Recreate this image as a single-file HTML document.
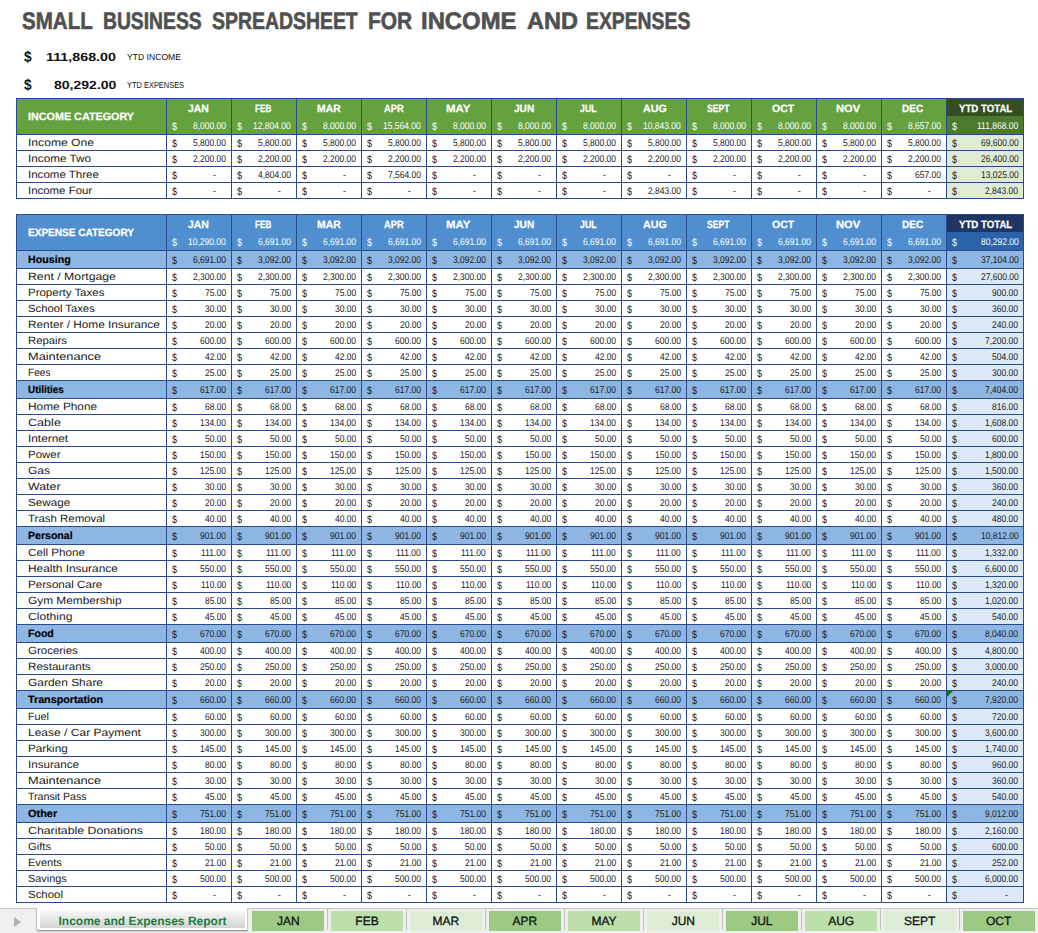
<!DOCTYPE html>
<html><head><meta charset="utf-8"><title>Small Business Spreadsheet</title><style>
*{margin:0;padding:0}
html,body{width:1038px;height:933px;overflow:hidden;background:#fff;position:relative;font-family:"Liberation Sans", sans-serif;text-rendering:geometricPrecision}
div{position:absolute}
span{position:absolute;white-space:pre;transform-origin:0 0}
</style></head><body>
<div style="left:16px;top:98px;width:1008px;height:36px;background:#64a13f;"></div><div style="left:946px;top:98px;width:77px;height:18px;background:#334e21;"></div><div style="left:946px;top:116px;width:77px;height:18px;background:#4b7a2f;"></div><div style="left:946px;top:134px;width:77px;height:16px;background:#dfecd5;"></div><div style="left:946px;top:150px;width:77px;height:16px;background:#dfecd5;"></div><div style="left:946px;top:166px;width:77px;height:16px;background:#dfecd5;"></div><div style="left:946px;top:182px;width:77px;height:16px;background:#dfecd5;"></div><div style="left:16px;top:98px;width:1008px;height:1px;background:#2b4a8c;"></div><div style="left:16px;top:134px;width:1008px;height:1px;background:#2b4a8c;"></div><div style="left:16px;top:150px;width:1008px;height:1px;background:#2b4a8c;"></div><div style="left:16px;top:166px;width:1008px;height:1px;background:#2b4a8c;"></div><div style="left:16px;top:182px;width:1008px;height:1px;background:#2b4a8c;"></div><div style="left:16px;top:198px;width:1008px;height:1px;background:#2b4a8c;"></div><div style="left:16px;top:98px;width:1px;height:101px;background:#2b4a8c;"></div><div style="left:166px;top:98px;width:1px;height:101px;background:#2b4a8c;"></div><div style="left:231px;top:98px;width:1px;height:101px;background:#2b4a8c;"></div><div style="left:296px;top:98px;width:1px;height:101px;background:#2b4a8c;"></div><div style="left:361px;top:98px;width:1px;height:101px;background:#2b4a8c;"></div><div style="left:426px;top:98px;width:1px;height:101px;background:#2b4a8c;"></div><div style="left:491px;top:98px;width:1px;height:101px;background:#2b4a8c;"></div><div style="left:556px;top:98px;width:1px;height:101px;background:#2b4a8c;"></div><div style="left:621px;top:98px;width:1px;height:101px;background:#2b4a8c;"></div><div style="left:686px;top:98px;width:1px;height:101px;background:#2b4a8c;"></div><div style="left:751px;top:98px;width:1px;height:101px;background:#2b4a8c;"></div><div style="left:816px;top:98px;width:1px;height:101px;background:#2b4a8c;"></div><div style="left:881px;top:98px;width:1px;height:101px;background:#2b4a8c;"></div><div style="left:946px;top:98px;width:1px;height:101px;background:#2b4a8c;"></div><div style="left:1023px;top:98px;width:1px;height:101px;background:#2b4a8c;"></div><div style="left:16px;top:214px;width:1008px;height:36px;background:#4f8fcf;"></div><div style="left:946px;top:214px;width:77px;height:18px;background:#1f3563;"></div><div style="left:946px;top:232px;width:77px;height:18px;background:#2a63a8;"></div><div style="left:16px;top:250px;width:1008px;height:18px;background:#8db6e3;"></div><div style="left:946px;top:268px;width:77px;height:16px;background:#dce9f6;"></div><div style="left:946px;top:284px;width:77px;height:16px;background:#dce9f6;"></div><div style="left:946px;top:300px;width:77px;height:16px;background:#dce9f6;"></div><div style="left:946px;top:316px;width:77px;height:16px;background:#dce9f6;"></div><div style="left:946px;top:332px;width:77px;height:16px;background:#dce9f6;"></div><div style="left:946px;top:348px;width:77px;height:16px;background:#dce9f6;"></div><div style="left:946px;top:364px;width:77px;height:16px;background:#dce9f6;"></div><div style="left:16px;top:380px;width:1008px;height:18px;background:#8db6e3;"></div><div style="left:946px;top:398px;width:77px;height:16px;background:#dce9f6;"></div><div style="left:946px;top:414px;width:77px;height:16px;background:#dce9f6;"></div><div style="left:946px;top:430px;width:77px;height:16px;background:#dce9f6;"></div><div style="left:946px;top:446px;width:77px;height:16px;background:#dce9f6;"></div><div style="left:946px;top:462px;width:77px;height:16px;background:#dce9f6;"></div><div style="left:946px;top:478px;width:77px;height:16px;background:#dce9f6;"></div><div style="left:946px;top:494px;width:77px;height:16px;background:#dce9f6;"></div><div style="left:946px;top:510px;width:77px;height:16px;background:#dce9f6;"></div><div style="left:16px;top:526px;width:1008px;height:18px;background:#8db6e3;"></div><div style="left:946px;top:544px;width:77px;height:16px;background:#dce9f6;"></div><div style="left:946px;top:560px;width:77px;height:16px;background:#dce9f6;"></div><div style="left:946px;top:576px;width:77px;height:16px;background:#dce9f6;"></div><div style="left:946px;top:592px;width:77px;height:16px;background:#dce9f6;"></div><div style="left:946px;top:608px;width:77px;height:16px;background:#dce9f6;"></div><div style="left:16px;top:624px;width:1008px;height:18px;background:#8db6e3;"></div><div style="left:946px;top:642px;width:77px;height:16px;background:#dce9f6;"></div><div style="left:946px;top:658px;width:77px;height:16px;background:#dce9f6;"></div><div style="left:946px;top:674px;width:77px;height:16px;background:#dce9f6;"></div><div style="left:16px;top:690px;width:1008px;height:18px;background:#8db6e3;"></div><div style="left:946px;top:708px;width:77px;height:16px;background:#dce9f6;"></div><div style="left:946px;top:724px;width:77px;height:16px;background:#dce9f6;"></div><div style="left:946px;top:740px;width:77px;height:16px;background:#dce9f6;"></div><div style="left:946px;top:756px;width:77px;height:16px;background:#dce9f6;"></div><div style="left:946px;top:772px;width:77px;height:16px;background:#dce9f6;"></div><div style="left:946px;top:788px;width:77px;height:16px;background:#dce9f6;"></div><div style="left:16px;top:804px;width:1008px;height:18px;background:#8db6e3;"></div><div style="left:946px;top:822px;width:77px;height:16px;background:#dce9f6;"></div><div style="left:946px;top:838px;width:77px;height:16px;background:#dce9f6;"></div><div style="left:946px;top:854px;width:77px;height:16px;background:#dce9f6;"></div><div style="left:946px;top:870px;width:77px;height:16px;background:#dce9f6;"></div><div style="left:946px;top:886px;width:77px;height:16px;background:#dce9f6;"></div><div style="left:16px;top:214px;width:1008px;height:1px;background:#2b4a8c;"></div><div style="left:16px;top:250px;width:1008px;height:1px;background:#2b4a8c;"></div><div style="left:16px;top:268px;width:1008px;height:1px;background:#2b4a8c;"></div><div style="left:16px;top:284px;width:1008px;height:1px;background:#2b4a8c;"></div><div style="left:16px;top:300px;width:1008px;height:1px;background:#2b4a8c;"></div><div style="left:16px;top:316px;width:1008px;height:1px;background:#2b4a8c;"></div><div style="left:16px;top:332px;width:1008px;height:1px;background:#2b4a8c;"></div><div style="left:16px;top:348px;width:1008px;height:1px;background:#2b4a8c;"></div><div style="left:16px;top:364px;width:1008px;height:1px;background:#2b4a8c;"></div><div style="left:16px;top:380px;width:1008px;height:1px;background:#2b4a8c;"></div><div style="left:16px;top:398px;width:1008px;height:1px;background:#2b4a8c;"></div><div style="left:16px;top:414px;width:1008px;height:1px;background:#2b4a8c;"></div><div style="left:16px;top:430px;width:1008px;height:1px;background:#2b4a8c;"></div><div style="left:16px;top:446px;width:1008px;height:1px;background:#2b4a8c;"></div><div style="left:16px;top:462px;width:1008px;height:1px;background:#2b4a8c;"></div><div style="left:16px;top:478px;width:1008px;height:1px;background:#2b4a8c;"></div><div style="left:16px;top:494px;width:1008px;height:1px;background:#2b4a8c;"></div><div style="left:16px;top:510px;width:1008px;height:1px;background:#2b4a8c;"></div><div style="left:16px;top:526px;width:1008px;height:1px;background:#2b4a8c;"></div><div style="left:16px;top:544px;width:1008px;height:1px;background:#2b4a8c;"></div><div style="left:16px;top:560px;width:1008px;height:1px;background:#2b4a8c;"></div><div style="left:16px;top:576px;width:1008px;height:1px;background:#2b4a8c;"></div><div style="left:16px;top:592px;width:1008px;height:1px;background:#2b4a8c;"></div><div style="left:16px;top:608px;width:1008px;height:1px;background:#2b4a8c;"></div><div style="left:16px;top:624px;width:1008px;height:1px;background:#2b4a8c;"></div><div style="left:16px;top:642px;width:1008px;height:1px;background:#2b4a8c;"></div><div style="left:16px;top:658px;width:1008px;height:1px;background:#2b4a8c;"></div><div style="left:16px;top:674px;width:1008px;height:1px;background:#2b4a8c;"></div><div style="left:16px;top:690px;width:1008px;height:1px;background:#2b4a8c;"></div><div style="left:16px;top:708px;width:1008px;height:1px;background:#2b4a8c;"></div><div style="left:16px;top:724px;width:1008px;height:1px;background:#2b4a8c;"></div><div style="left:16px;top:740px;width:1008px;height:1px;background:#2b4a8c;"></div><div style="left:16px;top:756px;width:1008px;height:1px;background:#2b4a8c;"></div><div style="left:16px;top:772px;width:1008px;height:1px;background:#2b4a8c;"></div><div style="left:16px;top:788px;width:1008px;height:1px;background:#2b4a8c;"></div><div style="left:16px;top:804px;width:1008px;height:1px;background:#2b4a8c;"></div><div style="left:16px;top:822px;width:1008px;height:1px;background:#2b4a8c;"></div><div style="left:16px;top:838px;width:1008px;height:1px;background:#2b4a8c;"></div><div style="left:16px;top:854px;width:1008px;height:1px;background:#2b4a8c;"></div><div style="left:16px;top:870px;width:1008px;height:1px;background:#2b4a8c;"></div><div style="left:16px;top:886px;width:1008px;height:1px;background:#2b4a8c;"></div><div style="left:16px;top:902px;width:1008px;height:1px;background:#2b4a8c;"></div><div style="left:16px;top:214px;width:1px;height:689px;background:#2b4a8c;"></div><div style="left:166px;top:214px;width:1px;height:689px;background:#2b4a8c;"></div><div style="left:231px;top:214px;width:1px;height:689px;background:#2b4a8c;"></div><div style="left:296px;top:214px;width:1px;height:689px;background:#2b4a8c;"></div><div style="left:361px;top:214px;width:1px;height:689px;background:#2b4a8c;"></div><div style="left:426px;top:214px;width:1px;height:689px;background:#2b4a8c;"></div><div style="left:491px;top:214px;width:1px;height:689px;background:#2b4a8c;"></div><div style="left:556px;top:214px;width:1px;height:689px;background:#2b4a8c;"></div><div style="left:621px;top:214px;width:1px;height:689px;background:#2b4a8c;"></div><div style="left:686px;top:214px;width:1px;height:689px;background:#2b4a8c;"></div><div style="left:751px;top:214px;width:1px;height:689px;background:#2b4a8c;"></div><div style="left:816px;top:214px;width:1px;height:689px;background:#2b4a8c;"></div><div style="left:881px;top:214px;width:1px;height:689px;background:#2b4a8c;"></div><div style="left:946px;top:214px;width:1px;height:689px;background:#2b4a8c;"></div><div style="left:1023px;top:214px;width:1px;height:689px;background:#2b4a8c;"></div><div style="left:947px;top:691px;width:0;height:0;border-top:6px solid #007c00;border-right:6px solid transparent;background:none"></div>
<div style="left:0;top:908px;width:1038px;height:25px;background:#efefef;border-top:1px solid #c6c6c6;box-sizing:border-box"></div><div style="left:14px;top:917px;width:0;height:0;border-left:7px solid #b0b0b0;border-top:5px solid transparent;border-bottom:5px solid transparent;background:none"></div><div style="left:36px;top:908px;width:212px;height:23px;background:#ffffff;border-left:1px solid #bdbdbd;border-bottom:1px solid #9c9c9c;border-right:1px solid #c8c8c8;border-bottom-left-radius:3px;box-sizing:border-box;box-shadow:0 1px 1px rgba(0,0,0,0.15)"></div><div style="left:40px;top:911px;width:205px;height:17px;background:linear-gradient(#f6f6f6,#d4d4d4)"></div><div style="left:252px;top:911px;width:72px;height:20px;background:#9dca83"></div><div style="left:327px;top:909px;width:1px;height:21px;background:#c3c3c3"></div><div style="left:331px;top:911px;width:72px;height:20px;background:#bddfab"></div><div style="left:406px;top:909px;width:1px;height:21px;background:#c3c3c3"></div><div style="left:410px;top:911px;width:72px;height:20px;background:#ddedd5"></div><div style="left:485px;top:909px;width:1px;height:21px;background:#c3c3c3"></div><div style="left:489px;top:911px;width:72px;height:20px;background:#9dca83"></div><div style="left:564px;top:909px;width:1px;height:21px;background:#c3c3c3"></div><div style="left:568px;top:911px;width:72px;height:20px;background:#bddfab"></div><div style="left:643px;top:909px;width:1px;height:21px;background:#c3c3c3"></div><div style="left:647px;top:911px;width:72px;height:20px;background:#ddedd5"></div><div style="left:722px;top:909px;width:1px;height:21px;background:#c3c3c3"></div><div style="left:726px;top:911px;width:72px;height:20px;background:#9dca83"></div><div style="left:801px;top:909px;width:1px;height:21px;background:#c3c3c3"></div><div style="left:805px;top:911px;width:72px;height:20px;background:#bddfab"></div><div style="left:880px;top:909px;width:1px;height:21px;background:#c3c3c3"></div><div style="left:884px;top:911px;width:72px;height:20px;background:#ddedd5"></div><div style="left:959px;top:909px;width:1px;height:21px;background:#c3c3c3"></div><div style="left:963px;top:911px;width:72px;height:20px;background:#9dca83"></div><div style="left:1038px;top:909px;width:1px;height:21px;background:#c3c3c3"></div>
<span style="left:21.70px;top:7.18px;font-size:24px;line-height:30.0px;font-weight:bold;color:#505050;transform:scaleX(0.8562);-webkit-text-stroke:0.6px #505050;">SMALL</span><span style="left:102.50px;top:7.18px;font-size:24px;line-height:30.0px;font-weight:bold;color:#505050;transform:scaleX(0.8037);-webkit-text-stroke:0.6px #505050;">BUSINESS</span><span style="left:212.20px;top:7.18px;font-size:24px;line-height:30.0px;font-weight:bold;color:#505050;transform:scaleX(0.8094);-webkit-text-stroke:0.6px #505050;">SPREADSHEET</span><span style="left:367.63px;top:7.18px;font-size:24px;line-height:30.0px;font-weight:bold;color:#505050;transform:scaleX(0.8737);-webkit-text-stroke:0.6px #505050;">FOR</span><span style="left:421.41px;top:7.18px;font-size:24px;line-height:30.0px;font-weight:bold;color:#505050;transform:scaleX(0.9938);-webkit-text-stroke:0.6px #505050;">INCOME</span><span style="left:527.00px;top:7.18px;font-size:24px;line-height:30.0px;font-weight:bold;color:#505050;transform:scaleX(0.9775);-webkit-text-stroke:0.6px #505050;">AND</span><span style="left:586.19px;top:7.18px;font-size:24px;line-height:30.0px;font-weight:bold;color:#505050;transform:scaleX(0.8062);-webkit-text-stroke:0.6px #505050;">EXPENSES</span><span style="left:24.10px;top:47.74px;font-size:15.5px;line-height:19.38px;font-weight:bold;color:#111;transform:scaleX(0.8778);">$</span><span style="left:45.90px;top:50.34px;font-size:11.8px;line-height:14.75px;font-weight:bold;color:#111;transform:scaleX(1.2118);">111,868.00</span><span style="left:127.40px;top:51.55px;font-size:8.8px;line-height:11.0px;color:#111;transform:scaleX(0.9773);">YTD INCOME</span><span style="left:24.10px;top:75.54px;font-size:15.5px;line-height:19.38px;font-weight:bold;color:#111;transform:scaleX(0.8778);">$</span><span style="left:53.50px;top:77.74px;font-size:11.8px;line-height:14.75px;font-weight:bold;color:#111;transform:scaleX(1.1886);">80,292.00</span><span style="left:127.40px;top:79.95px;font-size:8.8px;line-height:11.0px;color:#111;transform:scaleX(0.8462);">YTD EXPENSES</span><span style="left:28.30px;top:110.8px;font-size:10.5px;line-height:13.12px;font-weight:bold;color:#ffffff;transform:scaleX(1.0267);-webkit-text-stroke:0.25px #fff;">INCOME CATEGORY</span><span style="left:188.20px;top:103.0px;font-size:10.5px;line-height:13.12px;font-weight:bold;color:#ffffff;transform:scaleX(0.9940);-webkit-text-stroke:0.25px #fff;">JAN</span><span style="left:255.40px;top:103.0px;font-size:10.5px;line-height:13.12px;font-weight:bold;color:#ffffff;transform:scaleX(0.7751);-webkit-text-stroke:0.25px #fff;">FEB</span><span style="left:317.00px;top:103.0px;font-size:10.5px;line-height:13.12px;font-weight:bold;color:#ffffff;transform:scaleX(0.9906);-webkit-text-stroke:0.25px #fff;">MAR</span><span style="left:384.30px;top:103.0px;font-size:10.5px;line-height:13.12px;font-weight:bold;color:#ffffff;transform:scaleX(0.8855);-webkit-text-stroke:0.25px #fff;">APR</span><span style="left:446.40px;top:103.0px;font-size:10.5px;line-height:13.12px;font-weight:bold;color:#ffffff;transform:scaleX(1.0865);-webkit-text-stroke:0.25px #fff;">MAY</span><span style="left:514.10px;top:103.0px;font-size:10.5px;line-height:13.12px;font-weight:bold;color:#ffffff;transform:scaleX(0.9597);-webkit-text-stroke:0.25px #fff;">JUN</span><span style="left:579.90px;top:103.0px;font-size:10.5px;line-height:13.12px;font-weight:bold;color:#ffffff;transform:scaleX(0.8373);-webkit-text-stroke:0.25px #fff;">JUL</span><span style="left:642.50px;top:103.0px;font-size:10.5px;line-height:13.12px;font-weight:bold;color:#ffffff;transform:scaleX(1.0144);-webkit-text-stroke:0.25px #fff;">AUG</span><span style="left:706.80px;top:103.0px;font-size:10.5px;line-height:13.12px;font-weight:bold;color:#ffffff;transform:scaleX(0.8176);-webkit-text-stroke:0.25px #fff;">SEPT</span><span style="left:772.10px;top:103.0px;font-size:10.5px;line-height:13.12px;font-weight:bold;color:#ffffff;transform:scaleX(1.0022);-webkit-text-stroke:0.25px #fff;">OCT</span><span style="left:836.30px;top:103.0px;font-size:10.5px;line-height:13.12px;font-weight:bold;color:#ffffff;transform:scaleX(1.0593);-webkit-text-stroke:0.25px #fff;">NOV</span><span style="left:902.40px;top:103.0px;font-size:10.5px;line-height:13.12px;font-weight:bold;color:#ffffff;transform:scaleX(0.9608);-webkit-text-stroke:0.25px #fff;">DEC</span><span style="left:958.60px;top:103.0px;font-size:10.5px;line-height:13.12px;font-weight:bold;color:#ffffff;transform:scaleX(0.9193);-webkit-text-stroke:0.25px #fff;">YTD TOTAL</span><span style="left:172.20px;top:121.31px;font-size:10.8px;line-height:13.5px;color:#ffffff;transform:scaleX(0.8333);">$</span><span style="left:193.10px;top:121.08px;font-size:9.8px;line-height:12.25px;color:#ffffff;transform:scaleX(0.8659);">8,000.00</span><span style="left:237.20px;top:121.31px;font-size:10.8px;line-height:13.5px;color:#ffffff;transform:scaleX(0.8333);">$</span><span style="left:253.38px;top:121.08px;font-size:9.8px;line-height:12.25px;color:#ffffff;transform:scaleX(0.8659);">12,804.00</span><span style="left:302.20px;top:121.31px;font-size:10.8px;line-height:13.5px;color:#ffffff;transform:scaleX(0.8333);">$</span><span style="left:323.10px;top:121.08px;font-size:9.8px;line-height:12.25px;color:#ffffff;transform:scaleX(0.8659);">8,000.00</span><span style="left:367.20px;top:121.31px;font-size:10.8px;line-height:13.5px;color:#ffffff;transform:scaleX(0.8333);">$</span><span style="left:383.38px;top:121.08px;font-size:9.8px;line-height:12.25px;color:#ffffff;transform:scaleX(0.8659);">15,564.00</span><span style="left:432.20px;top:121.31px;font-size:10.8px;line-height:13.5px;color:#ffffff;transform:scaleX(0.8333);">$</span><span style="left:453.10px;top:121.08px;font-size:9.8px;line-height:12.25px;color:#ffffff;transform:scaleX(0.8659);">8,000.00</span><span style="left:497.20px;top:121.31px;font-size:10.8px;line-height:13.5px;color:#ffffff;transform:scaleX(0.8333);">$</span><span style="left:518.10px;top:121.08px;font-size:9.8px;line-height:12.25px;color:#ffffff;transform:scaleX(0.8659);">8,000.00</span><span style="left:562.20px;top:121.31px;font-size:10.8px;line-height:13.5px;color:#ffffff;transform:scaleX(0.8333);">$</span><span style="left:583.10px;top:121.08px;font-size:9.8px;line-height:12.25px;color:#ffffff;transform:scaleX(0.8659);">8,000.00</span><span style="left:627.20px;top:121.31px;font-size:10.8px;line-height:13.5px;color:#ffffff;transform:scaleX(0.8333);">$</span><span style="left:643.38px;top:121.08px;font-size:9.8px;line-height:12.25px;color:#ffffff;transform:scaleX(0.8659);">10,843.00</span><span style="left:692.20px;top:121.31px;font-size:10.8px;line-height:13.5px;color:#ffffff;transform:scaleX(0.8333);">$</span><span style="left:713.10px;top:121.08px;font-size:9.8px;line-height:12.25px;color:#ffffff;transform:scaleX(0.8659);">8,000.00</span><span style="left:757.20px;top:121.31px;font-size:10.8px;line-height:13.5px;color:#ffffff;transform:scaleX(0.8333);">$</span><span style="left:778.10px;top:121.08px;font-size:9.8px;line-height:12.25px;color:#ffffff;transform:scaleX(0.8659);">8,000.00</span><span style="left:822.20px;top:121.31px;font-size:10.8px;line-height:13.5px;color:#ffffff;transform:scaleX(0.8333);">$</span><span style="left:843.10px;top:121.08px;font-size:9.8px;line-height:12.25px;color:#ffffff;transform:scaleX(0.8659);">8,000.00</span><span style="left:887.20px;top:121.31px;font-size:10.8px;line-height:13.5px;color:#ffffff;transform:scaleX(0.8333);">$</span><span style="left:908.10px;top:121.08px;font-size:9.8px;line-height:12.25px;color:#ffffff;transform:scaleX(0.8659);">8,657.00</span><span style="left:952.20px;top:121.31px;font-size:10.8px;line-height:13.5px;color:#ffffff;transform:scaleX(0.8333);">$</span><span style="left:977.22px;top:121.08px;font-size:9.8px;line-height:12.25px;color:#ffffff;transform:scaleX(0.8659);">111,868.00</span><span style="left:28.40px;top:136.6px;font-size:10.5px;line-height:13.12px;color:#1a1a1a;transform:scaleX(1.1542);">Income One</span><span style="left:172.20px;top:138.11px;font-size:10.8px;line-height:13.5px;color:#1a1a1a;transform:scaleX(0.8333);">$</span><span style="left:193.10px;top:138.48px;font-size:9.8px;line-height:12.25px;color:#1a1a1a;transform:scaleX(0.8659);">5,800.00</span><span style="left:237.20px;top:138.11px;font-size:10.8px;line-height:13.5px;color:#1a1a1a;transform:scaleX(0.8333);">$</span><span style="left:258.10px;top:138.48px;font-size:9.8px;line-height:12.25px;color:#1a1a1a;transform:scaleX(0.8659);">5,800.00</span><span style="left:302.20px;top:138.11px;font-size:10.8px;line-height:13.5px;color:#1a1a1a;transform:scaleX(0.8333);">$</span><span style="left:323.10px;top:138.48px;font-size:9.8px;line-height:12.25px;color:#1a1a1a;transform:scaleX(0.8659);">5,800.00</span><span style="left:367.20px;top:138.11px;font-size:10.8px;line-height:13.5px;color:#1a1a1a;transform:scaleX(0.8333);">$</span><span style="left:388.10px;top:138.48px;font-size:9.8px;line-height:12.25px;color:#1a1a1a;transform:scaleX(0.8659);">5,800.00</span><span style="left:432.20px;top:138.11px;font-size:10.8px;line-height:13.5px;color:#1a1a1a;transform:scaleX(0.8333);">$</span><span style="left:453.10px;top:138.48px;font-size:9.8px;line-height:12.25px;color:#1a1a1a;transform:scaleX(0.8659);">5,800.00</span><span style="left:497.20px;top:138.11px;font-size:10.8px;line-height:13.5px;color:#1a1a1a;transform:scaleX(0.8333);">$</span><span style="left:518.10px;top:138.48px;font-size:9.8px;line-height:12.25px;color:#1a1a1a;transform:scaleX(0.8659);">5,800.00</span><span style="left:562.20px;top:138.11px;font-size:10.8px;line-height:13.5px;color:#1a1a1a;transform:scaleX(0.8333);">$</span><span style="left:583.10px;top:138.48px;font-size:9.8px;line-height:12.25px;color:#1a1a1a;transform:scaleX(0.8659);">5,800.00</span><span style="left:627.20px;top:138.11px;font-size:10.8px;line-height:13.5px;color:#1a1a1a;transform:scaleX(0.8333);">$</span><span style="left:648.10px;top:138.48px;font-size:9.8px;line-height:12.25px;color:#1a1a1a;transform:scaleX(0.8659);">5,800.00</span><span style="left:692.20px;top:138.11px;font-size:10.8px;line-height:13.5px;color:#1a1a1a;transform:scaleX(0.8333);">$</span><span style="left:713.10px;top:138.48px;font-size:9.8px;line-height:12.25px;color:#1a1a1a;transform:scaleX(0.8659);">5,800.00</span><span style="left:757.20px;top:138.11px;font-size:10.8px;line-height:13.5px;color:#1a1a1a;transform:scaleX(0.8333);">$</span><span style="left:778.10px;top:138.48px;font-size:9.8px;line-height:12.25px;color:#1a1a1a;transform:scaleX(0.8659);">5,800.00</span><span style="left:822.20px;top:138.11px;font-size:10.8px;line-height:13.5px;color:#1a1a1a;transform:scaleX(0.8333);">$</span><span style="left:843.10px;top:138.48px;font-size:9.8px;line-height:12.25px;color:#1a1a1a;transform:scaleX(0.8659);">5,800.00</span><span style="left:887.20px;top:138.11px;font-size:10.8px;line-height:13.5px;color:#1a1a1a;transform:scaleX(0.8333);">$</span><span style="left:908.10px;top:138.48px;font-size:9.8px;line-height:12.25px;color:#1a1a1a;transform:scaleX(0.8659);">5,800.00</span><span style="left:952.20px;top:138.11px;font-size:10.8px;line-height:13.5px;color:#1a1a1a;transform:scaleX(0.8333);">$</span><span style="left:980.68px;top:138.48px;font-size:9.8px;line-height:12.25px;color:#1a1a1a;transform:scaleX(0.8659);">69,600.00</span><span style="left:28.40px;top:152.6px;font-size:10.5px;line-height:13.12px;color:#1a1a1a;transform:scaleX(1.1168);">Income Two</span><span style="left:172.20px;top:154.11px;font-size:10.8px;line-height:13.5px;color:#1a1a1a;transform:scaleX(0.8333);">$</span><span style="left:193.10px;top:154.48px;font-size:9.8px;line-height:12.25px;color:#1a1a1a;transform:scaleX(0.8659);">2,200.00</span><span style="left:237.20px;top:154.11px;font-size:10.8px;line-height:13.5px;color:#1a1a1a;transform:scaleX(0.8333);">$</span><span style="left:258.10px;top:154.48px;font-size:9.8px;line-height:12.25px;color:#1a1a1a;transform:scaleX(0.8659);">2,200.00</span><span style="left:302.20px;top:154.11px;font-size:10.8px;line-height:13.5px;color:#1a1a1a;transform:scaleX(0.8333);">$</span><span style="left:323.10px;top:154.48px;font-size:9.8px;line-height:12.25px;color:#1a1a1a;transform:scaleX(0.8659);">2,200.00</span><span style="left:367.20px;top:154.11px;font-size:10.8px;line-height:13.5px;color:#1a1a1a;transform:scaleX(0.8333);">$</span><span style="left:388.10px;top:154.48px;font-size:9.8px;line-height:12.25px;color:#1a1a1a;transform:scaleX(0.8659);">2,200.00</span><span style="left:432.20px;top:154.11px;font-size:10.8px;line-height:13.5px;color:#1a1a1a;transform:scaleX(0.8333);">$</span><span style="left:453.10px;top:154.48px;font-size:9.8px;line-height:12.25px;color:#1a1a1a;transform:scaleX(0.8659);">2,200.00</span><span style="left:497.20px;top:154.11px;font-size:10.8px;line-height:13.5px;color:#1a1a1a;transform:scaleX(0.8333);">$</span><span style="left:518.10px;top:154.48px;font-size:9.8px;line-height:12.25px;color:#1a1a1a;transform:scaleX(0.8659);">2,200.00</span><span style="left:562.20px;top:154.11px;font-size:10.8px;line-height:13.5px;color:#1a1a1a;transform:scaleX(0.8333);">$</span><span style="left:583.10px;top:154.48px;font-size:9.8px;line-height:12.25px;color:#1a1a1a;transform:scaleX(0.8659);">2,200.00</span><span style="left:627.20px;top:154.11px;font-size:10.8px;line-height:13.5px;color:#1a1a1a;transform:scaleX(0.8333);">$</span><span style="left:648.10px;top:154.48px;font-size:9.8px;line-height:12.25px;color:#1a1a1a;transform:scaleX(0.8659);">2,200.00</span><span style="left:692.20px;top:154.11px;font-size:10.8px;line-height:13.5px;color:#1a1a1a;transform:scaleX(0.8333);">$</span><span style="left:713.10px;top:154.48px;font-size:9.8px;line-height:12.25px;color:#1a1a1a;transform:scaleX(0.8659);">2,200.00</span><span style="left:757.20px;top:154.11px;font-size:10.8px;line-height:13.5px;color:#1a1a1a;transform:scaleX(0.8333);">$</span><span style="left:778.10px;top:154.48px;font-size:9.8px;line-height:12.25px;color:#1a1a1a;transform:scaleX(0.8659);">2,200.00</span><span style="left:822.20px;top:154.11px;font-size:10.8px;line-height:13.5px;color:#1a1a1a;transform:scaleX(0.8333);">$</span><span style="left:843.10px;top:154.48px;font-size:9.8px;line-height:12.25px;color:#1a1a1a;transform:scaleX(0.8659);">2,200.00</span><span style="left:887.20px;top:154.11px;font-size:10.8px;line-height:13.5px;color:#1a1a1a;transform:scaleX(0.8333);">$</span><span style="left:908.10px;top:154.48px;font-size:9.8px;line-height:12.25px;color:#1a1a1a;transform:scaleX(0.8659);">2,200.00</span><span style="left:952.20px;top:154.11px;font-size:10.8px;line-height:13.5px;color:#1a1a1a;transform:scaleX(0.8333);">$</span><span style="left:980.68px;top:154.48px;font-size:9.8px;line-height:12.25px;color:#1a1a1a;transform:scaleX(0.8659);">26,400.00</span><span style="left:28.40px;top:168.6px;font-size:10.5px;line-height:13.12px;color:#1a1a1a;transform:scaleX(1.0979);">Income Three</span><span style="left:172.20px;top:170.11px;font-size:10.8px;line-height:13.5px;color:#1a1a1a;transform:scaleX(0.8333);">$</span><span style="left:213.00px;top:170.48px;font-size:9.8px;line-height:12.25px;color:#1a1a1a;transform:scaleX(0.8659);">-</span><span style="left:237.20px;top:170.11px;font-size:10.8px;line-height:13.5px;color:#1a1a1a;transform:scaleX(0.8333);">$</span><span style="left:258.10px;top:170.48px;font-size:9.8px;line-height:12.25px;color:#1a1a1a;transform:scaleX(0.8659);">4,804.00</span><span style="left:302.20px;top:170.11px;font-size:10.8px;line-height:13.5px;color:#1a1a1a;transform:scaleX(0.8333);">$</span><span style="left:343.00px;top:170.48px;font-size:9.8px;line-height:12.25px;color:#1a1a1a;transform:scaleX(0.8659);">-</span><span style="left:367.20px;top:170.11px;font-size:10.8px;line-height:13.5px;color:#1a1a1a;transform:scaleX(0.8333);">$</span><span style="left:388.10px;top:170.48px;font-size:9.8px;line-height:12.25px;color:#1a1a1a;transform:scaleX(0.8659);">7,564.00</span><span style="left:432.20px;top:170.11px;font-size:10.8px;line-height:13.5px;color:#1a1a1a;transform:scaleX(0.8333);">$</span><span style="left:473.00px;top:170.48px;font-size:9.8px;line-height:12.25px;color:#1a1a1a;transform:scaleX(0.8659);">-</span><span style="left:497.20px;top:170.11px;font-size:10.8px;line-height:13.5px;color:#1a1a1a;transform:scaleX(0.8333);">$</span><span style="left:538.00px;top:170.48px;font-size:9.8px;line-height:12.25px;color:#1a1a1a;transform:scaleX(0.8659);">-</span><span style="left:562.20px;top:170.11px;font-size:10.8px;line-height:13.5px;color:#1a1a1a;transform:scaleX(0.8333);">$</span><span style="left:603.00px;top:170.48px;font-size:9.8px;line-height:12.25px;color:#1a1a1a;transform:scaleX(0.8659);">-</span><span style="left:627.20px;top:170.11px;font-size:10.8px;line-height:13.5px;color:#1a1a1a;transform:scaleX(0.8333);">$</span><span style="left:668.00px;top:170.48px;font-size:9.8px;line-height:12.25px;color:#1a1a1a;transform:scaleX(0.8659);">-</span><span style="left:692.20px;top:170.11px;font-size:10.8px;line-height:13.5px;color:#1a1a1a;transform:scaleX(0.8333);">$</span><span style="left:733.00px;top:170.48px;font-size:9.8px;line-height:12.25px;color:#1a1a1a;transform:scaleX(0.8659);">-</span><span style="left:757.20px;top:170.11px;font-size:10.8px;line-height:13.5px;color:#1a1a1a;transform:scaleX(0.8333);">$</span><span style="left:798.00px;top:170.48px;font-size:9.8px;line-height:12.25px;color:#1a1a1a;transform:scaleX(0.8659);">-</span><span style="left:822.20px;top:170.11px;font-size:10.8px;line-height:13.5px;color:#1a1a1a;transform:scaleX(0.8333);">$</span><span style="left:863.00px;top:170.48px;font-size:9.8px;line-height:12.25px;color:#1a1a1a;transform:scaleX(0.8659);">-</span><span style="left:887.20px;top:170.11px;font-size:10.8px;line-height:13.5px;color:#1a1a1a;transform:scaleX(0.8333);">$</span><span style="left:915.18px;top:170.48px;font-size:9.8px;line-height:12.25px;color:#1a1a1a;transform:scaleX(0.8659);">657.00</span><span style="left:952.20px;top:170.11px;font-size:10.8px;line-height:13.5px;color:#1a1a1a;transform:scaleX(0.8333);">$</span><span style="left:980.68px;top:170.48px;font-size:9.8px;line-height:12.25px;color:#1a1a1a;transform:scaleX(0.8659);">13,025.00</span><span style="left:28.40px;top:184.6px;font-size:10.5px;line-height:13.12px;color:#1a1a1a;transform:scaleX(1.0884);">Income Four</span><span style="left:172.20px;top:186.11px;font-size:10.8px;line-height:13.5px;color:#1a1a1a;transform:scaleX(0.8333);">$</span><span style="left:213.00px;top:186.48px;font-size:9.8px;line-height:12.25px;color:#1a1a1a;transform:scaleX(0.8659);">-</span><span style="left:237.20px;top:186.11px;font-size:10.8px;line-height:13.5px;color:#1a1a1a;transform:scaleX(0.8333);">$</span><span style="left:278.00px;top:186.48px;font-size:9.8px;line-height:12.25px;color:#1a1a1a;transform:scaleX(0.8659);">-</span><span style="left:302.20px;top:186.11px;font-size:10.8px;line-height:13.5px;color:#1a1a1a;transform:scaleX(0.8333);">$</span><span style="left:343.00px;top:186.48px;font-size:9.8px;line-height:12.25px;color:#1a1a1a;transform:scaleX(0.8659);">-</span><span style="left:367.20px;top:186.11px;font-size:10.8px;line-height:13.5px;color:#1a1a1a;transform:scaleX(0.8333);">$</span><span style="left:408.00px;top:186.48px;font-size:9.8px;line-height:12.25px;color:#1a1a1a;transform:scaleX(0.8659);">-</span><span style="left:432.20px;top:186.11px;font-size:10.8px;line-height:13.5px;color:#1a1a1a;transform:scaleX(0.8333);">$</span><span style="left:473.00px;top:186.48px;font-size:9.8px;line-height:12.25px;color:#1a1a1a;transform:scaleX(0.8659);">-</span><span style="left:497.20px;top:186.11px;font-size:10.8px;line-height:13.5px;color:#1a1a1a;transform:scaleX(0.8333);">$</span><span style="left:538.00px;top:186.48px;font-size:9.8px;line-height:12.25px;color:#1a1a1a;transform:scaleX(0.8659);">-</span><span style="left:562.20px;top:186.11px;font-size:10.8px;line-height:13.5px;color:#1a1a1a;transform:scaleX(0.8333);">$</span><span style="left:603.00px;top:186.48px;font-size:9.8px;line-height:12.25px;color:#1a1a1a;transform:scaleX(0.8659);">-</span><span style="left:627.20px;top:186.11px;font-size:10.8px;line-height:13.5px;color:#1a1a1a;transform:scaleX(0.8333);">$</span><span style="left:648.10px;top:186.48px;font-size:9.8px;line-height:12.25px;color:#1a1a1a;transform:scaleX(0.8659);">2,843.00</span><span style="left:692.20px;top:186.11px;font-size:10.8px;line-height:13.5px;color:#1a1a1a;transform:scaleX(0.8333);">$</span><span style="left:733.00px;top:186.48px;font-size:9.8px;line-height:12.25px;color:#1a1a1a;transform:scaleX(0.8659);">-</span><span style="left:757.20px;top:186.11px;font-size:10.8px;line-height:13.5px;color:#1a1a1a;transform:scaleX(0.8333);">$</span><span style="left:798.00px;top:186.48px;font-size:9.8px;line-height:12.25px;color:#1a1a1a;transform:scaleX(0.8659);">-</span><span style="left:822.20px;top:186.11px;font-size:10.8px;line-height:13.5px;color:#1a1a1a;transform:scaleX(0.8333);">$</span><span style="left:863.00px;top:186.48px;font-size:9.8px;line-height:12.25px;color:#1a1a1a;transform:scaleX(0.8659);">-</span><span style="left:887.20px;top:186.11px;font-size:10.8px;line-height:13.5px;color:#1a1a1a;transform:scaleX(0.8333);">$</span><span style="left:928.00px;top:186.48px;font-size:9.8px;line-height:12.25px;color:#1a1a1a;transform:scaleX(0.8659);">-</span><span style="left:952.20px;top:186.11px;font-size:10.8px;line-height:13.5px;color:#1a1a1a;transform:scaleX(0.8333);">$</span><span style="left:985.40px;top:186.48px;font-size:9.8px;line-height:12.25px;color:#1a1a1a;transform:scaleX(0.8659);">2,843.00</span><span style="left:28.30px;top:226.8px;font-size:10.5px;line-height:13.12px;font-weight:bold;color:#ffffff;transform:scaleX(0.9562);-webkit-text-stroke:0.25px #fff;">EXPENSE CATEGORY</span><span style="left:188.20px;top:219.0px;font-size:10.5px;line-height:13.12px;font-weight:bold;color:#ffffff;transform:scaleX(0.9940);-webkit-text-stroke:0.25px #fff;">JAN</span><span style="left:255.40px;top:219.0px;font-size:10.5px;line-height:13.12px;font-weight:bold;color:#ffffff;transform:scaleX(0.7751);-webkit-text-stroke:0.25px #fff;">FEB</span><span style="left:317.00px;top:219.0px;font-size:10.5px;line-height:13.12px;font-weight:bold;color:#ffffff;transform:scaleX(0.9906);-webkit-text-stroke:0.25px #fff;">MAR</span><span style="left:384.30px;top:219.0px;font-size:10.5px;line-height:13.12px;font-weight:bold;color:#ffffff;transform:scaleX(0.8855);-webkit-text-stroke:0.25px #fff;">APR</span><span style="left:446.40px;top:219.0px;font-size:10.5px;line-height:13.12px;font-weight:bold;color:#ffffff;transform:scaleX(1.0865);-webkit-text-stroke:0.25px #fff;">MAY</span><span style="left:514.10px;top:219.0px;font-size:10.5px;line-height:13.12px;font-weight:bold;color:#ffffff;transform:scaleX(0.9597);-webkit-text-stroke:0.25px #fff;">JUN</span><span style="left:579.90px;top:219.0px;font-size:10.5px;line-height:13.12px;font-weight:bold;color:#ffffff;transform:scaleX(0.8373);-webkit-text-stroke:0.25px #fff;">JUL</span><span style="left:642.50px;top:219.0px;font-size:10.5px;line-height:13.12px;font-weight:bold;color:#ffffff;transform:scaleX(1.0144);-webkit-text-stroke:0.25px #fff;">AUG</span><span style="left:706.80px;top:219.0px;font-size:10.5px;line-height:13.12px;font-weight:bold;color:#ffffff;transform:scaleX(0.8176);-webkit-text-stroke:0.25px #fff;">SEPT</span><span style="left:772.10px;top:219.0px;font-size:10.5px;line-height:13.12px;font-weight:bold;color:#ffffff;transform:scaleX(1.0022);-webkit-text-stroke:0.25px #fff;">OCT</span><span style="left:836.30px;top:219.0px;font-size:10.5px;line-height:13.12px;font-weight:bold;color:#ffffff;transform:scaleX(1.0593);-webkit-text-stroke:0.25px #fff;">NOV</span><span style="left:902.40px;top:219.0px;font-size:10.5px;line-height:13.12px;font-weight:bold;color:#ffffff;transform:scaleX(0.9608);-webkit-text-stroke:0.25px #fff;">DEC</span><span style="left:958.60px;top:219.0px;font-size:10.5px;line-height:13.12px;font-weight:bold;color:#ffffff;transform:scaleX(0.9193);-webkit-text-stroke:0.25px #fff;">YTD TOTAL</span><span style="left:172.20px;top:237.31px;font-size:10.8px;line-height:13.5px;color:#ffffff;transform:scaleX(0.8333);">$</span><span style="left:188.38px;top:237.08px;font-size:9.8px;line-height:12.25px;color:#ffffff;transform:scaleX(0.8659);">10,290.00</span><span style="left:237.20px;top:237.31px;font-size:10.8px;line-height:13.5px;color:#ffffff;transform:scaleX(0.8333);">$</span><span style="left:258.10px;top:237.08px;font-size:9.8px;line-height:12.25px;color:#ffffff;transform:scaleX(0.8659);">6,691.00</span><span style="left:302.20px;top:237.31px;font-size:10.8px;line-height:13.5px;color:#ffffff;transform:scaleX(0.8333);">$</span><span style="left:323.10px;top:237.08px;font-size:9.8px;line-height:12.25px;color:#ffffff;transform:scaleX(0.8659);">6,691.00</span><span style="left:367.20px;top:237.31px;font-size:10.8px;line-height:13.5px;color:#ffffff;transform:scaleX(0.8333);">$</span><span style="left:388.10px;top:237.08px;font-size:9.8px;line-height:12.25px;color:#ffffff;transform:scaleX(0.8659);">6,691.00</span><span style="left:432.20px;top:237.31px;font-size:10.8px;line-height:13.5px;color:#ffffff;transform:scaleX(0.8333);">$</span><span style="left:453.10px;top:237.08px;font-size:9.8px;line-height:12.25px;color:#ffffff;transform:scaleX(0.8659);">6,691.00</span><span style="left:497.20px;top:237.31px;font-size:10.8px;line-height:13.5px;color:#ffffff;transform:scaleX(0.8333);">$</span><span style="left:518.10px;top:237.08px;font-size:9.8px;line-height:12.25px;color:#ffffff;transform:scaleX(0.8659);">6,691.00</span><span style="left:562.20px;top:237.31px;font-size:10.8px;line-height:13.5px;color:#ffffff;transform:scaleX(0.8333);">$</span><span style="left:583.10px;top:237.08px;font-size:9.8px;line-height:12.25px;color:#ffffff;transform:scaleX(0.8659);">6,691.00</span><span style="left:627.20px;top:237.31px;font-size:10.8px;line-height:13.5px;color:#ffffff;transform:scaleX(0.8333);">$</span><span style="left:648.10px;top:237.08px;font-size:9.8px;line-height:12.25px;color:#ffffff;transform:scaleX(0.8659);">6,691.00</span><span style="left:692.20px;top:237.31px;font-size:10.8px;line-height:13.5px;color:#ffffff;transform:scaleX(0.8333);">$</span><span style="left:713.10px;top:237.08px;font-size:9.8px;line-height:12.25px;color:#ffffff;transform:scaleX(0.8659);">6,691.00</span><span style="left:757.20px;top:237.31px;font-size:10.8px;line-height:13.5px;color:#ffffff;transform:scaleX(0.8333);">$</span><span style="left:778.10px;top:237.08px;font-size:9.8px;line-height:12.25px;color:#ffffff;transform:scaleX(0.8659);">6,691.00</span><span style="left:822.20px;top:237.31px;font-size:10.8px;line-height:13.5px;color:#ffffff;transform:scaleX(0.8333);">$</span><span style="left:843.10px;top:237.08px;font-size:9.8px;line-height:12.25px;color:#ffffff;transform:scaleX(0.8659);">6,691.00</span><span style="left:887.20px;top:237.31px;font-size:10.8px;line-height:13.5px;color:#ffffff;transform:scaleX(0.8333);">$</span><span style="left:908.10px;top:237.08px;font-size:9.8px;line-height:12.25px;color:#ffffff;transform:scaleX(0.8659);">6,691.00</span><span style="left:952.20px;top:237.31px;font-size:10.8px;line-height:13.5px;color:#ffffff;transform:scaleX(0.8333);">$</span><span style="left:980.68px;top:237.08px;font-size:9.8px;line-height:12.25px;color:#ffffff;transform:scaleX(0.8659);">80,292.00</span><span style="left:28.40px;top:253.6px;font-size:10.5px;line-height:13.12px;font-weight:bold;color:#000;transform:scaleX(1.0173);-webkit-text-stroke:0.2px #000;">Housing</span><span style="left:172.20px;top:255.11px;font-size:10.8px;line-height:13.5px;color:#1a1a1a;transform:scaleX(0.8333);">$</span><span style="left:193.10px;top:255.48px;font-size:9.8px;line-height:12.25px;color:#1a1a1a;transform:scaleX(0.8659);">6,691.00</span><span style="left:237.20px;top:255.11px;font-size:10.8px;line-height:13.5px;color:#1a1a1a;transform:scaleX(0.8333);">$</span><span style="left:258.10px;top:255.48px;font-size:9.8px;line-height:12.25px;color:#1a1a1a;transform:scaleX(0.8659);">3,092.00</span><span style="left:302.20px;top:255.11px;font-size:10.8px;line-height:13.5px;color:#1a1a1a;transform:scaleX(0.8333);">$</span><span style="left:323.10px;top:255.48px;font-size:9.8px;line-height:12.25px;color:#1a1a1a;transform:scaleX(0.8659);">3,092.00</span><span style="left:367.20px;top:255.11px;font-size:10.8px;line-height:13.5px;color:#1a1a1a;transform:scaleX(0.8333);">$</span><span style="left:388.10px;top:255.48px;font-size:9.8px;line-height:12.25px;color:#1a1a1a;transform:scaleX(0.8659);">3,092.00</span><span style="left:432.20px;top:255.11px;font-size:10.8px;line-height:13.5px;color:#1a1a1a;transform:scaleX(0.8333);">$</span><span style="left:453.10px;top:255.48px;font-size:9.8px;line-height:12.25px;color:#1a1a1a;transform:scaleX(0.8659);">3,092.00</span><span style="left:497.20px;top:255.11px;font-size:10.8px;line-height:13.5px;color:#1a1a1a;transform:scaleX(0.8333);">$</span><span style="left:518.10px;top:255.48px;font-size:9.8px;line-height:12.25px;color:#1a1a1a;transform:scaleX(0.8659);">3,092.00</span><span style="left:562.20px;top:255.11px;font-size:10.8px;line-height:13.5px;color:#1a1a1a;transform:scaleX(0.8333);">$</span><span style="left:583.10px;top:255.48px;font-size:9.8px;line-height:12.25px;color:#1a1a1a;transform:scaleX(0.8659);">3,092.00</span><span style="left:627.20px;top:255.11px;font-size:10.8px;line-height:13.5px;color:#1a1a1a;transform:scaleX(0.8333);">$</span><span style="left:648.10px;top:255.48px;font-size:9.8px;line-height:12.25px;color:#1a1a1a;transform:scaleX(0.8659);">3,092.00</span><span style="left:692.20px;top:255.11px;font-size:10.8px;line-height:13.5px;color:#1a1a1a;transform:scaleX(0.8333);">$</span><span style="left:713.10px;top:255.48px;font-size:9.8px;line-height:12.25px;color:#1a1a1a;transform:scaleX(0.8659);">3,092.00</span><span style="left:757.20px;top:255.11px;font-size:10.8px;line-height:13.5px;color:#1a1a1a;transform:scaleX(0.8333);">$</span><span style="left:778.10px;top:255.48px;font-size:9.8px;line-height:12.25px;color:#1a1a1a;transform:scaleX(0.8659);">3,092.00</span><span style="left:822.20px;top:255.11px;font-size:10.8px;line-height:13.5px;color:#1a1a1a;transform:scaleX(0.8333);">$</span><span style="left:843.10px;top:255.48px;font-size:9.8px;line-height:12.25px;color:#1a1a1a;transform:scaleX(0.8659);">3,092.00</span><span style="left:887.20px;top:255.11px;font-size:10.8px;line-height:13.5px;color:#1a1a1a;transform:scaleX(0.8333);">$</span><span style="left:908.10px;top:255.48px;font-size:9.8px;line-height:12.25px;color:#1a1a1a;transform:scaleX(0.8659);">3,092.00</span><span style="left:952.20px;top:255.11px;font-size:10.8px;line-height:13.5px;color:#1a1a1a;transform:scaleX(0.8333);">$</span><span style="left:980.68px;top:255.48px;font-size:9.8px;line-height:12.25px;color:#1a1a1a;transform:scaleX(0.8659);">37,104.00</span><span style="left:28.40px;top:270.6px;font-size:10.5px;line-height:13.12px;color:#1a1a1a;transform:scaleX(1.1677);">Rent / Mortgage</span><span style="left:172.20px;top:272.11px;font-size:10.8px;line-height:13.5px;color:#1a1a1a;transform:scaleX(0.8333);">$</span><span style="left:193.10px;top:272.48px;font-size:9.8px;line-height:12.25px;color:#1a1a1a;transform:scaleX(0.8659);">2,300.00</span><span style="left:237.20px;top:272.11px;font-size:10.8px;line-height:13.5px;color:#1a1a1a;transform:scaleX(0.8333);">$</span><span style="left:258.10px;top:272.48px;font-size:9.8px;line-height:12.25px;color:#1a1a1a;transform:scaleX(0.8659);">2,300.00</span><span style="left:302.20px;top:272.11px;font-size:10.8px;line-height:13.5px;color:#1a1a1a;transform:scaleX(0.8333);">$</span><span style="left:323.10px;top:272.48px;font-size:9.8px;line-height:12.25px;color:#1a1a1a;transform:scaleX(0.8659);">2,300.00</span><span style="left:367.20px;top:272.11px;font-size:10.8px;line-height:13.5px;color:#1a1a1a;transform:scaleX(0.8333);">$</span><span style="left:388.10px;top:272.48px;font-size:9.8px;line-height:12.25px;color:#1a1a1a;transform:scaleX(0.8659);">2,300.00</span><span style="left:432.20px;top:272.11px;font-size:10.8px;line-height:13.5px;color:#1a1a1a;transform:scaleX(0.8333);">$</span><span style="left:453.10px;top:272.48px;font-size:9.8px;line-height:12.25px;color:#1a1a1a;transform:scaleX(0.8659);">2,300.00</span><span style="left:497.20px;top:272.11px;font-size:10.8px;line-height:13.5px;color:#1a1a1a;transform:scaleX(0.8333);">$</span><span style="left:518.10px;top:272.48px;font-size:9.8px;line-height:12.25px;color:#1a1a1a;transform:scaleX(0.8659);">2,300.00</span><span style="left:562.20px;top:272.11px;font-size:10.8px;line-height:13.5px;color:#1a1a1a;transform:scaleX(0.8333);">$</span><span style="left:583.10px;top:272.48px;font-size:9.8px;line-height:12.25px;color:#1a1a1a;transform:scaleX(0.8659);">2,300.00</span><span style="left:627.20px;top:272.11px;font-size:10.8px;line-height:13.5px;color:#1a1a1a;transform:scaleX(0.8333);">$</span><span style="left:648.10px;top:272.48px;font-size:9.8px;line-height:12.25px;color:#1a1a1a;transform:scaleX(0.8659);">2,300.00</span><span style="left:692.20px;top:272.11px;font-size:10.8px;line-height:13.5px;color:#1a1a1a;transform:scaleX(0.8333);">$</span><span style="left:713.10px;top:272.48px;font-size:9.8px;line-height:12.25px;color:#1a1a1a;transform:scaleX(0.8659);">2,300.00</span><span style="left:757.20px;top:272.11px;font-size:10.8px;line-height:13.5px;color:#1a1a1a;transform:scaleX(0.8333);">$</span><span style="left:778.10px;top:272.48px;font-size:9.8px;line-height:12.25px;color:#1a1a1a;transform:scaleX(0.8659);">2,300.00</span><span style="left:822.20px;top:272.11px;font-size:10.8px;line-height:13.5px;color:#1a1a1a;transform:scaleX(0.8333);">$</span><span style="left:843.10px;top:272.48px;font-size:9.8px;line-height:12.25px;color:#1a1a1a;transform:scaleX(0.8659);">2,300.00</span><span style="left:887.20px;top:272.11px;font-size:10.8px;line-height:13.5px;color:#1a1a1a;transform:scaleX(0.8333);">$</span><span style="left:908.10px;top:272.48px;font-size:9.8px;line-height:12.25px;color:#1a1a1a;transform:scaleX(0.8659);">2,300.00</span><span style="left:952.20px;top:272.11px;font-size:10.8px;line-height:13.5px;color:#1a1a1a;transform:scaleX(0.8333);">$</span><span style="left:980.68px;top:272.48px;font-size:9.8px;line-height:12.25px;color:#1a1a1a;transform:scaleX(0.8659);">27,600.00</span><span style="left:28.40px;top:286.6px;font-size:10.5px;line-height:13.12px;color:#1a1a1a;transform:scaleX(1.0935);">Property Taxes</span><span style="left:172.20px;top:288.11px;font-size:10.8px;line-height:13.5px;color:#1a1a1a;transform:scaleX(0.8333);">$</span><span style="left:204.89px;top:288.48px;font-size:9.8px;line-height:12.25px;color:#1a1a1a;transform:scaleX(0.8659);">75.00</span><span style="left:237.20px;top:288.11px;font-size:10.8px;line-height:13.5px;color:#1a1a1a;transform:scaleX(0.8333);">$</span><span style="left:269.89px;top:288.48px;font-size:9.8px;line-height:12.25px;color:#1a1a1a;transform:scaleX(0.8659);">75.00</span><span style="left:302.20px;top:288.11px;font-size:10.8px;line-height:13.5px;color:#1a1a1a;transform:scaleX(0.8333);">$</span><span style="left:334.89px;top:288.48px;font-size:9.8px;line-height:12.25px;color:#1a1a1a;transform:scaleX(0.8659);">75.00</span><span style="left:367.20px;top:288.11px;font-size:10.8px;line-height:13.5px;color:#1a1a1a;transform:scaleX(0.8333);">$</span><span style="left:399.89px;top:288.48px;font-size:9.8px;line-height:12.25px;color:#1a1a1a;transform:scaleX(0.8659);">75.00</span><span style="left:432.20px;top:288.11px;font-size:10.8px;line-height:13.5px;color:#1a1a1a;transform:scaleX(0.8333);">$</span><span style="left:464.89px;top:288.48px;font-size:9.8px;line-height:12.25px;color:#1a1a1a;transform:scaleX(0.8659);">75.00</span><span style="left:497.20px;top:288.11px;font-size:10.8px;line-height:13.5px;color:#1a1a1a;transform:scaleX(0.8333);">$</span><span style="left:529.89px;top:288.48px;font-size:9.8px;line-height:12.25px;color:#1a1a1a;transform:scaleX(0.8659);">75.00</span><span style="left:562.20px;top:288.11px;font-size:10.8px;line-height:13.5px;color:#1a1a1a;transform:scaleX(0.8333);">$</span><span style="left:594.89px;top:288.48px;font-size:9.8px;line-height:12.25px;color:#1a1a1a;transform:scaleX(0.8659);">75.00</span><span style="left:627.20px;top:288.11px;font-size:10.8px;line-height:13.5px;color:#1a1a1a;transform:scaleX(0.8333);">$</span><span style="left:659.89px;top:288.48px;font-size:9.8px;line-height:12.25px;color:#1a1a1a;transform:scaleX(0.8659);">75.00</span><span style="left:692.20px;top:288.11px;font-size:10.8px;line-height:13.5px;color:#1a1a1a;transform:scaleX(0.8333);">$</span><span style="left:724.89px;top:288.48px;font-size:9.8px;line-height:12.25px;color:#1a1a1a;transform:scaleX(0.8659);">75.00</span><span style="left:757.20px;top:288.11px;font-size:10.8px;line-height:13.5px;color:#1a1a1a;transform:scaleX(0.8333);">$</span><span style="left:789.89px;top:288.48px;font-size:9.8px;line-height:12.25px;color:#1a1a1a;transform:scaleX(0.8659);">75.00</span><span style="left:822.20px;top:288.11px;font-size:10.8px;line-height:13.5px;color:#1a1a1a;transform:scaleX(0.8333);">$</span><span style="left:854.89px;top:288.48px;font-size:9.8px;line-height:12.25px;color:#1a1a1a;transform:scaleX(0.8659);">75.00</span><span style="left:887.20px;top:288.11px;font-size:10.8px;line-height:13.5px;color:#1a1a1a;transform:scaleX(0.8333);">$</span><span style="left:919.89px;top:288.48px;font-size:9.8px;line-height:12.25px;color:#1a1a1a;transform:scaleX(0.8659);">75.00</span><span style="left:952.20px;top:288.11px;font-size:10.8px;line-height:13.5px;color:#1a1a1a;transform:scaleX(0.8333);">$</span><span style="left:992.48px;top:288.48px;font-size:9.8px;line-height:12.25px;color:#1a1a1a;transform:scaleX(0.8659);">900.00</span><span style="left:28.40px;top:302.6px;font-size:10.5px;line-height:13.12px;color:#1a1a1a;transform:scaleX(1.0723);">School Taxes</span><span style="left:172.20px;top:304.11px;font-size:10.8px;line-height:13.5px;color:#1a1a1a;transform:scaleX(0.8333);">$</span><span style="left:204.89px;top:304.48px;font-size:9.8px;line-height:12.25px;color:#1a1a1a;transform:scaleX(0.8659);">30.00</span><span style="left:237.20px;top:304.11px;font-size:10.8px;line-height:13.5px;color:#1a1a1a;transform:scaleX(0.8333);">$</span><span style="left:269.89px;top:304.48px;font-size:9.8px;line-height:12.25px;color:#1a1a1a;transform:scaleX(0.8659);">30.00</span><span style="left:302.20px;top:304.11px;font-size:10.8px;line-height:13.5px;color:#1a1a1a;transform:scaleX(0.8333);">$</span><span style="left:334.89px;top:304.48px;font-size:9.8px;line-height:12.25px;color:#1a1a1a;transform:scaleX(0.8659);">30.00</span><span style="left:367.20px;top:304.11px;font-size:10.8px;line-height:13.5px;color:#1a1a1a;transform:scaleX(0.8333);">$</span><span style="left:399.89px;top:304.48px;font-size:9.8px;line-height:12.25px;color:#1a1a1a;transform:scaleX(0.8659);">30.00</span><span style="left:432.20px;top:304.11px;font-size:10.8px;line-height:13.5px;color:#1a1a1a;transform:scaleX(0.8333);">$</span><span style="left:464.89px;top:304.48px;font-size:9.8px;line-height:12.25px;color:#1a1a1a;transform:scaleX(0.8659);">30.00</span><span style="left:497.20px;top:304.11px;font-size:10.8px;line-height:13.5px;color:#1a1a1a;transform:scaleX(0.8333);">$</span><span style="left:529.89px;top:304.48px;font-size:9.8px;line-height:12.25px;color:#1a1a1a;transform:scaleX(0.8659);">30.00</span><span style="left:562.20px;top:304.11px;font-size:10.8px;line-height:13.5px;color:#1a1a1a;transform:scaleX(0.8333);">$</span><span style="left:594.89px;top:304.48px;font-size:9.8px;line-height:12.25px;color:#1a1a1a;transform:scaleX(0.8659);">30.00</span><span style="left:627.20px;top:304.11px;font-size:10.8px;line-height:13.5px;color:#1a1a1a;transform:scaleX(0.8333);">$</span><span style="left:659.89px;top:304.48px;font-size:9.8px;line-height:12.25px;color:#1a1a1a;transform:scaleX(0.8659);">30.00</span><span style="left:692.20px;top:304.11px;font-size:10.8px;line-height:13.5px;color:#1a1a1a;transform:scaleX(0.8333);">$</span><span style="left:724.89px;top:304.48px;font-size:9.8px;line-height:12.25px;color:#1a1a1a;transform:scaleX(0.8659);">30.00</span><span style="left:757.20px;top:304.11px;font-size:10.8px;line-height:13.5px;color:#1a1a1a;transform:scaleX(0.8333);">$</span><span style="left:789.89px;top:304.48px;font-size:9.8px;line-height:12.25px;color:#1a1a1a;transform:scaleX(0.8659);">30.00</span><span style="left:822.20px;top:304.11px;font-size:10.8px;line-height:13.5px;color:#1a1a1a;transform:scaleX(0.8333);">$</span><span style="left:854.89px;top:304.48px;font-size:9.8px;line-height:12.25px;color:#1a1a1a;transform:scaleX(0.8659);">30.00</span><span style="left:887.20px;top:304.11px;font-size:10.8px;line-height:13.5px;color:#1a1a1a;transform:scaleX(0.8333);">$</span><span style="left:919.89px;top:304.48px;font-size:9.8px;line-height:12.25px;color:#1a1a1a;transform:scaleX(0.8659);">30.00</span><span style="left:952.20px;top:304.11px;font-size:10.8px;line-height:13.5px;color:#1a1a1a;transform:scaleX(0.8333);">$</span><span style="left:992.48px;top:304.48px;font-size:9.8px;line-height:12.25px;color:#1a1a1a;transform:scaleX(0.8659);">360.00</span><span style="left:28.40px;top:318.6px;font-size:10.5px;line-height:13.12px;color:#1a1a1a;transform:scaleX(1.1237);">Renter / Home Insurance</span><span style="left:172.20px;top:320.11px;font-size:10.8px;line-height:13.5px;color:#1a1a1a;transform:scaleX(0.8333);">$</span><span style="left:204.89px;top:320.48px;font-size:9.8px;line-height:12.25px;color:#1a1a1a;transform:scaleX(0.8659);">20.00</span><span style="left:237.20px;top:320.11px;font-size:10.8px;line-height:13.5px;color:#1a1a1a;transform:scaleX(0.8333);">$</span><span style="left:269.89px;top:320.48px;font-size:9.8px;line-height:12.25px;color:#1a1a1a;transform:scaleX(0.8659);">20.00</span><span style="left:302.20px;top:320.11px;font-size:10.8px;line-height:13.5px;color:#1a1a1a;transform:scaleX(0.8333);">$</span><span style="left:334.89px;top:320.48px;font-size:9.8px;line-height:12.25px;color:#1a1a1a;transform:scaleX(0.8659);">20.00</span><span style="left:367.20px;top:320.11px;font-size:10.8px;line-height:13.5px;color:#1a1a1a;transform:scaleX(0.8333);">$</span><span style="left:399.89px;top:320.48px;font-size:9.8px;line-height:12.25px;color:#1a1a1a;transform:scaleX(0.8659);">20.00</span><span style="left:432.20px;top:320.11px;font-size:10.8px;line-height:13.5px;color:#1a1a1a;transform:scaleX(0.8333);">$</span><span style="left:464.89px;top:320.48px;font-size:9.8px;line-height:12.25px;color:#1a1a1a;transform:scaleX(0.8659);">20.00</span><span style="left:497.20px;top:320.11px;font-size:10.8px;line-height:13.5px;color:#1a1a1a;transform:scaleX(0.8333);">$</span><span style="left:529.89px;top:320.48px;font-size:9.8px;line-height:12.25px;color:#1a1a1a;transform:scaleX(0.8659);">20.00</span><span style="left:562.20px;top:320.11px;font-size:10.8px;line-height:13.5px;color:#1a1a1a;transform:scaleX(0.8333);">$</span><span style="left:594.89px;top:320.48px;font-size:9.8px;line-height:12.25px;color:#1a1a1a;transform:scaleX(0.8659);">20.00</span><span style="left:627.20px;top:320.11px;font-size:10.8px;line-height:13.5px;color:#1a1a1a;transform:scaleX(0.8333);">$</span><span style="left:659.89px;top:320.48px;font-size:9.8px;line-height:12.25px;color:#1a1a1a;transform:scaleX(0.8659);">20.00</span><span style="left:692.20px;top:320.11px;font-size:10.8px;line-height:13.5px;color:#1a1a1a;transform:scaleX(0.8333);">$</span><span style="left:724.89px;top:320.48px;font-size:9.8px;line-height:12.25px;color:#1a1a1a;transform:scaleX(0.8659);">20.00</span><span style="left:757.20px;top:320.11px;font-size:10.8px;line-height:13.5px;color:#1a1a1a;transform:scaleX(0.8333);">$</span><span style="left:789.89px;top:320.48px;font-size:9.8px;line-height:12.25px;color:#1a1a1a;transform:scaleX(0.8659);">20.00</span><span style="left:822.20px;top:320.11px;font-size:10.8px;line-height:13.5px;color:#1a1a1a;transform:scaleX(0.8333);">$</span><span style="left:854.89px;top:320.48px;font-size:9.8px;line-height:12.25px;color:#1a1a1a;transform:scaleX(0.8659);">20.00</span><span style="left:887.20px;top:320.11px;font-size:10.8px;line-height:13.5px;color:#1a1a1a;transform:scaleX(0.8333);">$</span><span style="left:919.89px;top:320.48px;font-size:9.8px;line-height:12.25px;color:#1a1a1a;transform:scaleX(0.8659);">20.00</span><span style="left:952.20px;top:320.11px;font-size:10.8px;line-height:13.5px;color:#1a1a1a;transform:scaleX(0.8333);">$</span><span style="left:992.48px;top:320.48px;font-size:9.8px;line-height:12.25px;color:#1a1a1a;transform:scaleX(0.8659);">240.00</span><span style="left:28.40px;top:334.6px;font-size:10.5px;line-height:13.12px;color:#1a1a1a;transform:scaleX(1.0771);">Repairs</span><span style="left:172.20px;top:336.11px;font-size:10.8px;line-height:13.5px;color:#1a1a1a;transform:scaleX(0.8333);">$</span><span style="left:200.18px;top:336.48px;font-size:9.8px;line-height:12.25px;color:#1a1a1a;transform:scaleX(0.8659);">600.00</span><span style="left:237.20px;top:336.11px;font-size:10.8px;line-height:13.5px;color:#1a1a1a;transform:scaleX(0.8333);">$</span><span style="left:265.18px;top:336.48px;font-size:9.8px;line-height:12.25px;color:#1a1a1a;transform:scaleX(0.8659);">600.00</span><span style="left:302.20px;top:336.11px;font-size:10.8px;line-height:13.5px;color:#1a1a1a;transform:scaleX(0.8333);">$</span><span style="left:330.18px;top:336.48px;font-size:9.8px;line-height:12.25px;color:#1a1a1a;transform:scaleX(0.8659);">600.00</span><span style="left:367.20px;top:336.11px;font-size:10.8px;line-height:13.5px;color:#1a1a1a;transform:scaleX(0.8333);">$</span><span style="left:395.18px;top:336.48px;font-size:9.8px;line-height:12.25px;color:#1a1a1a;transform:scaleX(0.8659);">600.00</span><span style="left:432.20px;top:336.11px;font-size:10.8px;line-height:13.5px;color:#1a1a1a;transform:scaleX(0.8333);">$</span><span style="left:460.18px;top:336.48px;font-size:9.8px;line-height:12.25px;color:#1a1a1a;transform:scaleX(0.8659);">600.00</span><span style="left:497.20px;top:336.11px;font-size:10.8px;line-height:13.5px;color:#1a1a1a;transform:scaleX(0.8333);">$</span><span style="left:525.18px;top:336.48px;font-size:9.8px;line-height:12.25px;color:#1a1a1a;transform:scaleX(0.8659);">600.00</span><span style="left:562.20px;top:336.11px;font-size:10.8px;line-height:13.5px;color:#1a1a1a;transform:scaleX(0.8333);">$</span><span style="left:590.18px;top:336.48px;font-size:9.8px;line-height:12.25px;color:#1a1a1a;transform:scaleX(0.8659);">600.00</span><span style="left:627.20px;top:336.11px;font-size:10.8px;line-height:13.5px;color:#1a1a1a;transform:scaleX(0.8333);">$</span><span style="left:655.18px;top:336.48px;font-size:9.8px;line-height:12.25px;color:#1a1a1a;transform:scaleX(0.8659);">600.00</span><span style="left:692.20px;top:336.11px;font-size:10.8px;line-height:13.5px;color:#1a1a1a;transform:scaleX(0.8333);">$</span><span style="left:720.18px;top:336.48px;font-size:9.8px;line-height:12.25px;color:#1a1a1a;transform:scaleX(0.8659);">600.00</span><span style="left:757.20px;top:336.11px;font-size:10.8px;line-height:13.5px;color:#1a1a1a;transform:scaleX(0.8333);">$</span><span style="left:785.18px;top:336.48px;font-size:9.8px;line-height:12.25px;color:#1a1a1a;transform:scaleX(0.8659);">600.00</span><span style="left:822.20px;top:336.11px;font-size:10.8px;line-height:13.5px;color:#1a1a1a;transform:scaleX(0.8333);">$</span><span style="left:850.18px;top:336.48px;font-size:9.8px;line-height:12.25px;color:#1a1a1a;transform:scaleX(0.8659);">600.00</span><span style="left:887.20px;top:336.11px;font-size:10.8px;line-height:13.5px;color:#1a1a1a;transform:scaleX(0.8333);">$</span><span style="left:915.18px;top:336.48px;font-size:9.8px;line-height:12.25px;color:#1a1a1a;transform:scaleX(0.8659);">600.00</span><span style="left:952.20px;top:336.11px;font-size:10.8px;line-height:13.5px;color:#1a1a1a;transform:scaleX(0.8333);">$</span><span style="left:985.40px;top:336.48px;font-size:9.8px;line-height:12.25px;color:#1a1a1a;transform:scaleX(0.8659);">7,200.00</span><span style="left:28.40px;top:350.6px;font-size:10.5px;line-height:13.12px;color:#1a1a1a;transform:scaleX(1.2159);">Maintenance</span><span style="left:172.20px;top:352.11px;font-size:10.8px;line-height:13.5px;color:#1a1a1a;transform:scaleX(0.8333);">$</span><span style="left:204.89px;top:352.48px;font-size:9.8px;line-height:12.25px;color:#1a1a1a;transform:scaleX(0.8659);">42.00</span><span style="left:237.20px;top:352.11px;font-size:10.8px;line-height:13.5px;color:#1a1a1a;transform:scaleX(0.8333);">$</span><span style="left:269.89px;top:352.48px;font-size:9.8px;line-height:12.25px;color:#1a1a1a;transform:scaleX(0.8659);">42.00</span><span style="left:302.20px;top:352.11px;font-size:10.8px;line-height:13.5px;color:#1a1a1a;transform:scaleX(0.8333);">$</span><span style="left:334.89px;top:352.48px;font-size:9.8px;line-height:12.25px;color:#1a1a1a;transform:scaleX(0.8659);">42.00</span><span style="left:367.20px;top:352.11px;font-size:10.8px;line-height:13.5px;color:#1a1a1a;transform:scaleX(0.8333);">$</span><span style="left:399.89px;top:352.48px;font-size:9.8px;line-height:12.25px;color:#1a1a1a;transform:scaleX(0.8659);">42.00</span><span style="left:432.20px;top:352.11px;font-size:10.8px;line-height:13.5px;color:#1a1a1a;transform:scaleX(0.8333);">$</span><span style="left:464.89px;top:352.48px;font-size:9.8px;line-height:12.25px;color:#1a1a1a;transform:scaleX(0.8659);">42.00</span><span style="left:497.20px;top:352.11px;font-size:10.8px;line-height:13.5px;color:#1a1a1a;transform:scaleX(0.8333);">$</span><span style="left:529.89px;top:352.48px;font-size:9.8px;line-height:12.25px;color:#1a1a1a;transform:scaleX(0.8659);">42.00</span><span style="left:562.20px;top:352.11px;font-size:10.8px;line-height:13.5px;color:#1a1a1a;transform:scaleX(0.8333);">$</span><span style="left:594.89px;top:352.48px;font-size:9.8px;line-height:12.25px;color:#1a1a1a;transform:scaleX(0.8659);">42.00</span><span style="left:627.20px;top:352.11px;font-size:10.8px;line-height:13.5px;color:#1a1a1a;transform:scaleX(0.8333);">$</span><span style="left:659.89px;top:352.48px;font-size:9.8px;line-height:12.25px;color:#1a1a1a;transform:scaleX(0.8659);">42.00</span><span style="left:692.20px;top:352.11px;font-size:10.8px;line-height:13.5px;color:#1a1a1a;transform:scaleX(0.8333);">$</span><span style="left:724.89px;top:352.48px;font-size:9.8px;line-height:12.25px;color:#1a1a1a;transform:scaleX(0.8659);">42.00</span><span style="left:757.20px;top:352.11px;font-size:10.8px;line-height:13.5px;color:#1a1a1a;transform:scaleX(0.8333);">$</span><span style="left:789.89px;top:352.48px;font-size:9.8px;line-height:12.25px;color:#1a1a1a;transform:scaleX(0.8659);">42.00</span><span style="left:822.20px;top:352.11px;font-size:10.8px;line-height:13.5px;color:#1a1a1a;transform:scaleX(0.8333);">$</span><span style="left:854.89px;top:352.48px;font-size:9.8px;line-height:12.25px;color:#1a1a1a;transform:scaleX(0.8659);">42.00</span><span style="left:887.20px;top:352.11px;font-size:10.8px;line-height:13.5px;color:#1a1a1a;transform:scaleX(0.8333);">$</span><span style="left:919.89px;top:352.48px;font-size:9.8px;line-height:12.25px;color:#1a1a1a;transform:scaleX(0.8659);">42.00</span><span style="left:952.20px;top:352.11px;font-size:10.8px;line-height:13.5px;color:#1a1a1a;transform:scaleX(0.8333);">$</span><span style="left:992.48px;top:352.48px;font-size:9.8px;line-height:12.25px;color:#1a1a1a;transform:scaleX(0.8659);">504.00</span><span style="left:28.40px;top:366.6px;font-size:10.5px;line-height:13.12px;color:#1a1a1a;transform:scaleX(0.9613);">Fees</span><span style="left:172.20px;top:368.11px;font-size:10.8px;line-height:13.5px;color:#1a1a1a;transform:scaleX(0.8333);">$</span><span style="left:204.89px;top:368.48px;font-size:9.8px;line-height:12.25px;color:#1a1a1a;transform:scaleX(0.8659);">25.00</span><span style="left:237.20px;top:368.11px;font-size:10.8px;line-height:13.5px;color:#1a1a1a;transform:scaleX(0.8333);">$</span><span style="left:269.89px;top:368.48px;font-size:9.8px;line-height:12.25px;color:#1a1a1a;transform:scaleX(0.8659);">25.00</span><span style="left:302.20px;top:368.11px;font-size:10.8px;line-height:13.5px;color:#1a1a1a;transform:scaleX(0.8333);">$</span><span style="left:334.89px;top:368.48px;font-size:9.8px;line-height:12.25px;color:#1a1a1a;transform:scaleX(0.8659);">25.00</span><span style="left:367.20px;top:368.11px;font-size:10.8px;line-height:13.5px;color:#1a1a1a;transform:scaleX(0.8333);">$</span><span style="left:399.89px;top:368.48px;font-size:9.8px;line-height:12.25px;color:#1a1a1a;transform:scaleX(0.8659);">25.00</span><span style="left:432.20px;top:368.11px;font-size:10.8px;line-height:13.5px;color:#1a1a1a;transform:scaleX(0.8333);">$</span><span style="left:464.89px;top:368.48px;font-size:9.8px;line-height:12.25px;color:#1a1a1a;transform:scaleX(0.8659);">25.00</span><span style="left:497.20px;top:368.11px;font-size:10.8px;line-height:13.5px;color:#1a1a1a;transform:scaleX(0.8333);">$</span><span style="left:529.89px;top:368.48px;font-size:9.8px;line-height:12.25px;color:#1a1a1a;transform:scaleX(0.8659);">25.00</span><span style="left:562.20px;top:368.11px;font-size:10.8px;line-height:13.5px;color:#1a1a1a;transform:scaleX(0.8333);">$</span><span style="left:594.89px;top:368.48px;font-size:9.8px;line-height:12.25px;color:#1a1a1a;transform:scaleX(0.8659);">25.00</span><span style="left:627.20px;top:368.11px;font-size:10.8px;line-height:13.5px;color:#1a1a1a;transform:scaleX(0.8333);">$</span><span style="left:659.89px;top:368.48px;font-size:9.8px;line-height:12.25px;color:#1a1a1a;transform:scaleX(0.8659);">25.00</span><span style="left:692.20px;top:368.11px;font-size:10.8px;line-height:13.5px;color:#1a1a1a;transform:scaleX(0.8333);">$</span><span style="left:724.89px;top:368.48px;font-size:9.8px;line-height:12.25px;color:#1a1a1a;transform:scaleX(0.8659);">25.00</span><span style="left:757.20px;top:368.11px;font-size:10.8px;line-height:13.5px;color:#1a1a1a;transform:scaleX(0.8333);">$</span><span style="left:789.89px;top:368.48px;font-size:9.8px;line-height:12.25px;color:#1a1a1a;transform:scaleX(0.8659);">25.00</span><span style="left:822.20px;top:368.11px;font-size:10.8px;line-height:13.5px;color:#1a1a1a;transform:scaleX(0.8333);">$</span><span style="left:854.89px;top:368.48px;font-size:9.8px;line-height:12.25px;color:#1a1a1a;transform:scaleX(0.8659);">25.00</span><span style="left:887.20px;top:368.11px;font-size:10.8px;line-height:13.5px;color:#1a1a1a;transform:scaleX(0.8333);">$</span><span style="left:919.89px;top:368.48px;font-size:9.8px;line-height:12.25px;color:#1a1a1a;transform:scaleX(0.8659);">25.00</span><span style="left:952.20px;top:368.11px;font-size:10.8px;line-height:13.5px;color:#1a1a1a;transform:scaleX(0.8333);">$</span><span style="left:992.48px;top:368.48px;font-size:9.8px;line-height:12.25px;color:#1a1a1a;transform:scaleX(0.8659);">300.00</span><span style="left:28.40px;top:383.6px;font-size:10.5px;line-height:13.12px;font-weight:bold;color:#000;transform:scaleX(0.9400);-webkit-text-stroke:0.2px #000;">Utilities</span><span style="left:172.20px;top:385.11px;font-size:10.8px;line-height:13.5px;color:#1a1a1a;transform:scaleX(0.8333);">$</span><span style="left:200.18px;top:385.48px;font-size:9.8px;line-height:12.25px;color:#1a1a1a;transform:scaleX(0.8659);">617.00</span><span style="left:237.20px;top:385.11px;font-size:10.8px;line-height:13.5px;color:#1a1a1a;transform:scaleX(0.8333);">$</span><span style="left:265.18px;top:385.48px;font-size:9.8px;line-height:12.25px;color:#1a1a1a;transform:scaleX(0.8659);">617.00</span><span style="left:302.20px;top:385.11px;font-size:10.8px;line-height:13.5px;color:#1a1a1a;transform:scaleX(0.8333);">$</span><span style="left:330.18px;top:385.48px;font-size:9.8px;line-height:12.25px;color:#1a1a1a;transform:scaleX(0.8659);">617.00</span><span style="left:367.20px;top:385.11px;font-size:10.8px;line-height:13.5px;color:#1a1a1a;transform:scaleX(0.8333);">$</span><span style="left:395.18px;top:385.48px;font-size:9.8px;line-height:12.25px;color:#1a1a1a;transform:scaleX(0.8659);">617.00</span><span style="left:432.20px;top:385.11px;font-size:10.8px;line-height:13.5px;color:#1a1a1a;transform:scaleX(0.8333);">$</span><span style="left:460.18px;top:385.48px;font-size:9.8px;line-height:12.25px;color:#1a1a1a;transform:scaleX(0.8659);">617.00</span><span style="left:497.20px;top:385.11px;font-size:10.8px;line-height:13.5px;color:#1a1a1a;transform:scaleX(0.8333);">$</span><span style="left:525.18px;top:385.48px;font-size:9.8px;line-height:12.25px;color:#1a1a1a;transform:scaleX(0.8659);">617.00</span><span style="left:562.20px;top:385.11px;font-size:10.8px;line-height:13.5px;color:#1a1a1a;transform:scaleX(0.8333);">$</span><span style="left:590.18px;top:385.48px;font-size:9.8px;line-height:12.25px;color:#1a1a1a;transform:scaleX(0.8659);">617.00</span><span style="left:627.20px;top:385.11px;font-size:10.8px;line-height:13.5px;color:#1a1a1a;transform:scaleX(0.8333);">$</span><span style="left:655.18px;top:385.48px;font-size:9.8px;line-height:12.25px;color:#1a1a1a;transform:scaleX(0.8659);">617.00</span><span style="left:692.20px;top:385.11px;font-size:10.8px;line-height:13.5px;color:#1a1a1a;transform:scaleX(0.8333);">$</span><span style="left:720.18px;top:385.48px;font-size:9.8px;line-height:12.25px;color:#1a1a1a;transform:scaleX(0.8659);">617.00</span><span style="left:757.20px;top:385.11px;font-size:10.8px;line-height:13.5px;color:#1a1a1a;transform:scaleX(0.8333);">$</span><span style="left:785.18px;top:385.48px;font-size:9.8px;line-height:12.25px;color:#1a1a1a;transform:scaleX(0.8659);">617.00</span><span style="left:822.20px;top:385.11px;font-size:10.8px;line-height:13.5px;color:#1a1a1a;transform:scaleX(0.8333);">$</span><span style="left:850.18px;top:385.48px;font-size:9.8px;line-height:12.25px;color:#1a1a1a;transform:scaleX(0.8659);">617.00</span><span style="left:887.20px;top:385.11px;font-size:10.8px;line-height:13.5px;color:#1a1a1a;transform:scaleX(0.8333);">$</span><span style="left:915.18px;top:385.48px;font-size:9.8px;line-height:12.25px;color:#1a1a1a;transform:scaleX(0.8659);">617.00</span><span style="left:952.20px;top:385.11px;font-size:10.8px;line-height:13.5px;color:#1a1a1a;transform:scaleX(0.8333);">$</span><span style="left:985.40px;top:385.48px;font-size:9.8px;line-height:12.25px;color:#1a1a1a;transform:scaleX(0.8659);">7,404.00</span><span style="left:28.40px;top:400.6px;font-size:10.5px;line-height:13.12px;color:#1a1a1a;transform:scaleX(1.1278);">Home Phone</span><span style="left:172.20px;top:402.11px;font-size:10.8px;line-height:13.5px;color:#1a1a1a;transform:scaleX(0.8333);">$</span><span style="left:204.89px;top:402.48px;font-size:9.8px;line-height:12.25px;color:#1a1a1a;transform:scaleX(0.8659);">68.00</span><span style="left:237.20px;top:402.11px;font-size:10.8px;line-height:13.5px;color:#1a1a1a;transform:scaleX(0.8333);">$</span><span style="left:269.89px;top:402.48px;font-size:9.8px;line-height:12.25px;color:#1a1a1a;transform:scaleX(0.8659);">68.00</span><span style="left:302.20px;top:402.11px;font-size:10.8px;line-height:13.5px;color:#1a1a1a;transform:scaleX(0.8333);">$</span><span style="left:334.89px;top:402.48px;font-size:9.8px;line-height:12.25px;color:#1a1a1a;transform:scaleX(0.8659);">68.00</span><span style="left:367.20px;top:402.11px;font-size:10.8px;line-height:13.5px;color:#1a1a1a;transform:scaleX(0.8333);">$</span><span style="left:399.89px;top:402.48px;font-size:9.8px;line-height:12.25px;color:#1a1a1a;transform:scaleX(0.8659);">68.00</span><span style="left:432.20px;top:402.11px;font-size:10.8px;line-height:13.5px;color:#1a1a1a;transform:scaleX(0.8333);">$</span><span style="left:464.89px;top:402.48px;font-size:9.8px;line-height:12.25px;color:#1a1a1a;transform:scaleX(0.8659);">68.00</span><span style="left:497.20px;top:402.11px;font-size:10.8px;line-height:13.5px;color:#1a1a1a;transform:scaleX(0.8333);">$</span><span style="left:529.89px;top:402.48px;font-size:9.8px;line-height:12.25px;color:#1a1a1a;transform:scaleX(0.8659);">68.00</span><span style="left:562.20px;top:402.11px;font-size:10.8px;line-height:13.5px;color:#1a1a1a;transform:scaleX(0.8333);">$</span><span style="left:594.89px;top:402.48px;font-size:9.8px;line-height:12.25px;color:#1a1a1a;transform:scaleX(0.8659);">68.00</span><span style="left:627.20px;top:402.11px;font-size:10.8px;line-height:13.5px;color:#1a1a1a;transform:scaleX(0.8333);">$</span><span style="left:659.89px;top:402.48px;font-size:9.8px;line-height:12.25px;color:#1a1a1a;transform:scaleX(0.8659);">68.00</span><span style="left:692.20px;top:402.11px;font-size:10.8px;line-height:13.5px;color:#1a1a1a;transform:scaleX(0.8333);">$</span><span style="left:724.89px;top:402.48px;font-size:9.8px;line-height:12.25px;color:#1a1a1a;transform:scaleX(0.8659);">68.00</span><span style="left:757.20px;top:402.11px;font-size:10.8px;line-height:13.5px;color:#1a1a1a;transform:scaleX(0.8333);">$</span><span style="left:789.89px;top:402.48px;font-size:9.8px;line-height:12.25px;color:#1a1a1a;transform:scaleX(0.8659);">68.00</span><span style="left:822.20px;top:402.11px;font-size:10.8px;line-height:13.5px;color:#1a1a1a;transform:scaleX(0.8333);">$</span><span style="left:854.89px;top:402.48px;font-size:9.8px;line-height:12.25px;color:#1a1a1a;transform:scaleX(0.8659);">68.00</span><span style="left:887.20px;top:402.11px;font-size:10.8px;line-height:13.5px;color:#1a1a1a;transform:scaleX(0.8333);">$</span><span style="left:919.89px;top:402.48px;font-size:9.8px;line-height:12.25px;color:#1a1a1a;transform:scaleX(0.8659);">68.00</span><span style="left:952.20px;top:402.11px;font-size:10.8px;line-height:13.5px;color:#1a1a1a;transform:scaleX(0.8333);">$</span><span style="left:992.48px;top:402.48px;font-size:9.8px;line-height:12.25px;color:#1a1a1a;transform:scaleX(0.8659);">816.00</span><span style="left:28.40px;top:416.6px;font-size:10.5px;line-height:13.12px;color:#1a1a1a;transform:scaleX(1.1995);">Cable</span><span style="left:172.20px;top:418.11px;font-size:10.8px;line-height:13.5px;color:#1a1a1a;transform:scaleX(0.8333);">$</span><span style="left:200.18px;top:418.48px;font-size:9.8px;line-height:12.25px;color:#1a1a1a;transform:scaleX(0.8659);">134.00</span><span style="left:237.20px;top:418.11px;font-size:10.8px;line-height:13.5px;color:#1a1a1a;transform:scaleX(0.8333);">$</span><span style="left:265.18px;top:418.48px;font-size:9.8px;line-height:12.25px;color:#1a1a1a;transform:scaleX(0.8659);">134.00</span><span style="left:302.20px;top:418.11px;font-size:10.8px;line-height:13.5px;color:#1a1a1a;transform:scaleX(0.8333);">$</span><span style="left:330.18px;top:418.48px;font-size:9.8px;line-height:12.25px;color:#1a1a1a;transform:scaleX(0.8659);">134.00</span><span style="left:367.20px;top:418.11px;font-size:10.8px;line-height:13.5px;color:#1a1a1a;transform:scaleX(0.8333);">$</span><span style="left:395.18px;top:418.48px;font-size:9.8px;line-height:12.25px;color:#1a1a1a;transform:scaleX(0.8659);">134.00</span><span style="left:432.20px;top:418.11px;font-size:10.8px;line-height:13.5px;color:#1a1a1a;transform:scaleX(0.8333);">$</span><span style="left:460.18px;top:418.48px;font-size:9.8px;line-height:12.25px;color:#1a1a1a;transform:scaleX(0.8659);">134.00</span><span style="left:497.20px;top:418.11px;font-size:10.8px;line-height:13.5px;color:#1a1a1a;transform:scaleX(0.8333);">$</span><span style="left:525.18px;top:418.48px;font-size:9.8px;line-height:12.25px;color:#1a1a1a;transform:scaleX(0.8659);">134.00</span><span style="left:562.20px;top:418.11px;font-size:10.8px;line-height:13.5px;color:#1a1a1a;transform:scaleX(0.8333);">$</span><span style="left:590.18px;top:418.48px;font-size:9.8px;line-height:12.25px;color:#1a1a1a;transform:scaleX(0.8659);">134.00</span><span style="left:627.20px;top:418.11px;font-size:10.8px;line-height:13.5px;color:#1a1a1a;transform:scaleX(0.8333);">$</span><span style="left:655.18px;top:418.48px;font-size:9.8px;line-height:12.25px;color:#1a1a1a;transform:scaleX(0.8659);">134.00</span><span style="left:692.20px;top:418.11px;font-size:10.8px;line-height:13.5px;color:#1a1a1a;transform:scaleX(0.8333);">$</span><span style="left:720.18px;top:418.48px;font-size:9.8px;line-height:12.25px;color:#1a1a1a;transform:scaleX(0.8659);">134.00</span><span style="left:757.20px;top:418.11px;font-size:10.8px;line-height:13.5px;color:#1a1a1a;transform:scaleX(0.8333);">$</span><span style="left:785.18px;top:418.48px;font-size:9.8px;line-height:12.25px;color:#1a1a1a;transform:scaleX(0.8659);">134.00</span><span style="left:822.20px;top:418.11px;font-size:10.8px;line-height:13.5px;color:#1a1a1a;transform:scaleX(0.8333);">$</span><span style="left:850.18px;top:418.48px;font-size:9.8px;line-height:12.25px;color:#1a1a1a;transform:scaleX(0.8659);">134.00</span><span style="left:887.20px;top:418.11px;font-size:10.8px;line-height:13.5px;color:#1a1a1a;transform:scaleX(0.8333);">$</span><span style="left:915.18px;top:418.48px;font-size:9.8px;line-height:12.25px;color:#1a1a1a;transform:scaleX(0.8659);">134.00</span><span style="left:952.20px;top:418.11px;font-size:10.8px;line-height:13.5px;color:#1a1a1a;transform:scaleX(0.8333);">$</span><span style="left:985.40px;top:418.48px;font-size:9.8px;line-height:12.25px;color:#1a1a1a;transform:scaleX(0.8659);">1,608.00</span><span style="left:28.40px;top:432.6px;font-size:10.5px;line-height:13.12px;color:#1a1a1a;transform:scaleX(1.1264);">Internet</span><span style="left:172.20px;top:434.11px;font-size:10.8px;line-height:13.5px;color:#1a1a1a;transform:scaleX(0.8333);">$</span><span style="left:204.89px;top:434.48px;font-size:9.8px;line-height:12.25px;color:#1a1a1a;transform:scaleX(0.8659);">50.00</span><span style="left:237.20px;top:434.11px;font-size:10.8px;line-height:13.5px;color:#1a1a1a;transform:scaleX(0.8333);">$</span><span style="left:269.89px;top:434.48px;font-size:9.8px;line-height:12.25px;color:#1a1a1a;transform:scaleX(0.8659);">50.00</span><span style="left:302.20px;top:434.11px;font-size:10.8px;line-height:13.5px;color:#1a1a1a;transform:scaleX(0.8333);">$</span><span style="left:334.89px;top:434.48px;font-size:9.8px;line-height:12.25px;color:#1a1a1a;transform:scaleX(0.8659);">50.00</span><span style="left:367.20px;top:434.11px;font-size:10.8px;line-height:13.5px;color:#1a1a1a;transform:scaleX(0.8333);">$</span><span style="left:399.89px;top:434.48px;font-size:9.8px;line-height:12.25px;color:#1a1a1a;transform:scaleX(0.8659);">50.00</span><span style="left:432.20px;top:434.11px;font-size:10.8px;line-height:13.5px;color:#1a1a1a;transform:scaleX(0.8333);">$</span><span style="left:464.89px;top:434.48px;font-size:9.8px;line-height:12.25px;color:#1a1a1a;transform:scaleX(0.8659);">50.00</span><span style="left:497.20px;top:434.11px;font-size:10.8px;line-height:13.5px;color:#1a1a1a;transform:scaleX(0.8333);">$</span><span style="left:529.89px;top:434.48px;font-size:9.8px;line-height:12.25px;color:#1a1a1a;transform:scaleX(0.8659);">50.00</span><span style="left:562.20px;top:434.11px;font-size:10.8px;line-height:13.5px;color:#1a1a1a;transform:scaleX(0.8333);">$</span><span style="left:594.89px;top:434.48px;font-size:9.8px;line-height:12.25px;color:#1a1a1a;transform:scaleX(0.8659);">50.00</span><span style="left:627.20px;top:434.11px;font-size:10.8px;line-height:13.5px;color:#1a1a1a;transform:scaleX(0.8333);">$</span><span style="left:659.89px;top:434.48px;font-size:9.8px;line-height:12.25px;color:#1a1a1a;transform:scaleX(0.8659);">50.00</span><span style="left:692.20px;top:434.11px;font-size:10.8px;line-height:13.5px;color:#1a1a1a;transform:scaleX(0.8333);">$</span><span style="left:724.89px;top:434.48px;font-size:9.8px;line-height:12.25px;color:#1a1a1a;transform:scaleX(0.8659);">50.00</span><span style="left:757.20px;top:434.11px;font-size:10.8px;line-height:13.5px;color:#1a1a1a;transform:scaleX(0.8333);">$</span><span style="left:789.89px;top:434.48px;font-size:9.8px;line-height:12.25px;color:#1a1a1a;transform:scaleX(0.8659);">50.00</span><span style="left:822.20px;top:434.11px;font-size:10.8px;line-height:13.5px;color:#1a1a1a;transform:scaleX(0.8333);">$</span><span style="left:854.89px;top:434.48px;font-size:9.8px;line-height:12.25px;color:#1a1a1a;transform:scaleX(0.8659);">50.00</span><span style="left:887.20px;top:434.11px;font-size:10.8px;line-height:13.5px;color:#1a1a1a;transform:scaleX(0.8333);">$</span><span style="left:919.89px;top:434.48px;font-size:9.8px;line-height:12.25px;color:#1a1a1a;transform:scaleX(0.8659);">50.00</span><span style="left:952.20px;top:434.11px;font-size:10.8px;line-height:13.5px;color:#1a1a1a;transform:scaleX(0.8333);">$</span><span style="left:992.48px;top:434.48px;font-size:9.8px;line-height:12.25px;color:#1a1a1a;transform:scaleX(0.8659);">600.00</span><span style="left:28.40px;top:448.6px;font-size:10.5px;line-height:13.12px;color:#1a1a1a;transform:scaleX(1.0937);">Power</span><span style="left:172.20px;top:450.11px;font-size:10.8px;line-height:13.5px;color:#1a1a1a;transform:scaleX(0.8333);">$</span><span style="left:200.18px;top:450.48px;font-size:9.8px;line-height:12.25px;color:#1a1a1a;transform:scaleX(0.8659);">150.00</span><span style="left:237.20px;top:450.11px;font-size:10.8px;line-height:13.5px;color:#1a1a1a;transform:scaleX(0.8333);">$</span><span style="left:265.18px;top:450.48px;font-size:9.8px;line-height:12.25px;color:#1a1a1a;transform:scaleX(0.8659);">150.00</span><span style="left:302.20px;top:450.11px;font-size:10.8px;line-height:13.5px;color:#1a1a1a;transform:scaleX(0.8333);">$</span><span style="left:330.18px;top:450.48px;font-size:9.8px;line-height:12.25px;color:#1a1a1a;transform:scaleX(0.8659);">150.00</span><span style="left:367.20px;top:450.11px;font-size:10.8px;line-height:13.5px;color:#1a1a1a;transform:scaleX(0.8333);">$</span><span style="left:395.18px;top:450.48px;font-size:9.8px;line-height:12.25px;color:#1a1a1a;transform:scaleX(0.8659);">150.00</span><span style="left:432.20px;top:450.11px;font-size:10.8px;line-height:13.5px;color:#1a1a1a;transform:scaleX(0.8333);">$</span><span style="left:460.18px;top:450.48px;font-size:9.8px;line-height:12.25px;color:#1a1a1a;transform:scaleX(0.8659);">150.00</span><span style="left:497.20px;top:450.11px;font-size:10.8px;line-height:13.5px;color:#1a1a1a;transform:scaleX(0.8333);">$</span><span style="left:525.18px;top:450.48px;font-size:9.8px;line-height:12.25px;color:#1a1a1a;transform:scaleX(0.8659);">150.00</span><span style="left:562.20px;top:450.11px;font-size:10.8px;line-height:13.5px;color:#1a1a1a;transform:scaleX(0.8333);">$</span><span style="left:590.18px;top:450.48px;font-size:9.8px;line-height:12.25px;color:#1a1a1a;transform:scaleX(0.8659);">150.00</span><span style="left:627.20px;top:450.11px;font-size:10.8px;line-height:13.5px;color:#1a1a1a;transform:scaleX(0.8333);">$</span><span style="left:655.18px;top:450.48px;font-size:9.8px;line-height:12.25px;color:#1a1a1a;transform:scaleX(0.8659);">150.00</span><span style="left:692.20px;top:450.11px;font-size:10.8px;line-height:13.5px;color:#1a1a1a;transform:scaleX(0.8333);">$</span><span style="left:720.18px;top:450.48px;font-size:9.8px;line-height:12.25px;color:#1a1a1a;transform:scaleX(0.8659);">150.00</span><span style="left:757.20px;top:450.11px;font-size:10.8px;line-height:13.5px;color:#1a1a1a;transform:scaleX(0.8333);">$</span><span style="left:785.18px;top:450.48px;font-size:9.8px;line-height:12.25px;color:#1a1a1a;transform:scaleX(0.8659);">150.00</span><span style="left:822.20px;top:450.11px;font-size:10.8px;line-height:13.5px;color:#1a1a1a;transform:scaleX(0.8333);">$</span><span style="left:850.18px;top:450.48px;font-size:9.8px;line-height:12.25px;color:#1a1a1a;transform:scaleX(0.8659);">150.00</span><span style="left:887.20px;top:450.11px;font-size:10.8px;line-height:13.5px;color:#1a1a1a;transform:scaleX(0.8333);">$</span><span style="left:915.18px;top:450.48px;font-size:9.8px;line-height:12.25px;color:#1a1a1a;transform:scaleX(0.8659);">150.00</span><span style="left:952.20px;top:450.11px;font-size:10.8px;line-height:13.5px;color:#1a1a1a;transform:scaleX(0.8333);">$</span><span style="left:985.40px;top:450.48px;font-size:9.8px;line-height:12.25px;color:#1a1a1a;transform:scaleX(0.8659);">1,800.00</span><span style="left:28.40px;top:464.6px;font-size:10.5px;line-height:13.12px;color:#1a1a1a;transform:scaleX(1.1417);">Gas</span><span style="left:172.20px;top:466.11px;font-size:10.8px;line-height:13.5px;color:#1a1a1a;transform:scaleX(0.8333);">$</span><span style="left:200.18px;top:466.48px;font-size:9.8px;line-height:12.25px;color:#1a1a1a;transform:scaleX(0.8659);">125.00</span><span style="left:237.20px;top:466.11px;font-size:10.8px;line-height:13.5px;color:#1a1a1a;transform:scaleX(0.8333);">$</span><span style="left:265.18px;top:466.48px;font-size:9.8px;line-height:12.25px;color:#1a1a1a;transform:scaleX(0.8659);">125.00</span><span style="left:302.20px;top:466.11px;font-size:10.8px;line-height:13.5px;color:#1a1a1a;transform:scaleX(0.8333);">$</span><span style="left:330.18px;top:466.48px;font-size:9.8px;line-height:12.25px;color:#1a1a1a;transform:scaleX(0.8659);">125.00</span><span style="left:367.20px;top:466.11px;font-size:10.8px;line-height:13.5px;color:#1a1a1a;transform:scaleX(0.8333);">$</span><span style="left:395.18px;top:466.48px;font-size:9.8px;line-height:12.25px;color:#1a1a1a;transform:scaleX(0.8659);">125.00</span><span style="left:432.20px;top:466.11px;font-size:10.8px;line-height:13.5px;color:#1a1a1a;transform:scaleX(0.8333);">$</span><span style="left:460.18px;top:466.48px;font-size:9.8px;line-height:12.25px;color:#1a1a1a;transform:scaleX(0.8659);">125.00</span><span style="left:497.20px;top:466.11px;font-size:10.8px;line-height:13.5px;color:#1a1a1a;transform:scaleX(0.8333);">$</span><span style="left:525.18px;top:466.48px;font-size:9.8px;line-height:12.25px;color:#1a1a1a;transform:scaleX(0.8659);">125.00</span><span style="left:562.20px;top:466.11px;font-size:10.8px;line-height:13.5px;color:#1a1a1a;transform:scaleX(0.8333);">$</span><span style="left:590.18px;top:466.48px;font-size:9.8px;line-height:12.25px;color:#1a1a1a;transform:scaleX(0.8659);">125.00</span><span style="left:627.20px;top:466.11px;font-size:10.8px;line-height:13.5px;color:#1a1a1a;transform:scaleX(0.8333);">$</span><span style="left:655.18px;top:466.48px;font-size:9.8px;line-height:12.25px;color:#1a1a1a;transform:scaleX(0.8659);">125.00</span><span style="left:692.20px;top:466.11px;font-size:10.8px;line-height:13.5px;color:#1a1a1a;transform:scaleX(0.8333);">$</span><span style="left:720.18px;top:466.48px;font-size:9.8px;line-height:12.25px;color:#1a1a1a;transform:scaleX(0.8659);">125.00</span><span style="left:757.20px;top:466.11px;font-size:10.8px;line-height:13.5px;color:#1a1a1a;transform:scaleX(0.8333);">$</span><span style="left:785.18px;top:466.48px;font-size:9.8px;line-height:12.25px;color:#1a1a1a;transform:scaleX(0.8659);">125.00</span><span style="left:822.20px;top:466.11px;font-size:10.8px;line-height:13.5px;color:#1a1a1a;transform:scaleX(0.8333);">$</span><span style="left:850.18px;top:466.48px;font-size:9.8px;line-height:12.25px;color:#1a1a1a;transform:scaleX(0.8659);">125.00</span><span style="left:887.20px;top:466.11px;font-size:10.8px;line-height:13.5px;color:#1a1a1a;transform:scaleX(0.8333);">$</span><span style="left:915.18px;top:466.48px;font-size:9.8px;line-height:12.25px;color:#1a1a1a;transform:scaleX(0.8659);">125.00</span><span style="left:952.20px;top:466.11px;font-size:10.8px;line-height:13.5px;color:#1a1a1a;transform:scaleX(0.8333);">$</span><span style="left:985.40px;top:466.48px;font-size:9.8px;line-height:12.25px;color:#1a1a1a;transform:scaleX(0.8659);">1,500.00</span><span style="left:28.40px;top:480.6px;font-size:10.5px;line-height:13.12px;color:#1a1a1a;transform:scaleX(1.1772);">Water</span><span style="left:172.20px;top:482.11px;font-size:10.8px;line-height:13.5px;color:#1a1a1a;transform:scaleX(0.8333);">$</span><span style="left:204.89px;top:482.48px;font-size:9.8px;line-height:12.25px;color:#1a1a1a;transform:scaleX(0.8659);">30.00</span><span style="left:237.20px;top:482.11px;font-size:10.8px;line-height:13.5px;color:#1a1a1a;transform:scaleX(0.8333);">$</span><span style="left:269.89px;top:482.48px;font-size:9.8px;line-height:12.25px;color:#1a1a1a;transform:scaleX(0.8659);">30.00</span><span style="left:302.20px;top:482.11px;font-size:10.8px;line-height:13.5px;color:#1a1a1a;transform:scaleX(0.8333);">$</span><span style="left:334.89px;top:482.48px;font-size:9.8px;line-height:12.25px;color:#1a1a1a;transform:scaleX(0.8659);">30.00</span><span style="left:367.20px;top:482.11px;font-size:10.8px;line-height:13.5px;color:#1a1a1a;transform:scaleX(0.8333);">$</span><span style="left:399.89px;top:482.48px;font-size:9.8px;line-height:12.25px;color:#1a1a1a;transform:scaleX(0.8659);">30.00</span><span style="left:432.20px;top:482.11px;font-size:10.8px;line-height:13.5px;color:#1a1a1a;transform:scaleX(0.8333);">$</span><span style="left:464.89px;top:482.48px;font-size:9.8px;line-height:12.25px;color:#1a1a1a;transform:scaleX(0.8659);">30.00</span><span style="left:497.20px;top:482.11px;font-size:10.8px;line-height:13.5px;color:#1a1a1a;transform:scaleX(0.8333);">$</span><span style="left:529.89px;top:482.48px;font-size:9.8px;line-height:12.25px;color:#1a1a1a;transform:scaleX(0.8659);">30.00</span><span style="left:562.20px;top:482.11px;font-size:10.8px;line-height:13.5px;color:#1a1a1a;transform:scaleX(0.8333);">$</span><span style="left:594.89px;top:482.48px;font-size:9.8px;line-height:12.25px;color:#1a1a1a;transform:scaleX(0.8659);">30.00</span><span style="left:627.20px;top:482.11px;font-size:10.8px;line-height:13.5px;color:#1a1a1a;transform:scaleX(0.8333);">$</span><span style="left:659.89px;top:482.48px;font-size:9.8px;line-height:12.25px;color:#1a1a1a;transform:scaleX(0.8659);">30.00</span><span style="left:692.20px;top:482.11px;font-size:10.8px;line-height:13.5px;color:#1a1a1a;transform:scaleX(0.8333);">$</span><span style="left:724.89px;top:482.48px;font-size:9.8px;line-height:12.25px;color:#1a1a1a;transform:scaleX(0.8659);">30.00</span><span style="left:757.20px;top:482.11px;font-size:10.8px;line-height:13.5px;color:#1a1a1a;transform:scaleX(0.8333);">$</span><span style="left:789.89px;top:482.48px;font-size:9.8px;line-height:12.25px;color:#1a1a1a;transform:scaleX(0.8659);">30.00</span><span style="left:822.20px;top:482.11px;font-size:10.8px;line-height:13.5px;color:#1a1a1a;transform:scaleX(0.8333);">$</span><span style="left:854.89px;top:482.48px;font-size:9.8px;line-height:12.25px;color:#1a1a1a;transform:scaleX(0.8659);">30.00</span><span style="left:887.20px;top:482.11px;font-size:10.8px;line-height:13.5px;color:#1a1a1a;transform:scaleX(0.8333);">$</span><span style="left:919.89px;top:482.48px;font-size:9.8px;line-height:12.25px;color:#1a1a1a;transform:scaleX(0.8659);">30.00</span><span style="left:952.20px;top:482.11px;font-size:10.8px;line-height:13.5px;color:#1a1a1a;transform:scaleX(0.8333);">$</span><span style="left:992.48px;top:482.48px;font-size:9.8px;line-height:12.25px;color:#1a1a1a;transform:scaleX(0.8659);">360.00</span><span style="left:28.40px;top:496.6px;font-size:10.5px;line-height:13.12px;color:#1a1a1a;transform:scaleX(1.1101);">Sewage</span><span style="left:172.20px;top:498.11px;font-size:10.8px;line-height:13.5px;color:#1a1a1a;transform:scaleX(0.8333);">$</span><span style="left:204.89px;top:498.48px;font-size:9.8px;line-height:12.25px;color:#1a1a1a;transform:scaleX(0.8659);">20.00</span><span style="left:237.20px;top:498.11px;font-size:10.8px;line-height:13.5px;color:#1a1a1a;transform:scaleX(0.8333);">$</span><span style="left:269.89px;top:498.48px;font-size:9.8px;line-height:12.25px;color:#1a1a1a;transform:scaleX(0.8659);">20.00</span><span style="left:302.20px;top:498.11px;font-size:10.8px;line-height:13.5px;color:#1a1a1a;transform:scaleX(0.8333);">$</span><span style="left:334.89px;top:498.48px;font-size:9.8px;line-height:12.25px;color:#1a1a1a;transform:scaleX(0.8659);">20.00</span><span style="left:367.20px;top:498.11px;font-size:10.8px;line-height:13.5px;color:#1a1a1a;transform:scaleX(0.8333);">$</span><span style="left:399.89px;top:498.48px;font-size:9.8px;line-height:12.25px;color:#1a1a1a;transform:scaleX(0.8659);">20.00</span><span style="left:432.20px;top:498.11px;font-size:10.8px;line-height:13.5px;color:#1a1a1a;transform:scaleX(0.8333);">$</span><span style="left:464.89px;top:498.48px;font-size:9.8px;line-height:12.25px;color:#1a1a1a;transform:scaleX(0.8659);">20.00</span><span style="left:497.20px;top:498.11px;font-size:10.8px;line-height:13.5px;color:#1a1a1a;transform:scaleX(0.8333);">$</span><span style="left:529.89px;top:498.48px;font-size:9.8px;line-height:12.25px;color:#1a1a1a;transform:scaleX(0.8659);">20.00</span><span style="left:562.20px;top:498.11px;font-size:10.8px;line-height:13.5px;color:#1a1a1a;transform:scaleX(0.8333);">$</span><span style="left:594.89px;top:498.48px;font-size:9.8px;line-height:12.25px;color:#1a1a1a;transform:scaleX(0.8659);">20.00</span><span style="left:627.20px;top:498.11px;font-size:10.8px;line-height:13.5px;color:#1a1a1a;transform:scaleX(0.8333);">$</span><span style="left:659.89px;top:498.48px;font-size:9.8px;line-height:12.25px;color:#1a1a1a;transform:scaleX(0.8659);">20.00</span><span style="left:692.20px;top:498.11px;font-size:10.8px;line-height:13.5px;color:#1a1a1a;transform:scaleX(0.8333);">$</span><span style="left:724.89px;top:498.48px;font-size:9.8px;line-height:12.25px;color:#1a1a1a;transform:scaleX(0.8659);">20.00</span><span style="left:757.20px;top:498.11px;font-size:10.8px;line-height:13.5px;color:#1a1a1a;transform:scaleX(0.8333);">$</span><span style="left:789.89px;top:498.48px;font-size:9.8px;line-height:12.25px;color:#1a1a1a;transform:scaleX(0.8659);">20.00</span><span style="left:822.20px;top:498.11px;font-size:10.8px;line-height:13.5px;color:#1a1a1a;transform:scaleX(0.8333);">$</span><span style="left:854.89px;top:498.48px;font-size:9.8px;line-height:12.25px;color:#1a1a1a;transform:scaleX(0.8659);">20.00</span><span style="left:887.20px;top:498.11px;font-size:10.8px;line-height:13.5px;color:#1a1a1a;transform:scaleX(0.8333);">$</span><span style="left:919.89px;top:498.48px;font-size:9.8px;line-height:12.25px;color:#1a1a1a;transform:scaleX(0.8659);">20.00</span><span style="left:952.20px;top:498.11px;font-size:10.8px;line-height:13.5px;color:#1a1a1a;transform:scaleX(0.8333);">$</span><span style="left:992.48px;top:498.48px;font-size:9.8px;line-height:12.25px;color:#1a1a1a;transform:scaleX(0.8659);">240.00</span><span style="left:28.40px;top:512.6px;font-size:10.5px;line-height:13.12px;color:#1a1a1a;transform:scaleX(1.0899);">Trash Removal</span><span style="left:172.20px;top:514.11px;font-size:10.8px;line-height:13.5px;color:#1a1a1a;transform:scaleX(0.8333);">$</span><span style="left:204.89px;top:514.48px;font-size:9.8px;line-height:12.25px;color:#1a1a1a;transform:scaleX(0.8659);">40.00</span><span style="left:237.20px;top:514.11px;font-size:10.8px;line-height:13.5px;color:#1a1a1a;transform:scaleX(0.8333);">$</span><span style="left:269.89px;top:514.48px;font-size:9.8px;line-height:12.25px;color:#1a1a1a;transform:scaleX(0.8659);">40.00</span><span style="left:302.20px;top:514.11px;font-size:10.8px;line-height:13.5px;color:#1a1a1a;transform:scaleX(0.8333);">$</span><span style="left:334.89px;top:514.48px;font-size:9.8px;line-height:12.25px;color:#1a1a1a;transform:scaleX(0.8659);">40.00</span><span style="left:367.20px;top:514.11px;font-size:10.8px;line-height:13.5px;color:#1a1a1a;transform:scaleX(0.8333);">$</span><span style="left:399.89px;top:514.48px;font-size:9.8px;line-height:12.25px;color:#1a1a1a;transform:scaleX(0.8659);">40.00</span><span style="left:432.20px;top:514.11px;font-size:10.8px;line-height:13.5px;color:#1a1a1a;transform:scaleX(0.8333);">$</span><span style="left:464.89px;top:514.48px;font-size:9.8px;line-height:12.25px;color:#1a1a1a;transform:scaleX(0.8659);">40.00</span><span style="left:497.20px;top:514.11px;font-size:10.8px;line-height:13.5px;color:#1a1a1a;transform:scaleX(0.8333);">$</span><span style="left:529.89px;top:514.48px;font-size:9.8px;line-height:12.25px;color:#1a1a1a;transform:scaleX(0.8659);">40.00</span><span style="left:562.20px;top:514.11px;font-size:10.8px;line-height:13.5px;color:#1a1a1a;transform:scaleX(0.8333);">$</span><span style="left:594.89px;top:514.48px;font-size:9.8px;line-height:12.25px;color:#1a1a1a;transform:scaleX(0.8659);">40.00</span><span style="left:627.20px;top:514.11px;font-size:10.8px;line-height:13.5px;color:#1a1a1a;transform:scaleX(0.8333);">$</span><span style="left:659.89px;top:514.48px;font-size:9.8px;line-height:12.25px;color:#1a1a1a;transform:scaleX(0.8659);">40.00</span><span style="left:692.20px;top:514.11px;font-size:10.8px;line-height:13.5px;color:#1a1a1a;transform:scaleX(0.8333);">$</span><span style="left:724.89px;top:514.48px;font-size:9.8px;line-height:12.25px;color:#1a1a1a;transform:scaleX(0.8659);">40.00</span><span style="left:757.20px;top:514.11px;font-size:10.8px;line-height:13.5px;color:#1a1a1a;transform:scaleX(0.8333);">$</span><span style="left:789.89px;top:514.48px;font-size:9.8px;line-height:12.25px;color:#1a1a1a;transform:scaleX(0.8659);">40.00</span><span style="left:822.20px;top:514.11px;font-size:10.8px;line-height:13.5px;color:#1a1a1a;transform:scaleX(0.8333);">$</span><span style="left:854.89px;top:514.48px;font-size:9.8px;line-height:12.25px;color:#1a1a1a;transform:scaleX(0.8659);">40.00</span><span style="left:887.20px;top:514.11px;font-size:10.8px;line-height:13.5px;color:#1a1a1a;transform:scaleX(0.8333);">$</span><span style="left:919.89px;top:514.48px;font-size:9.8px;line-height:12.25px;color:#1a1a1a;transform:scaleX(0.8659);">40.00</span><span style="left:952.20px;top:514.11px;font-size:10.8px;line-height:13.5px;color:#1a1a1a;transform:scaleX(0.8333);">$</span><span style="left:992.48px;top:514.48px;font-size:9.8px;line-height:12.25px;color:#1a1a1a;transform:scaleX(0.8659);">480.00</span><span style="left:28.40px;top:529.6px;font-size:10.5px;line-height:13.12px;font-weight:bold;color:#000;transform:scaleX(1.0059);-webkit-text-stroke:0.2px #000;">Personal</span><span style="left:172.20px;top:531.11px;font-size:10.8px;line-height:13.5px;color:#1a1a1a;transform:scaleX(0.8333);">$</span><span style="left:200.18px;top:531.48px;font-size:9.8px;line-height:12.25px;color:#1a1a1a;transform:scaleX(0.8659);">901.00</span><span style="left:237.20px;top:531.11px;font-size:10.8px;line-height:13.5px;color:#1a1a1a;transform:scaleX(0.8333);">$</span><span style="left:265.18px;top:531.48px;font-size:9.8px;line-height:12.25px;color:#1a1a1a;transform:scaleX(0.8659);">901.00</span><span style="left:302.20px;top:531.11px;font-size:10.8px;line-height:13.5px;color:#1a1a1a;transform:scaleX(0.8333);">$</span><span style="left:330.18px;top:531.48px;font-size:9.8px;line-height:12.25px;color:#1a1a1a;transform:scaleX(0.8659);">901.00</span><span style="left:367.20px;top:531.11px;font-size:10.8px;line-height:13.5px;color:#1a1a1a;transform:scaleX(0.8333);">$</span><span style="left:395.18px;top:531.48px;font-size:9.8px;line-height:12.25px;color:#1a1a1a;transform:scaleX(0.8659);">901.00</span><span style="left:432.20px;top:531.11px;font-size:10.8px;line-height:13.5px;color:#1a1a1a;transform:scaleX(0.8333);">$</span><span style="left:460.18px;top:531.48px;font-size:9.8px;line-height:12.25px;color:#1a1a1a;transform:scaleX(0.8659);">901.00</span><span style="left:497.20px;top:531.11px;font-size:10.8px;line-height:13.5px;color:#1a1a1a;transform:scaleX(0.8333);">$</span><span style="left:525.18px;top:531.48px;font-size:9.8px;line-height:12.25px;color:#1a1a1a;transform:scaleX(0.8659);">901.00</span><span style="left:562.20px;top:531.11px;font-size:10.8px;line-height:13.5px;color:#1a1a1a;transform:scaleX(0.8333);">$</span><span style="left:590.18px;top:531.48px;font-size:9.8px;line-height:12.25px;color:#1a1a1a;transform:scaleX(0.8659);">901.00</span><span style="left:627.20px;top:531.11px;font-size:10.8px;line-height:13.5px;color:#1a1a1a;transform:scaleX(0.8333);">$</span><span style="left:655.18px;top:531.48px;font-size:9.8px;line-height:12.25px;color:#1a1a1a;transform:scaleX(0.8659);">901.00</span><span style="left:692.20px;top:531.11px;font-size:10.8px;line-height:13.5px;color:#1a1a1a;transform:scaleX(0.8333);">$</span><span style="left:720.18px;top:531.48px;font-size:9.8px;line-height:12.25px;color:#1a1a1a;transform:scaleX(0.8659);">901.00</span><span style="left:757.20px;top:531.11px;font-size:10.8px;line-height:13.5px;color:#1a1a1a;transform:scaleX(0.8333);">$</span><span style="left:785.18px;top:531.48px;font-size:9.8px;line-height:12.25px;color:#1a1a1a;transform:scaleX(0.8659);">901.00</span><span style="left:822.20px;top:531.11px;font-size:10.8px;line-height:13.5px;color:#1a1a1a;transform:scaleX(0.8333);">$</span><span style="left:850.18px;top:531.48px;font-size:9.8px;line-height:12.25px;color:#1a1a1a;transform:scaleX(0.8659);">901.00</span><span style="left:887.20px;top:531.11px;font-size:10.8px;line-height:13.5px;color:#1a1a1a;transform:scaleX(0.8333);">$</span><span style="left:915.18px;top:531.48px;font-size:9.8px;line-height:12.25px;color:#1a1a1a;transform:scaleX(0.8659);">901.00</span><span style="left:952.20px;top:531.11px;font-size:10.8px;line-height:13.5px;color:#1a1a1a;transform:scaleX(0.8333);">$</span><span style="left:980.68px;top:531.48px;font-size:9.8px;line-height:12.25px;color:#1a1a1a;transform:scaleX(0.8659);">10,812.00</span><span style="left:28.40px;top:546.6px;font-size:10.5px;line-height:13.12px;color:#1a1a1a;transform:scaleX(1.1101);">Cell Phone</span><span style="left:172.20px;top:548.11px;font-size:10.8px;line-height:13.5px;color:#1a1a1a;transform:scaleX(0.8333);">$</span><span style="left:201.43px;top:548.48px;font-size:9.8px;line-height:12.25px;color:#1a1a1a;transform:scaleX(0.8659);">111.00</span><span style="left:237.20px;top:548.11px;font-size:10.8px;line-height:13.5px;color:#1a1a1a;transform:scaleX(0.8333);">$</span><span style="left:266.43px;top:548.48px;font-size:9.8px;line-height:12.25px;color:#1a1a1a;transform:scaleX(0.8659);">111.00</span><span style="left:302.20px;top:548.11px;font-size:10.8px;line-height:13.5px;color:#1a1a1a;transform:scaleX(0.8333);">$</span><span style="left:331.43px;top:548.48px;font-size:9.8px;line-height:12.25px;color:#1a1a1a;transform:scaleX(0.8659);">111.00</span><span style="left:367.20px;top:548.11px;font-size:10.8px;line-height:13.5px;color:#1a1a1a;transform:scaleX(0.8333);">$</span><span style="left:396.43px;top:548.48px;font-size:9.8px;line-height:12.25px;color:#1a1a1a;transform:scaleX(0.8659);">111.00</span><span style="left:432.20px;top:548.11px;font-size:10.8px;line-height:13.5px;color:#1a1a1a;transform:scaleX(0.8333);">$</span><span style="left:461.43px;top:548.48px;font-size:9.8px;line-height:12.25px;color:#1a1a1a;transform:scaleX(0.8659);">111.00</span><span style="left:497.20px;top:548.11px;font-size:10.8px;line-height:13.5px;color:#1a1a1a;transform:scaleX(0.8333);">$</span><span style="left:526.43px;top:548.48px;font-size:9.8px;line-height:12.25px;color:#1a1a1a;transform:scaleX(0.8659);">111.00</span><span style="left:562.20px;top:548.11px;font-size:10.8px;line-height:13.5px;color:#1a1a1a;transform:scaleX(0.8333);">$</span><span style="left:591.43px;top:548.48px;font-size:9.8px;line-height:12.25px;color:#1a1a1a;transform:scaleX(0.8659);">111.00</span><span style="left:627.20px;top:548.11px;font-size:10.8px;line-height:13.5px;color:#1a1a1a;transform:scaleX(0.8333);">$</span><span style="left:656.43px;top:548.48px;font-size:9.8px;line-height:12.25px;color:#1a1a1a;transform:scaleX(0.8659);">111.00</span><span style="left:692.20px;top:548.11px;font-size:10.8px;line-height:13.5px;color:#1a1a1a;transform:scaleX(0.8333);">$</span><span style="left:721.43px;top:548.48px;font-size:9.8px;line-height:12.25px;color:#1a1a1a;transform:scaleX(0.8659);">111.00</span><span style="left:757.20px;top:548.11px;font-size:10.8px;line-height:13.5px;color:#1a1a1a;transform:scaleX(0.8333);">$</span><span style="left:786.43px;top:548.48px;font-size:9.8px;line-height:12.25px;color:#1a1a1a;transform:scaleX(0.8659);">111.00</span><span style="left:822.20px;top:548.11px;font-size:10.8px;line-height:13.5px;color:#1a1a1a;transform:scaleX(0.8333);">$</span><span style="left:851.43px;top:548.48px;font-size:9.8px;line-height:12.25px;color:#1a1a1a;transform:scaleX(0.8659);">111.00</span><span style="left:887.20px;top:548.11px;font-size:10.8px;line-height:13.5px;color:#1a1a1a;transform:scaleX(0.8333);">$</span><span style="left:916.43px;top:548.48px;font-size:9.8px;line-height:12.25px;color:#1a1a1a;transform:scaleX(0.8659);">111.00</span><span style="left:952.20px;top:548.11px;font-size:10.8px;line-height:13.5px;color:#1a1a1a;transform:scaleX(0.8333);">$</span><span style="left:985.40px;top:548.48px;font-size:9.8px;line-height:12.25px;color:#1a1a1a;transform:scaleX(0.8659);">1,332.00</span><span style="left:28.40px;top:562.6px;font-size:10.5px;line-height:13.12px;color:#1a1a1a;transform:scaleX(1.1315);">Health Insurance</span><span style="left:172.20px;top:564.11px;font-size:10.8px;line-height:13.5px;color:#1a1a1a;transform:scaleX(0.8333);">$</span><span style="left:200.18px;top:564.48px;font-size:9.8px;line-height:12.25px;color:#1a1a1a;transform:scaleX(0.8659);">550.00</span><span style="left:237.20px;top:564.11px;font-size:10.8px;line-height:13.5px;color:#1a1a1a;transform:scaleX(0.8333);">$</span><span style="left:265.18px;top:564.48px;font-size:9.8px;line-height:12.25px;color:#1a1a1a;transform:scaleX(0.8659);">550.00</span><span style="left:302.20px;top:564.11px;font-size:10.8px;line-height:13.5px;color:#1a1a1a;transform:scaleX(0.8333);">$</span><span style="left:330.18px;top:564.48px;font-size:9.8px;line-height:12.25px;color:#1a1a1a;transform:scaleX(0.8659);">550.00</span><span style="left:367.20px;top:564.11px;font-size:10.8px;line-height:13.5px;color:#1a1a1a;transform:scaleX(0.8333);">$</span><span style="left:395.18px;top:564.48px;font-size:9.8px;line-height:12.25px;color:#1a1a1a;transform:scaleX(0.8659);">550.00</span><span style="left:432.20px;top:564.11px;font-size:10.8px;line-height:13.5px;color:#1a1a1a;transform:scaleX(0.8333);">$</span><span style="left:460.18px;top:564.48px;font-size:9.8px;line-height:12.25px;color:#1a1a1a;transform:scaleX(0.8659);">550.00</span><span style="left:497.20px;top:564.11px;font-size:10.8px;line-height:13.5px;color:#1a1a1a;transform:scaleX(0.8333);">$</span><span style="left:525.18px;top:564.48px;font-size:9.8px;line-height:12.25px;color:#1a1a1a;transform:scaleX(0.8659);">550.00</span><span style="left:562.20px;top:564.11px;font-size:10.8px;line-height:13.5px;color:#1a1a1a;transform:scaleX(0.8333);">$</span><span style="left:590.18px;top:564.48px;font-size:9.8px;line-height:12.25px;color:#1a1a1a;transform:scaleX(0.8659);">550.00</span><span style="left:627.20px;top:564.11px;font-size:10.8px;line-height:13.5px;color:#1a1a1a;transform:scaleX(0.8333);">$</span><span style="left:655.18px;top:564.48px;font-size:9.8px;line-height:12.25px;color:#1a1a1a;transform:scaleX(0.8659);">550.00</span><span style="left:692.20px;top:564.11px;font-size:10.8px;line-height:13.5px;color:#1a1a1a;transform:scaleX(0.8333);">$</span><span style="left:720.18px;top:564.48px;font-size:9.8px;line-height:12.25px;color:#1a1a1a;transform:scaleX(0.8659);">550.00</span><span style="left:757.20px;top:564.11px;font-size:10.8px;line-height:13.5px;color:#1a1a1a;transform:scaleX(0.8333);">$</span><span style="left:785.18px;top:564.48px;font-size:9.8px;line-height:12.25px;color:#1a1a1a;transform:scaleX(0.8659);">550.00</span><span style="left:822.20px;top:564.11px;font-size:10.8px;line-height:13.5px;color:#1a1a1a;transform:scaleX(0.8333);">$</span><span style="left:850.18px;top:564.48px;font-size:9.8px;line-height:12.25px;color:#1a1a1a;transform:scaleX(0.8659);">550.00</span><span style="left:887.20px;top:564.11px;font-size:10.8px;line-height:13.5px;color:#1a1a1a;transform:scaleX(0.8333);">$</span><span style="left:915.18px;top:564.48px;font-size:9.8px;line-height:12.25px;color:#1a1a1a;transform:scaleX(0.8659);">550.00</span><span style="left:952.20px;top:564.11px;font-size:10.8px;line-height:13.5px;color:#1a1a1a;transform:scaleX(0.8333);">$</span><span style="left:985.40px;top:564.48px;font-size:9.8px;line-height:12.25px;color:#1a1a1a;transform:scaleX(0.8659);">6,600.00</span><span style="left:28.40px;top:578.6px;font-size:10.5px;line-height:13.12px;color:#1a1a1a;transform:scaleX(1.1059);">Personal Care</span><span style="left:172.20px;top:580.11px;font-size:10.8px;line-height:13.5px;color:#1a1a1a;transform:scaleX(0.8333);">$</span><span style="left:200.80px;top:580.48px;font-size:9.8px;line-height:12.25px;color:#1a1a1a;transform:scaleX(0.8659);">110.00</span><span style="left:237.20px;top:580.11px;font-size:10.8px;line-height:13.5px;color:#1a1a1a;transform:scaleX(0.8333);">$</span><span style="left:265.80px;top:580.48px;font-size:9.8px;line-height:12.25px;color:#1a1a1a;transform:scaleX(0.8659);">110.00</span><span style="left:302.20px;top:580.11px;font-size:10.8px;line-height:13.5px;color:#1a1a1a;transform:scaleX(0.8333);">$</span><span style="left:330.80px;top:580.48px;font-size:9.8px;line-height:12.25px;color:#1a1a1a;transform:scaleX(0.8659);">110.00</span><span style="left:367.20px;top:580.11px;font-size:10.8px;line-height:13.5px;color:#1a1a1a;transform:scaleX(0.8333);">$</span><span style="left:395.80px;top:580.48px;font-size:9.8px;line-height:12.25px;color:#1a1a1a;transform:scaleX(0.8659);">110.00</span><span style="left:432.20px;top:580.11px;font-size:10.8px;line-height:13.5px;color:#1a1a1a;transform:scaleX(0.8333);">$</span><span style="left:460.80px;top:580.48px;font-size:9.8px;line-height:12.25px;color:#1a1a1a;transform:scaleX(0.8659);">110.00</span><span style="left:497.20px;top:580.11px;font-size:10.8px;line-height:13.5px;color:#1a1a1a;transform:scaleX(0.8333);">$</span><span style="left:525.80px;top:580.48px;font-size:9.8px;line-height:12.25px;color:#1a1a1a;transform:scaleX(0.8659);">110.00</span><span style="left:562.20px;top:580.11px;font-size:10.8px;line-height:13.5px;color:#1a1a1a;transform:scaleX(0.8333);">$</span><span style="left:590.80px;top:580.48px;font-size:9.8px;line-height:12.25px;color:#1a1a1a;transform:scaleX(0.8659);">110.00</span><span style="left:627.20px;top:580.11px;font-size:10.8px;line-height:13.5px;color:#1a1a1a;transform:scaleX(0.8333);">$</span><span style="left:655.80px;top:580.48px;font-size:9.8px;line-height:12.25px;color:#1a1a1a;transform:scaleX(0.8659);">110.00</span><span style="left:692.20px;top:580.11px;font-size:10.8px;line-height:13.5px;color:#1a1a1a;transform:scaleX(0.8333);">$</span><span style="left:720.80px;top:580.48px;font-size:9.8px;line-height:12.25px;color:#1a1a1a;transform:scaleX(0.8659);">110.00</span><span style="left:757.20px;top:580.11px;font-size:10.8px;line-height:13.5px;color:#1a1a1a;transform:scaleX(0.8333);">$</span><span style="left:785.80px;top:580.48px;font-size:9.8px;line-height:12.25px;color:#1a1a1a;transform:scaleX(0.8659);">110.00</span><span style="left:822.20px;top:580.11px;font-size:10.8px;line-height:13.5px;color:#1a1a1a;transform:scaleX(0.8333);">$</span><span style="left:850.80px;top:580.48px;font-size:9.8px;line-height:12.25px;color:#1a1a1a;transform:scaleX(0.8659);">110.00</span><span style="left:887.20px;top:580.11px;font-size:10.8px;line-height:13.5px;color:#1a1a1a;transform:scaleX(0.8333);">$</span><span style="left:915.80px;top:580.48px;font-size:9.8px;line-height:12.25px;color:#1a1a1a;transform:scaleX(0.8659);">110.00</span><span style="left:952.20px;top:580.11px;font-size:10.8px;line-height:13.5px;color:#1a1a1a;transform:scaleX(0.8333);">$</span><span style="left:985.40px;top:580.48px;font-size:9.8px;line-height:12.25px;color:#1a1a1a;transform:scaleX(0.8659);">1,320.00</span><span style="left:28.40px;top:594.6px;font-size:10.5px;line-height:13.12px;color:#1a1a1a;transform:scaleX(1.1288);">Gym Membership</span><span style="left:172.20px;top:596.11px;font-size:10.8px;line-height:13.5px;color:#1a1a1a;transform:scaleX(0.8333);">$</span><span style="left:204.89px;top:596.48px;font-size:9.8px;line-height:12.25px;color:#1a1a1a;transform:scaleX(0.8659);">85.00</span><span style="left:237.20px;top:596.11px;font-size:10.8px;line-height:13.5px;color:#1a1a1a;transform:scaleX(0.8333);">$</span><span style="left:269.89px;top:596.48px;font-size:9.8px;line-height:12.25px;color:#1a1a1a;transform:scaleX(0.8659);">85.00</span><span style="left:302.20px;top:596.11px;font-size:10.8px;line-height:13.5px;color:#1a1a1a;transform:scaleX(0.8333);">$</span><span style="left:334.89px;top:596.48px;font-size:9.8px;line-height:12.25px;color:#1a1a1a;transform:scaleX(0.8659);">85.00</span><span style="left:367.20px;top:596.11px;font-size:10.8px;line-height:13.5px;color:#1a1a1a;transform:scaleX(0.8333);">$</span><span style="left:399.89px;top:596.48px;font-size:9.8px;line-height:12.25px;color:#1a1a1a;transform:scaleX(0.8659);">85.00</span><span style="left:432.20px;top:596.11px;font-size:10.8px;line-height:13.5px;color:#1a1a1a;transform:scaleX(0.8333);">$</span><span style="left:464.89px;top:596.48px;font-size:9.8px;line-height:12.25px;color:#1a1a1a;transform:scaleX(0.8659);">85.00</span><span style="left:497.20px;top:596.11px;font-size:10.8px;line-height:13.5px;color:#1a1a1a;transform:scaleX(0.8333);">$</span><span style="left:529.89px;top:596.48px;font-size:9.8px;line-height:12.25px;color:#1a1a1a;transform:scaleX(0.8659);">85.00</span><span style="left:562.20px;top:596.11px;font-size:10.8px;line-height:13.5px;color:#1a1a1a;transform:scaleX(0.8333);">$</span><span style="left:594.89px;top:596.48px;font-size:9.8px;line-height:12.25px;color:#1a1a1a;transform:scaleX(0.8659);">85.00</span><span style="left:627.20px;top:596.11px;font-size:10.8px;line-height:13.5px;color:#1a1a1a;transform:scaleX(0.8333);">$</span><span style="left:659.89px;top:596.48px;font-size:9.8px;line-height:12.25px;color:#1a1a1a;transform:scaleX(0.8659);">85.00</span><span style="left:692.20px;top:596.11px;font-size:10.8px;line-height:13.5px;color:#1a1a1a;transform:scaleX(0.8333);">$</span><span style="left:724.89px;top:596.48px;font-size:9.8px;line-height:12.25px;color:#1a1a1a;transform:scaleX(0.8659);">85.00</span><span style="left:757.20px;top:596.11px;font-size:10.8px;line-height:13.5px;color:#1a1a1a;transform:scaleX(0.8333);">$</span><span style="left:789.89px;top:596.48px;font-size:9.8px;line-height:12.25px;color:#1a1a1a;transform:scaleX(0.8659);">85.00</span><span style="left:822.20px;top:596.11px;font-size:10.8px;line-height:13.5px;color:#1a1a1a;transform:scaleX(0.8333);">$</span><span style="left:854.89px;top:596.48px;font-size:9.8px;line-height:12.25px;color:#1a1a1a;transform:scaleX(0.8659);">85.00</span><span style="left:887.20px;top:596.11px;font-size:10.8px;line-height:13.5px;color:#1a1a1a;transform:scaleX(0.8333);">$</span><span style="left:919.89px;top:596.48px;font-size:9.8px;line-height:12.25px;color:#1a1a1a;transform:scaleX(0.8659);">85.00</span><span style="left:952.20px;top:596.11px;font-size:10.8px;line-height:13.5px;color:#1a1a1a;transform:scaleX(0.8333);">$</span><span style="left:985.40px;top:596.48px;font-size:9.8px;line-height:12.25px;color:#1a1a1a;transform:scaleX(0.8659);">1,020.00</span><span style="left:28.40px;top:610.6px;font-size:10.5px;line-height:13.12px;color:#1a1a1a;transform:scaleX(1.1555);">Clothing</span><span style="left:172.20px;top:612.11px;font-size:10.8px;line-height:13.5px;color:#1a1a1a;transform:scaleX(0.8333);">$</span><span style="left:204.89px;top:612.48px;font-size:9.8px;line-height:12.25px;color:#1a1a1a;transform:scaleX(0.8659);">45.00</span><span style="left:237.20px;top:612.11px;font-size:10.8px;line-height:13.5px;color:#1a1a1a;transform:scaleX(0.8333);">$</span><span style="left:269.89px;top:612.48px;font-size:9.8px;line-height:12.25px;color:#1a1a1a;transform:scaleX(0.8659);">45.00</span><span style="left:302.20px;top:612.11px;font-size:10.8px;line-height:13.5px;color:#1a1a1a;transform:scaleX(0.8333);">$</span><span style="left:334.89px;top:612.48px;font-size:9.8px;line-height:12.25px;color:#1a1a1a;transform:scaleX(0.8659);">45.00</span><span style="left:367.20px;top:612.11px;font-size:10.8px;line-height:13.5px;color:#1a1a1a;transform:scaleX(0.8333);">$</span><span style="left:399.89px;top:612.48px;font-size:9.8px;line-height:12.25px;color:#1a1a1a;transform:scaleX(0.8659);">45.00</span><span style="left:432.20px;top:612.11px;font-size:10.8px;line-height:13.5px;color:#1a1a1a;transform:scaleX(0.8333);">$</span><span style="left:464.89px;top:612.48px;font-size:9.8px;line-height:12.25px;color:#1a1a1a;transform:scaleX(0.8659);">45.00</span><span style="left:497.20px;top:612.11px;font-size:10.8px;line-height:13.5px;color:#1a1a1a;transform:scaleX(0.8333);">$</span><span style="left:529.89px;top:612.48px;font-size:9.8px;line-height:12.25px;color:#1a1a1a;transform:scaleX(0.8659);">45.00</span><span style="left:562.20px;top:612.11px;font-size:10.8px;line-height:13.5px;color:#1a1a1a;transform:scaleX(0.8333);">$</span><span style="left:594.89px;top:612.48px;font-size:9.8px;line-height:12.25px;color:#1a1a1a;transform:scaleX(0.8659);">45.00</span><span style="left:627.20px;top:612.11px;font-size:10.8px;line-height:13.5px;color:#1a1a1a;transform:scaleX(0.8333);">$</span><span style="left:659.89px;top:612.48px;font-size:9.8px;line-height:12.25px;color:#1a1a1a;transform:scaleX(0.8659);">45.00</span><span style="left:692.20px;top:612.11px;font-size:10.8px;line-height:13.5px;color:#1a1a1a;transform:scaleX(0.8333);">$</span><span style="left:724.89px;top:612.48px;font-size:9.8px;line-height:12.25px;color:#1a1a1a;transform:scaleX(0.8659);">45.00</span><span style="left:757.20px;top:612.11px;font-size:10.8px;line-height:13.5px;color:#1a1a1a;transform:scaleX(0.8333);">$</span><span style="left:789.89px;top:612.48px;font-size:9.8px;line-height:12.25px;color:#1a1a1a;transform:scaleX(0.8659);">45.00</span><span style="left:822.20px;top:612.11px;font-size:10.8px;line-height:13.5px;color:#1a1a1a;transform:scaleX(0.8333);">$</span><span style="left:854.89px;top:612.48px;font-size:9.8px;line-height:12.25px;color:#1a1a1a;transform:scaleX(0.8659);">45.00</span><span style="left:887.20px;top:612.11px;font-size:10.8px;line-height:13.5px;color:#1a1a1a;transform:scaleX(0.8333);">$</span><span style="left:919.89px;top:612.48px;font-size:9.8px;line-height:12.25px;color:#1a1a1a;transform:scaleX(0.8659);">45.00</span><span style="left:952.20px;top:612.11px;font-size:10.8px;line-height:13.5px;color:#1a1a1a;transform:scaleX(0.8333);">$</span><span style="left:992.48px;top:612.48px;font-size:9.8px;line-height:12.25px;color:#1a1a1a;transform:scaleX(0.8659);">540.00</span><span style="left:28.40px;top:627.6px;font-size:10.5px;line-height:13.12px;font-weight:bold;color:#000;transform:scaleX(1.0063);-webkit-text-stroke:0.2px #000;">Food</span><span style="left:172.20px;top:629.11px;font-size:10.8px;line-height:13.5px;color:#1a1a1a;transform:scaleX(0.8333);">$</span><span style="left:200.18px;top:629.48px;font-size:9.8px;line-height:12.25px;color:#1a1a1a;transform:scaleX(0.8659);">670.00</span><span style="left:237.20px;top:629.11px;font-size:10.8px;line-height:13.5px;color:#1a1a1a;transform:scaleX(0.8333);">$</span><span style="left:265.18px;top:629.48px;font-size:9.8px;line-height:12.25px;color:#1a1a1a;transform:scaleX(0.8659);">670.00</span><span style="left:302.20px;top:629.11px;font-size:10.8px;line-height:13.5px;color:#1a1a1a;transform:scaleX(0.8333);">$</span><span style="left:330.18px;top:629.48px;font-size:9.8px;line-height:12.25px;color:#1a1a1a;transform:scaleX(0.8659);">670.00</span><span style="left:367.20px;top:629.11px;font-size:10.8px;line-height:13.5px;color:#1a1a1a;transform:scaleX(0.8333);">$</span><span style="left:395.18px;top:629.48px;font-size:9.8px;line-height:12.25px;color:#1a1a1a;transform:scaleX(0.8659);">670.00</span><span style="left:432.20px;top:629.11px;font-size:10.8px;line-height:13.5px;color:#1a1a1a;transform:scaleX(0.8333);">$</span><span style="left:460.18px;top:629.48px;font-size:9.8px;line-height:12.25px;color:#1a1a1a;transform:scaleX(0.8659);">670.00</span><span style="left:497.20px;top:629.11px;font-size:10.8px;line-height:13.5px;color:#1a1a1a;transform:scaleX(0.8333);">$</span><span style="left:525.18px;top:629.48px;font-size:9.8px;line-height:12.25px;color:#1a1a1a;transform:scaleX(0.8659);">670.00</span><span style="left:562.20px;top:629.11px;font-size:10.8px;line-height:13.5px;color:#1a1a1a;transform:scaleX(0.8333);">$</span><span style="left:590.18px;top:629.48px;font-size:9.8px;line-height:12.25px;color:#1a1a1a;transform:scaleX(0.8659);">670.00</span><span style="left:627.20px;top:629.11px;font-size:10.8px;line-height:13.5px;color:#1a1a1a;transform:scaleX(0.8333);">$</span><span style="left:655.18px;top:629.48px;font-size:9.8px;line-height:12.25px;color:#1a1a1a;transform:scaleX(0.8659);">670.00</span><span style="left:692.20px;top:629.11px;font-size:10.8px;line-height:13.5px;color:#1a1a1a;transform:scaleX(0.8333);">$</span><span style="left:720.18px;top:629.48px;font-size:9.8px;line-height:12.25px;color:#1a1a1a;transform:scaleX(0.8659);">670.00</span><span style="left:757.20px;top:629.11px;font-size:10.8px;line-height:13.5px;color:#1a1a1a;transform:scaleX(0.8333);">$</span><span style="left:785.18px;top:629.48px;font-size:9.8px;line-height:12.25px;color:#1a1a1a;transform:scaleX(0.8659);">670.00</span><span style="left:822.20px;top:629.11px;font-size:10.8px;line-height:13.5px;color:#1a1a1a;transform:scaleX(0.8333);">$</span><span style="left:850.18px;top:629.48px;font-size:9.8px;line-height:12.25px;color:#1a1a1a;transform:scaleX(0.8659);">670.00</span><span style="left:887.20px;top:629.11px;font-size:10.8px;line-height:13.5px;color:#1a1a1a;transform:scaleX(0.8333);">$</span><span style="left:915.18px;top:629.48px;font-size:9.8px;line-height:12.25px;color:#1a1a1a;transform:scaleX(0.8659);">670.00</span><span style="left:952.20px;top:629.11px;font-size:10.8px;line-height:13.5px;color:#1a1a1a;transform:scaleX(0.8333);">$</span><span style="left:985.40px;top:629.48px;font-size:9.8px;line-height:12.25px;color:#1a1a1a;transform:scaleX(0.8659);">8,040.00</span><span style="left:28.40px;top:644.6px;font-size:10.5px;line-height:13.12px;color:#1a1a1a;transform:scaleX(1.0936);">Groceries</span><span style="left:172.20px;top:646.11px;font-size:10.8px;line-height:13.5px;color:#1a1a1a;transform:scaleX(0.8333);">$</span><span style="left:200.18px;top:646.48px;font-size:9.8px;line-height:12.25px;color:#1a1a1a;transform:scaleX(0.8659);">400.00</span><span style="left:237.20px;top:646.11px;font-size:10.8px;line-height:13.5px;color:#1a1a1a;transform:scaleX(0.8333);">$</span><span style="left:265.18px;top:646.48px;font-size:9.8px;line-height:12.25px;color:#1a1a1a;transform:scaleX(0.8659);">400.00</span><span style="left:302.20px;top:646.11px;font-size:10.8px;line-height:13.5px;color:#1a1a1a;transform:scaleX(0.8333);">$</span><span style="left:330.18px;top:646.48px;font-size:9.8px;line-height:12.25px;color:#1a1a1a;transform:scaleX(0.8659);">400.00</span><span style="left:367.20px;top:646.11px;font-size:10.8px;line-height:13.5px;color:#1a1a1a;transform:scaleX(0.8333);">$</span><span style="left:395.18px;top:646.48px;font-size:9.8px;line-height:12.25px;color:#1a1a1a;transform:scaleX(0.8659);">400.00</span><span style="left:432.20px;top:646.11px;font-size:10.8px;line-height:13.5px;color:#1a1a1a;transform:scaleX(0.8333);">$</span><span style="left:460.18px;top:646.48px;font-size:9.8px;line-height:12.25px;color:#1a1a1a;transform:scaleX(0.8659);">400.00</span><span style="left:497.20px;top:646.11px;font-size:10.8px;line-height:13.5px;color:#1a1a1a;transform:scaleX(0.8333);">$</span><span style="left:525.18px;top:646.48px;font-size:9.8px;line-height:12.25px;color:#1a1a1a;transform:scaleX(0.8659);">400.00</span><span style="left:562.20px;top:646.11px;font-size:10.8px;line-height:13.5px;color:#1a1a1a;transform:scaleX(0.8333);">$</span><span style="left:590.18px;top:646.48px;font-size:9.8px;line-height:12.25px;color:#1a1a1a;transform:scaleX(0.8659);">400.00</span><span style="left:627.20px;top:646.11px;font-size:10.8px;line-height:13.5px;color:#1a1a1a;transform:scaleX(0.8333);">$</span><span style="left:655.18px;top:646.48px;font-size:9.8px;line-height:12.25px;color:#1a1a1a;transform:scaleX(0.8659);">400.00</span><span style="left:692.20px;top:646.11px;font-size:10.8px;line-height:13.5px;color:#1a1a1a;transform:scaleX(0.8333);">$</span><span style="left:720.18px;top:646.48px;font-size:9.8px;line-height:12.25px;color:#1a1a1a;transform:scaleX(0.8659);">400.00</span><span style="left:757.20px;top:646.11px;font-size:10.8px;line-height:13.5px;color:#1a1a1a;transform:scaleX(0.8333);">$</span><span style="left:785.18px;top:646.48px;font-size:9.8px;line-height:12.25px;color:#1a1a1a;transform:scaleX(0.8659);">400.00</span><span style="left:822.20px;top:646.11px;font-size:10.8px;line-height:13.5px;color:#1a1a1a;transform:scaleX(0.8333);">$</span><span style="left:850.18px;top:646.48px;font-size:9.8px;line-height:12.25px;color:#1a1a1a;transform:scaleX(0.8659);">400.00</span><span style="left:887.20px;top:646.11px;font-size:10.8px;line-height:13.5px;color:#1a1a1a;transform:scaleX(0.8333);">$</span><span style="left:915.18px;top:646.48px;font-size:9.8px;line-height:12.25px;color:#1a1a1a;transform:scaleX(0.8659);">400.00</span><span style="left:952.20px;top:646.11px;font-size:10.8px;line-height:13.5px;color:#1a1a1a;transform:scaleX(0.8333);">$</span><span style="left:985.40px;top:646.48px;font-size:9.8px;line-height:12.25px;color:#1a1a1a;transform:scaleX(0.8659);">4,800.00</span><span style="left:28.40px;top:660.6px;font-size:10.5px;line-height:13.12px;color:#1a1a1a;transform:scaleX(1.1071);">Restaurants</span><span style="left:172.20px;top:662.11px;font-size:10.8px;line-height:13.5px;color:#1a1a1a;transform:scaleX(0.8333);">$</span><span style="left:200.18px;top:662.48px;font-size:9.8px;line-height:12.25px;color:#1a1a1a;transform:scaleX(0.8659);">250.00</span><span style="left:237.20px;top:662.11px;font-size:10.8px;line-height:13.5px;color:#1a1a1a;transform:scaleX(0.8333);">$</span><span style="left:265.18px;top:662.48px;font-size:9.8px;line-height:12.25px;color:#1a1a1a;transform:scaleX(0.8659);">250.00</span><span style="left:302.20px;top:662.11px;font-size:10.8px;line-height:13.5px;color:#1a1a1a;transform:scaleX(0.8333);">$</span><span style="left:330.18px;top:662.48px;font-size:9.8px;line-height:12.25px;color:#1a1a1a;transform:scaleX(0.8659);">250.00</span><span style="left:367.20px;top:662.11px;font-size:10.8px;line-height:13.5px;color:#1a1a1a;transform:scaleX(0.8333);">$</span><span style="left:395.18px;top:662.48px;font-size:9.8px;line-height:12.25px;color:#1a1a1a;transform:scaleX(0.8659);">250.00</span><span style="left:432.20px;top:662.11px;font-size:10.8px;line-height:13.5px;color:#1a1a1a;transform:scaleX(0.8333);">$</span><span style="left:460.18px;top:662.48px;font-size:9.8px;line-height:12.25px;color:#1a1a1a;transform:scaleX(0.8659);">250.00</span><span style="left:497.20px;top:662.11px;font-size:10.8px;line-height:13.5px;color:#1a1a1a;transform:scaleX(0.8333);">$</span><span style="left:525.18px;top:662.48px;font-size:9.8px;line-height:12.25px;color:#1a1a1a;transform:scaleX(0.8659);">250.00</span><span style="left:562.20px;top:662.11px;font-size:10.8px;line-height:13.5px;color:#1a1a1a;transform:scaleX(0.8333);">$</span><span style="left:590.18px;top:662.48px;font-size:9.8px;line-height:12.25px;color:#1a1a1a;transform:scaleX(0.8659);">250.00</span><span style="left:627.20px;top:662.11px;font-size:10.8px;line-height:13.5px;color:#1a1a1a;transform:scaleX(0.8333);">$</span><span style="left:655.18px;top:662.48px;font-size:9.8px;line-height:12.25px;color:#1a1a1a;transform:scaleX(0.8659);">250.00</span><span style="left:692.20px;top:662.11px;font-size:10.8px;line-height:13.5px;color:#1a1a1a;transform:scaleX(0.8333);">$</span><span style="left:720.18px;top:662.48px;font-size:9.8px;line-height:12.25px;color:#1a1a1a;transform:scaleX(0.8659);">250.00</span><span style="left:757.20px;top:662.11px;font-size:10.8px;line-height:13.5px;color:#1a1a1a;transform:scaleX(0.8333);">$</span><span style="left:785.18px;top:662.48px;font-size:9.8px;line-height:12.25px;color:#1a1a1a;transform:scaleX(0.8659);">250.00</span><span style="left:822.20px;top:662.11px;font-size:10.8px;line-height:13.5px;color:#1a1a1a;transform:scaleX(0.8333);">$</span><span style="left:850.18px;top:662.48px;font-size:9.8px;line-height:12.25px;color:#1a1a1a;transform:scaleX(0.8659);">250.00</span><span style="left:887.20px;top:662.11px;font-size:10.8px;line-height:13.5px;color:#1a1a1a;transform:scaleX(0.8333);">$</span><span style="left:915.18px;top:662.48px;font-size:9.8px;line-height:12.25px;color:#1a1a1a;transform:scaleX(0.8659);">250.00</span><span style="left:952.20px;top:662.11px;font-size:10.8px;line-height:13.5px;color:#1a1a1a;transform:scaleX(0.8333);">$</span><span style="left:985.40px;top:662.48px;font-size:9.8px;line-height:12.25px;color:#1a1a1a;transform:scaleX(0.8659);">3,000.00</span><span style="left:28.40px;top:676.6px;font-size:10.5px;line-height:13.12px;color:#1a1a1a;transform:scaleX(1.1373);">Garden Share</span><span style="left:172.20px;top:678.11px;font-size:10.8px;line-height:13.5px;color:#1a1a1a;transform:scaleX(0.8333);">$</span><span style="left:204.89px;top:678.48px;font-size:9.8px;line-height:12.25px;color:#1a1a1a;transform:scaleX(0.8659);">20.00</span><span style="left:237.20px;top:678.11px;font-size:10.8px;line-height:13.5px;color:#1a1a1a;transform:scaleX(0.8333);">$</span><span style="left:269.89px;top:678.48px;font-size:9.8px;line-height:12.25px;color:#1a1a1a;transform:scaleX(0.8659);">20.00</span><span style="left:302.20px;top:678.11px;font-size:10.8px;line-height:13.5px;color:#1a1a1a;transform:scaleX(0.8333);">$</span><span style="left:334.89px;top:678.48px;font-size:9.8px;line-height:12.25px;color:#1a1a1a;transform:scaleX(0.8659);">20.00</span><span style="left:367.20px;top:678.11px;font-size:10.8px;line-height:13.5px;color:#1a1a1a;transform:scaleX(0.8333);">$</span><span style="left:399.89px;top:678.48px;font-size:9.8px;line-height:12.25px;color:#1a1a1a;transform:scaleX(0.8659);">20.00</span><span style="left:432.20px;top:678.11px;font-size:10.8px;line-height:13.5px;color:#1a1a1a;transform:scaleX(0.8333);">$</span><span style="left:464.89px;top:678.48px;font-size:9.8px;line-height:12.25px;color:#1a1a1a;transform:scaleX(0.8659);">20.00</span><span style="left:497.20px;top:678.11px;font-size:10.8px;line-height:13.5px;color:#1a1a1a;transform:scaleX(0.8333);">$</span><span style="left:529.89px;top:678.48px;font-size:9.8px;line-height:12.25px;color:#1a1a1a;transform:scaleX(0.8659);">20.00</span><span style="left:562.20px;top:678.11px;font-size:10.8px;line-height:13.5px;color:#1a1a1a;transform:scaleX(0.8333);">$</span><span style="left:594.89px;top:678.48px;font-size:9.8px;line-height:12.25px;color:#1a1a1a;transform:scaleX(0.8659);">20.00</span><span style="left:627.20px;top:678.11px;font-size:10.8px;line-height:13.5px;color:#1a1a1a;transform:scaleX(0.8333);">$</span><span style="left:659.89px;top:678.48px;font-size:9.8px;line-height:12.25px;color:#1a1a1a;transform:scaleX(0.8659);">20.00</span><span style="left:692.20px;top:678.11px;font-size:10.8px;line-height:13.5px;color:#1a1a1a;transform:scaleX(0.8333);">$</span><span style="left:724.89px;top:678.48px;font-size:9.8px;line-height:12.25px;color:#1a1a1a;transform:scaleX(0.8659);">20.00</span><span style="left:757.20px;top:678.11px;font-size:10.8px;line-height:13.5px;color:#1a1a1a;transform:scaleX(0.8333);">$</span><span style="left:789.89px;top:678.48px;font-size:9.8px;line-height:12.25px;color:#1a1a1a;transform:scaleX(0.8659);">20.00</span><span style="left:822.20px;top:678.11px;font-size:10.8px;line-height:13.5px;color:#1a1a1a;transform:scaleX(0.8333);">$</span><span style="left:854.89px;top:678.48px;font-size:9.8px;line-height:12.25px;color:#1a1a1a;transform:scaleX(0.8659);">20.00</span><span style="left:887.20px;top:678.11px;font-size:10.8px;line-height:13.5px;color:#1a1a1a;transform:scaleX(0.8333);">$</span><span style="left:919.89px;top:678.48px;font-size:9.8px;line-height:12.25px;color:#1a1a1a;transform:scaleX(0.8659);">20.00</span><span style="left:952.20px;top:678.11px;font-size:10.8px;line-height:13.5px;color:#1a1a1a;transform:scaleX(0.8333);">$</span><span style="left:992.48px;top:678.48px;font-size:9.8px;line-height:12.25px;color:#1a1a1a;transform:scaleX(0.8659);">240.00</span><span style="left:28.40px;top:693.6px;font-size:10.5px;line-height:13.12px;font-weight:bold;color:#000;transform:scaleX(1.0220);-webkit-text-stroke:0.2px #000;">Transportation</span><span style="left:172.20px;top:695.11px;font-size:10.8px;line-height:13.5px;color:#1a1a1a;transform:scaleX(0.8333);">$</span><span style="left:200.18px;top:695.48px;font-size:9.8px;line-height:12.25px;color:#1a1a1a;transform:scaleX(0.8659);">660.00</span><span style="left:237.20px;top:695.11px;font-size:10.8px;line-height:13.5px;color:#1a1a1a;transform:scaleX(0.8333);">$</span><span style="left:265.18px;top:695.48px;font-size:9.8px;line-height:12.25px;color:#1a1a1a;transform:scaleX(0.8659);">660.00</span><span style="left:302.20px;top:695.11px;font-size:10.8px;line-height:13.5px;color:#1a1a1a;transform:scaleX(0.8333);">$</span><span style="left:330.18px;top:695.48px;font-size:9.8px;line-height:12.25px;color:#1a1a1a;transform:scaleX(0.8659);">660.00</span><span style="left:367.20px;top:695.11px;font-size:10.8px;line-height:13.5px;color:#1a1a1a;transform:scaleX(0.8333);">$</span><span style="left:395.18px;top:695.48px;font-size:9.8px;line-height:12.25px;color:#1a1a1a;transform:scaleX(0.8659);">660.00</span><span style="left:432.20px;top:695.11px;font-size:10.8px;line-height:13.5px;color:#1a1a1a;transform:scaleX(0.8333);">$</span><span style="left:460.18px;top:695.48px;font-size:9.8px;line-height:12.25px;color:#1a1a1a;transform:scaleX(0.8659);">660.00</span><span style="left:497.20px;top:695.11px;font-size:10.8px;line-height:13.5px;color:#1a1a1a;transform:scaleX(0.8333);">$</span><span style="left:525.18px;top:695.48px;font-size:9.8px;line-height:12.25px;color:#1a1a1a;transform:scaleX(0.8659);">660.00</span><span style="left:562.20px;top:695.11px;font-size:10.8px;line-height:13.5px;color:#1a1a1a;transform:scaleX(0.8333);">$</span><span style="left:590.18px;top:695.48px;font-size:9.8px;line-height:12.25px;color:#1a1a1a;transform:scaleX(0.8659);">660.00</span><span style="left:627.20px;top:695.11px;font-size:10.8px;line-height:13.5px;color:#1a1a1a;transform:scaleX(0.8333);">$</span><span style="left:655.18px;top:695.48px;font-size:9.8px;line-height:12.25px;color:#1a1a1a;transform:scaleX(0.8659);">660.00</span><span style="left:692.20px;top:695.11px;font-size:10.8px;line-height:13.5px;color:#1a1a1a;transform:scaleX(0.8333);">$</span><span style="left:720.18px;top:695.48px;font-size:9.8px;line-height:12.25px;color:#1a1a1a;transform:scaleX(0.8659);">660.00</span><span style="left:757.20px;top:695.11px;font-size:10.8px;line-height:13.5px;color:#1a1a1a;transform:scaleX(0.8333);">$</span><span style="left:785.18px;top:695.48px;font-size:9.8px;line-height:12.25px;color:#1a1a1a;transform:scaleX(0.8659);">660.00</span><span style="left:822.20px;top:695.11px;font-size:10.8px;line-height:13.5px;color:#1a1a1a;transform:scaleX(0.8333);">$</span><span style="left:850.18px;top:695.48px;font-size:9.8px;line-height:12.25px;color:#1a1a1a;transform:scaleX(0.8659);">660.00</span><span style="left:887.20px;top:695.11px;font-size:10.8px;line-height:13.5px;color:#1a1a1a;transform:scaleX(0.8333);">$</span><span style="left:915.18px;top:695.48px;font-size:9.8px;line-height:12.25px;color:#1a1a1a;transform:scaleX(0.8659);">660.00</span><span style="left:952.20px;top:695.11px;font-size:10.8px;line-height:13.5px;color:#1a1a1a;transform:scaleX(0.8333);">$</span><span style="left:985.40px;top:695.48px;font-size:9.8px;line-height:12.25px;color:#1a1a1a;transform:scaleX(0.8659);">7,920.00</span><span style="left:28.40px;top:710.6px;font-size:10.5px;line-height:13.12px;color:#1a1a1a;transform:scaleX(1.0252);">Fuel</span><span style="left:172.20px;top:712.11px;font-size:10.8px;line-height:13.5px;color:#1a1a1a;transform:scaleX(0.8333);">$</span><span style="left:204.89px;top:712.48px;font-size:9.8px;line-height:12.25px;color:#1a1a1a;transform:scaleX(0.8659);">60.00</span><span style="left:237.20px;top:712.11px;font-size:10.8px;line-height:13.5px;color:#1a1a1a;transform:scaleX(0.8333);">$</span><span style="left:269.89px;top:712.48px;font-size:9.8px;line-height:12.25px;color:#1a1a1a;transform:scaleX(0.8659);">60.00</span><span style="left:302.20px;top:712.11px;font-size:10.8px;line-height:13.5px;color:#1a1a1a;transform:scaleX(0.8333);">$</span><span style="left:334.89px;top:712.48px;font-size:9.8px;line-height:12.25px;color:#1a1a1a;transform:scaleX(0.8659);">60.00</span><span style="left:367.20px;top:712.11px;font-size:10.8px;line-height:13.5px;color:#1a1a1a;transform:scaleX(0.8333);">$</span><span style="left:399.89px;top:712.48px;font-size:9.8px;line-height:12.25px;color:#1a1a1a;transform:scaleX(0.8659);">60.00</span><span style="left:432.20px;top:712.11px;font-size:10.8px;line-height:13.5px;color:#1a1a1a;transform:scaleX(0.8333);">$</span><span style="left:464.89px;top:712.48px;font-size:9.8px;line-height:12.25px;color:#1a1a1a;transform:scaleX(0.8659);">60.00</span><span style="left:497.20px;top:712.11px;font-size:10.8px;line-height:13.5px;color:#1a1a1a;transform:scaleX(0.8333);">$</span><span style="left:529.89px;top:712.48px;font-size:9.8px;line-height:12.25px;color:#1a1a1a;transform:scaleX(0.8659);">60.00</span><span style="left:562.20px;top:712.11px;font-size:10.8px;line-height:13.5px;color:#1a1a1a;transform:scaleX(0.8333);">$</span><span style="left:594.89px;top:712.48px;font-size:9.8px;line-height:12.25px;color:#1a1a1a;transform:scaleX(0.8659);">60.00</span><span style="left:627.20px;top:712.11px;font-size:10.8px;line-height:13.5px;color:#1a1a1a;transform:scaleX(0.8333);">$</span><span style="left:659.89px;top:712.48px;font-size:9.8px;line-height:12.25px;color:#1a1a1a;transform:scaleX(0.8659);">60.00</span><span style="left:692.20px;top:712.11px;font-size:10.8px;line-height:13.5px;color:#1a1a1a;transform:scaleX(0.8333);">$</span><span style="left:724.89px;top:712.48px;font-size:9.8px;line-height:12.25px;color:#1a1a1a;transform:scaleX(0.8659);">60.00</span><span style="left:757.20px;top:712.11px;font-size:10.8px;line-height:13.5px;color:#1a1a1a;transform:scaleX(0.8333);">$</span><span style="left:789.89px;top:712.48px;font-size:9.8px;line-height:12.25px;color:#1a1a1a;transform:scaleX(0.8659);">60.00</span><span style="left:822.20px;top:712.11px;font-size:10.8px;line-height:13.5px;color:#1a1a1a;transform:scaleX(0.8333);">$</span><span style="left:854.89px;top:712.48px;font-size:9.8px;line-height:12.25px;color:#1a1a1a;transform:scaleX(0.8659);">60.00</span><span style="left:887.20px;top:712.11px;font-size:10.8px;line-height:13.5px;color:#1a1a1a;transform:scaleX(0.8333);">$</span><span style="left:919.89px;top:712.48px;font-size:9.8px;line-height:12.25px;color:#1a1a1a;transform:scaleX(0.8659);">60.00</span><span style="left:952.20px;top:712.11px;font-size:10.8px;line-height:13.5px;color:#1a1a1a;transform:scaleX(0.8333);">$</span><span style="left:992.48px;top:712.48px;font-size:9.8px;line-height:12.25px;color:#1a1a1a;transform:scaleX(0.8659);">720.00</span><span style="left:28.40px;top:726.6px;font-size:10.5px;line-height:13.12px;color:#1a1a1a;transform:scaleX(1.1447);">Lease / Car Payment</span><span style="left:172.20px;top:728.11px;font-size:10.8px;line-height:13.5px;color:#1a1a1a;transform:scaleX(0.8333);">$</span><span style="left:200.18px;top:728.48px;font-size:9.8px;line-height:12.25px;color:#1a1a1a;transform:scaleX(0.8659);">300.00</span><span style="left:237.20px;top:728.11px;font-size:10.8px;line-height:13.5px;color:#1a1a1a;transform:scaleX(0.8333);">$</span><span style="left:265.18px;top:728.48px;font-size:9.8px;line-height:12.25px;color:#1a1a1a;transform:scaleX(0.8659);">300.00</span><span style="left:302.20px;top:728.11px;font-size:10.8px;line-height:13.5px;color:#1a1a1a;transform:scaleX(0.8333);">$</span><span style="left:330.18px;top:728.48px;font-size:9.8px;line-height:12.25px;color:#1a1a1a;transform:scaleX(0.8659);">300.00</span><span style="left:367.20px;top:728.11px;font-size:10.8px;line-height:13.5px;color:#1a1a1a;transform:scaleX(0.8333);">$</span><span style="left:395.18px;top:728.48px;font-size:9.8px;line-height:12.25px;color:#1a1a1a;transform:scaleX(0.8659);">300.00</span><span style="left:432.20px;top:728.11px;font-size:10.8px;line-height:13.5px;color:#1a1a1a;transform:scaleX(0.8333);">$</span><span style="left:460.18px;top:728.48px;font-size:9.8px;line-height:12.25px;color:#1a1a1a;transform:scaleX(0.8659);">300.00</span><span style="left:497.20px;top:728.11px;font-size:10.8px;line-height:13.5px;color:#1a1a1a;transform:scaleX(0.8333);">$</span><span style="left:525.18px;top:728.48px;font-size:9.8px;line-height:12.25px;color:#1a1a1a;transform:scaleX(0.8659);">300.00</span><span style="left:562.20px;top:728.11px;font-size:10.8px;line-height:13.5px;color:#1a1a1a;transform:scaleX(0.8333);">$</span><span style="left:590.18px;top:728.48px;font-size:9.8px;line-height:12.25px;color:#1a1a1a;transform:scaleX(0.8659);">300.00</span><span style="left:627.20px;top:728.11px;font-size:10.8px;line-height:13.5px;color:#1a1a1a;transform:scaleX(0.8333);">$</span><span style="left:655.18px;top:728.48px;font-size:9.8px;line-height:12.25px;color:#1a1a1a;transform:scaleX(0.8659);">300.00</span><span style="left:692.20px;top:728.11px;font-size:10.8px;line-height:13.5px;color:#1a1a1a;transform:scaleX(0.8333);">$</span><span style="left:720.18px;top:728.48px;font-size:9.8px;line-height:12.25px;color:#1a1a1a;transform:scaleX(0.8659);">300.00</span><span style="left:757.20px;top:728.11px;font-size:10.8px;line-height:13.5px;color:#1a1a1a;transform:scaleX(0.8333);">$</span><span style="left:785.18px;top:728.48px;font-size:9.8px;line-height:12.25px;color:#1a1a1a;transform:scaleX(0.8659);">300.00</span><span style="left:822.20px;top:728.11px;font-size:10.8px;line-height:13.5px;color:#1a1a1a;transform:scaleX(0.8333);">$</span><span style="left:850.18px;top:728.48px;font-size:9.8px;line-height:12.25px;color:#1a1a1a;transform:scaleX(0.8659);">300.00</span><span style="left:887.20px;top:728.11px;font-size:10.8px;line-height:13.5px;color:#1a1a1a;transform:scaleX(0.8333);">$</span><span style="left:915.18px;top:728.48px;font-size:9.8px;line-height:12.25px;color:#1a1a1a;transform:scaleX(0.8659);">300.00</span><span style="left:952.20px;top:728.11px;font-size:10.8px;line-height:13.5px;color:#1a1a1a;transform:scaleX(0.8333);">$</span><span style="left:985.40px;top:728.48px;font-size:9.8px;line-height:12.25px;color:#1a1a1a;transform:scaleX(0.8659);">3,600.00</span><span style="left:28.40px;top:742.6px;font-size:10.5px;line-height:13.12px;color:#1a1a1a;transform:scaleX(1.1157);">Parking</span><span style="left:172.20px;top:744.11px;font-size:10.8px;line-height:13.5px;color:#1a1a1a;transform:scaleX(0.8333);">$</span><span style="left:200.18px;top:744.48px;font-size:9.8px;line-height:12.25px;color:#1a1a1a;transform:scaleX(0.8659);">145.00</span><span style="left:237.20px;top:744.11px;font-size:10.8px;line-height:13.5px;color:#1a1a1a;transform:scaleX(0.8333);">$</span><span style="left:265.18px;top:744.48px;font-size:9.8px;line-height:12.25px;color:#1a1a1a;transform:scaleX(0.8659);">145.00</span><span style="left:302.20px;top:744.11px;font-size:10.8px;line-height:13.5px;color:#1a1a1a;transform:scaleX(0.8333);">$</span><span style="left:330.18px;top:744.48px;font-size:9.8px;line-height:12.25px;color:#1a1a1a;transform:scaleX(0.8659);">145.00</span><span style="left:367.20px;top:744.11px;font-size:10.8px;line-height:13.5px;color:#1a1a1a;transform:scaleX(0.8333);">$</span><span style="left:395.18px;top:744.48px;font-size:9.8px;line-height:12.25px;color:#1a1a1a;transform:scaleX(0.8659);">145.00</span><span style="left:432.20px;top:744.11px;font-size:10.8px;line-height:13.5px;color:#1a1a1a;transform:scaleX(0.8333);">$</span><span style="left:460.18px;top:744.48px;font-size:9.8px;line-height:12.25px;color:#1a1a1a;transform:scaleX(0.8659);">145.00</span><span style="left:497.20px;top:744.11px;font-size:10.8px;line-height:13.5px;color:#1a1a1a;transform:scaleX(0.8333);">$</span><span style="left:525.18px;top:744.48px;font-size:9.8px;line-height:12.25px;color:#1a1a1a;transform:scaleX(0.8659);">145.00</span><span style="left:562.20px;top:744.11px;font-size:10.8px;line-height:13.5px;color:#1a1a1a;transform:scaleX(0.8333);">$</span><span style="left:590.18px;top:744.48px;font-size:9.8px;line-height:12.25px;color:#1a1a1a;transform:scaleX(0.8659);">145.00</span><span style="left:627.20px;top:744.11px;font-size:10.8px;line-height:13.5px;color:#1a1a1a;transform:scaleX(0.8333);">$</span><span style="left:655.18px;top:744.48px;font-size:9.8px;line-height:12.25px;color:#1a1a1a;transform:scaleX(0.8659);">145.00</span><span style="left:692.20px;top:744.11px;font-size:10.8px;line-height:13.5px;color:#1a1a1a;transform:scaleX(0.8333);">$</span><span style="left:720.18px;top:744.48px;font-size:9.8px;line-height:12.25px;color:#1a1a1a;transform:scaleX(0.8659);">145.00</span><span style="left:757.20px;top:744.11px;font-size:10.8px;line-height:13.5px;color:#1a1a1a;transform:scaleX(0.8333);">$</span><span style="left:785.18px;top:744.48px;font-size:9.8px;line-height:12.25px;color:#1a1a1a;transform:scaleX(0.8659);">145.00</span><span style="left:822.20px;top:744.11px;font-size:10.8px;line-height:13.5px;color:#1a1a1a;transform:scaleX(0.8333);">$</span><span style="left:850.18px;top:744.48px;font-size:9.8px;line-height:12.25px;color:#1a1a1a;transform:scaleX(0.8659);">145.00</span><span style="left:887.20px;top:744.11px;font-size:10.8px;line-height:13.5px;color:#1a1a1a;transform:scaleX(0.8333);">$</span><span style="left:915.18px;top:744.48px;font-size:9.8px;line-height:12.25px;color:#1a1a1a;transform:scaleX(0.8659);">145.00</span><span style="left:952.20px;top:744.11px;font-size:10.8px;line-height:13.5px;color:#1a1a1a;transform:scaleX(0.8333);">$</span><span style="left:985.40px;top:744.48px;font-size:9.8px;line-height:12.25px;color:#1a1a1a;transform:scaleX(0.8659);">1,740.00</span><span style="left:28.40px;top:758.6px;font-size:10.5px;line-height:13.12px;color:#1a1a1a;transform:scaleX(1.1043);">Insurance</span><span style="left:172.20px;top:760.11px;font-size:10.8px;line-height:13.5px;color:#1a1a1a;transform:scaleX(0.8333);">$</span><span style="left:204.89px;top:760.48px;font-size:9.8px;line-height:12.25px;color:#1a1a1a;transform:scaleX(0.8659);">80.00</span><span style="left:237.20px;top:760.11px;font-size:10.8px;line-height:13.5px;color:#1a1a1a;transform:scaleX(0.8333);">$</span><span style="left:269.89px;top:760.48px;font-size:9.8px;line-height:12.25px;color:#1a1a1a;transform:scaleX(0.8659);">80.00</span><span style="left:302.20px;top:760.11px;font-size:10.8px;line-height:13.5px;color:#1a1a1a;transform:scaleX(0.8333);">$</span><span style="left:334.89px;top:760.48px;font-size:9.8px;line-height:12.25px;color:#1a1a1a;transform:scaleX(0.8659);">80.00</span><span style="left:367.20px;top:760.11px;font-size:10.8px;line-height:13.5px;color:#1a1a1a;transform:scaleX(0.8333);">$</span><span style="left:399.89px;top:760.48px;font-size:9.8px;line-height:12.25px;color:#1a1a1a;transform:scaleX(0.8659);">80.00</span><span style="left:432.20px;top:760.11px;font-size:10.8px;line-height:13.5px;color:#1a1a1a;transform:scaleX(0.8333);">$</span><span style="left:464.89px;top:760.48px;font-size:9.8px;line-height:12.25px;color:#1a1a1a;transform:scaleX(0.8659);">80.00</span><span style="left:497.20px;top:760.11px;font-size:10.8px;line-height:13.5px;color:#1a1a1a;transform:scaleX(0.8333);">$</span><span style="left:529.89px;top:760.48px;font-size:9.8px;line-height:12.25px;color:#1a1a1a;transform:scaleX(0.8659);">80.00</span><span style="left:562.20px;top:760.11px;font-size:10.8px;line-height:13.5px;color:#1a1a1a;transform:scaleX(0.8333);">$</span><span style="left:594.89px;top:760.48px;font-size:9.8px;line-height:12.25px;color:#1a1a1a;transform:scaleX(0.8659);">80.00</span><span style="left:627.20px;top:760.11px;font-size:10.8px;line-height:13.5px;color:#1a1a1a;transform:scaleX(0.8333);">$</span><span style="left:659.89px;top:760.48px;font-size:9.8px;line-height:12.25px;color:#1a1a1a;transform:scaleX(0.8659);">80.00</span><span style="left:692.20px;top:760.11px;font-size:10.8px;line-height:13.5px;color:#1a1a1a;transform:scaleX(0.8333);">$</span><span style="left:724.89px;top:760.48px;font-size:9.8px;line-height:12.25px;color:#1a1a1a;transform:scaleX(0.8659);">80.00</span><span style="left:757.20px;top:760.11px;font-size:10.8px;line-height:13.5px;color:#1a1a1a;transform:scaleX(0.8333);">$</span><span style="left:789.89px;top:760.48px;font-size:9.8px;line-height:12.25px;color:#1a1a1a;transform:scaleX(0.8659);">80.00</span><span style="left:822.20px;top:760.11px;font-size:10.8px;line-height:13.5px;color:#1a1a1a;transform:scaleX(0.8333);">$</span><span style="left:854.89px;top:760.48px;font-size:9.8px;line-height:12.25px;color:#1a1a1a;transform:scaleX(0.8659);">80.00</span><span style="left:887.20px;top:760.11px;font-size:10.8px;line-height:13.5px;color:#1a1a1a;transform:scaleX(0.8333);">$</span><span style="left:919.89px;top:760.48px;font-size:9.8px;line-height:12.25px;color:#1a1a1a;transform:scaleX(0.8659);">80.00</span><span style="left:952.20px;top:760.11px;font-size:10.8px;line-height:13.5px;color:#1a1a1a;transform:scaleX(0.8333);">$</span><span style="left:992.48px;top:760.48px;font-size:9.8px;line-height:12.25px;color:#1a1a1a;transform:scaleX(0.8659);">960.00</span><span style="left:28.40px;top:774.6px;font-size:10.5px;line-height:13.12px;color:#1a1a1a;transform:scaleX(1.2159);">Maintenance</span><span style="left:172.20px;top:776.11px;font-size:10.8px;line-height:13.5px;color:#1a1a1a;transform:scaleX(0.8333);">$</span><span style="left:204.89px;top:776.48px;font-size:9.8px;line-height:12.25px;color:#1a1a1a;transform:scaleX(0.8659);">30.00</span><span style="left:237.20px;top:776.11px;font-size:10.8px;line-height:13.5px;color:#1a1a1a;transform:scaleX(0.8333);">$</span><span style="left:269.89px;top:776.48px;font-size:9.8px;line-height:12.25px;color:#1a1a1a;transform:scaleX(0.8659);">30.00</span><span style="left:302.20px;top:776.11px;font-size:10.8px;line-height:13.5px;color:#1a1a1a;transform:scaleX(0.8333);">$</span><span style="left:334.89px;top:776.48px;font-size:9.8px;line-height:12.25px;color:#1a1a1a;transform:scaleX(0.8659);">30.00</span><span style="left:367.20px;top:776.11px;font-size:10.8px;line-height:13.5px;color:#1a1a1a;transform:scaleX(0.8333);">$</span><span style="left:399.89px;top:776.48px;font-size:9.8px;line-height:12.25px;color:#1a1a1a;transform:scaleX(0.8659);">30.00</span><span style="left:432.20px;top:776.11px;font-size:10.8px;line-height:13.5px;color:#1a1a1a;transform:scaleX(0.8333);">$</span><span style="left:464.89px;top:776.48px;font-size:9.8px;line-height:12.25px;color:#1a1a1a;transform:scaleX(0.8659);">30.00</span><span style="left:497.20px;top:776.11px;font-size:10.8px;line-height:13.5px;color:#1a1a1a;transform:scaleX(0.8333);">$</span><span style="left:529.89px;top:776.48px;font-size:9.8px;line-height:12.25px;color:#1a1a1a;transform:scaleX(0.8659);">30.00</span><span style="left:562.20px;top:776.11px;font-size:10.8px;line-height:13.5px;color:#1a1a1a;transform:scaleX(0.8333);">$</span><span style="left:594.89px;top:776.48px;font-size:9.8px;line-height:12.25px;color:#1a1a1a;transform:scaleX(0.8659);">30.00</span><span style="left:627.20px;top:776.11px;font-size:10.8px;line-height:13.5px;color:#1a1a1a;transform:scaleX(0.8333);">$</span><span style="left:659.89px;top:776.48px;font-size:9.8px;line-height:12.25px;color:#1a1a1a;transform:scaleX(0.8659);">30.00</span><span style="left:692.20px;top:776.11px;font-size:10.8px;line-height:13.5px;color:#1a1a1a;transform:scaleX(0.8333);">$</span><span style="left:724.89px;top:776.48px;font-size:9.8px;line-height:12.25px;color:#1a1a1a;transform:scaleX(0.8659);">30.00</span><span style="left:757.20px;top:776.11px;font-size:10.8px;line-height:13.5px;color:#1a1a1a;transform:scaleX(0.8333);">$</span><span style="left:789.89px;top:776.48px;font-size:9.8px;line-height:12.25px;color:#1a1a1a;transform:scaleX(0.8659);">30.00</span><span style="left:822.20px;top:776.11px;font-size:10.8px;line-height:13.5px;color:#1a1a1a;transform:scaleX(0.8333);">$</span><span style="left:854.89px;top:776.48px;font-size:9.8px;line-height:12.25px;color:#1a1a1a;transform:scaleX(0.8659);">30.00</span><span style="left:887.20px;top:776.11px;font-size:10.8px;line-height:13.5px;color:#1a1a1a;transform:scaleX(0.8333);">$</span><span style="left:919.89px;top:776.48px;font-size:9.8px;line-height:12.25px;color:#1a1a1a;transform:scaleX(0.8659);">30.00</span><span style="left:952.20px;top:776.11px;font-size:10.8px;line-height:13.5px;color:#1a1a1a;transform:scaleX(0.8333);">$</span><span style="left:992.48px;top:776.48px;font-size:9.8px;line-height:12.25px;color:#1a1a1a;transform:scaleX(0.8659);">360.00</span><span style="left:28.40px;top:790.6px;font-size:10.5px;line-height:13.12px;color:#1a1a1a;transform:scaleX(1.0102);">Transit Pass</span><span style="left:172.20px;top:792.11px;font-size:10.8px;line-height:13.5px;color:#1a1a1a;transform:scaleX(0.8333);">$</span><span style="left:204.89px;top:792.48px;font-size:9.8px;line-height:12.25px;color:#1a1a1a;transform:scaleX(0.8659);">45.00</span><span style="left:237.20px;top:792.11px;font-size:10.8px;line-height:13.5px;color:#1a1a1a;transform:scaleX(0.8333);">$</span><span style="left:269.89px;top:792.48px;font-size:9.8px;line-height:12.25px;color:#1a1a1a;transform:scaleX(0.8659);">45.00</span><span style="left:302.20px;top:792.11px;font-size:10.8px;line-height:13.5px;color:#1a1a1a;transform:scaleX(0.8333);">$</span><span style="left:334.89px;top:792.48px;font-size:9.8px;line-height:12.25px;color:#1a1a1a;transform:scaleX(0.8659);">45.00</span><span style="left:367.20px;top:792.11px;font-size:10.8px;line-height:13.5px;color:#1a1a1a;transform:scaleX(0.8333);">$</span><span style="left:399.89px;top:792.48px;font-size:9.8px;line-height:12.25px;color:#1a1a1a;transform:scaleX(0.8659);">45.00</span><span style="left:432.20px;top:792.11px;font-size:10.8px;line-height:13.5px;color:#1a1a1a;transform:scaleX(0.8333);">$</span><span style="left:464.89px;top:792.48px;font-size:9.8px;line-height:12.25px;color:#1a1a1a;transform:scaleX(0.8659);">45.00</span><span style="left:497.20px;top:792.11px;font-size:10.8px;line-height:13.5px;color:#1a1a1a;transform:scaleX(0.8333);">$</span><span style="left:529.89px;top:792.48px;font-size:9.8px;line-height:12.25px;color:#1a1a1a;transform:scaleX(0.8659);">45.00</span><span style="left:562.20px;top:792.11px;font-size:10.8px;line-height:13.5px;color:#1a1a1a;transform:scaleX(0.8333);">$</span><span style="left:594.89px;top:792.48px;font-size:9.8px;line-height:12.25px;color:#1a1a1a;transform:scaleX(0.8659);">45.00</span><span style="left:627.20px;top:792.11px;font-size:10.8px;line-height:13.5px;color:#1a1a1a;transform:scaleX(0.8333);">$</span><span style="left:659.89px;top:792.48px;font-size:9.8px;line-height:12.25px;color:#1a1a1a;transform:scaleX(0.8659);">45.00</span><span style="left:692.20px;top:792.11px;font-size:10.8px;line-height:13.5px;color:#1a1a1a;transform:scaleX(0.8333);">$</span><span style="left:724.89px;top:792.48px;font-size:9.8px;line-height:12.25px;color:#1a1a1a;transform:scaleX(0.8659);">45.00</span><span style="left:757.20px;top:792.11px;font-size:10.8px;line-height:13.5px;color:#1a1a1a;transform:scaleX(0.8333);">$</span><span style="left:789.89px;top:792.48px;font-size:9.8px;line-height:12.25px;color:#1a1a1a;transform:scaleX(0.8659);">45.00</span><span style="left:822.20px;top:792.11px;font-size:10.8px;line-height:13.5px;color:#1a1a1a;transform:scaleX(0.8333);">$</span><span style="left:854.89px;top:792.48px;font-size:9.8px;line-height:12.25px;color:#1a1a1a;transform:scaleX(0.8659);">45.00</span><span style="left:887.20px;top:792.11px;font-size:10.8px;line-height:13.5px;color:#1a1a1a;transform:scaleX(0.8333);">$</span><span style="left:919.89px;top:792.48px;font-size:9.8px;line-height:12.25px;color:#1a1a1a;transform:scaleX(0.8659);">45.00</span><span style="left:952.20px;top:792.11px;font-size:10.8px;line-height:13.5px;color:#1a1a1a;transform:scaleX(0.8333);">$</span><span style="left:992.48px;top:792.48px;font-size:9.8px;line-height:12.25px;color:#1a1a1a;transform:scaleX(0.8659);">540.00</span><span style="left:28.40px;top:807.6px;font-size:10.5px;line-height:13.12px;font-weight:bold;color:#000;transform:scaleX(1.0424);-webkit-text-stroke:0.2px #000;">Other</span><span style="left:172.20px;top:809.11px;font-size:10.8px;line-height:13.5px;color:#1a1a1a;transform:scaleX(0.8333);">$</span><span style="left:200.18px;top:809.48px;font-size:9.8px;line-height:12.25px;color:#1a1a1a;transform:scaleX(0.8659);">751.00</span><span style="left:237.20px;top:809.11px;font-size:10.8px;line-height:13.5px;color:#1a1a1a;transform:scaleX(0.8333);">$</span><span style="left:265.18px;top:809.48px;font-size:9.8px;line-height:12.25px;color:#1a1a1a;transform:scaleX(0.8659);">751.00</span><span style="left:302.20px;top:809.11px;font-size:10.8px;line-height:13.5px;color:#1a1a1a;transform:scaleX(0.8333);">$</span><span style="left:330.18px;top:809.48px;font-size:9.8px;line-height:12.25px;color:#1a1a1a;transform:scaleX(0.8659);">751.00</span><span style="left:367.20px;top:809.11px;font-size:10.8px;line-height:13.5px;color:#1a1a1a;transform:scaleX(0.8333);">$</span><span style="left:395.18px;top:809.48px;font-size:9.8px;line-height:12.25px;color:#1a1a1a;transform:scaleX(0.8659);">751.00</span><span style="left:432.20px;top:809.11px;font-size:10.8px;line-height:13.5px;color:#1a1a1a;transform:scaleX(0.8333);">$</span><span style="left:460.18px;top:809.48px;font-size:9.8px;line-height:12.25px;color:#1a1a1a;transform:scaleX(0.8659);">751.00</span><span style="left:497.20px;top:809.11px;font-size:10.8px;line-height:13.5px;color:#1a1a1a;transform:scaleX(0.8333);">$</span><span style="left:525.18px;top:809.48px;font-size:9.8px;line-height:12.25px;color:#1a1a1a;transform:scaleX(0.8659);">751.00</span><span style="left:562.20px;top:809.11px;font-size:10.8px;line-height:13.5px;color:#1a1a1a;transform:scaleX(0.8333);">$</span><span style="left:590.18px;top:809.48px;font-size:9.8px;line-height:12.25px;color:#1a1a1a;transform:scaleX(0.8659);">751.00</span><span style="left:627.20px;top:809.11px;font-size:10.8px;line-height:13.5px;color:#1a1a1a;transform:scaleX(0.8333);">$</span><span style="left:655.18px;top:809.48px;font-size:9.8px;line-height:12.25px;color:#1a1a1a;transform:scaleX(0.8659);">751.00</span><span style="left:692.20px;top:809.11px;font-size:10.8px;line-height:13.5px;color:#1a1a1a;transform:scaleX(0.8333);">$</span><span style="left:720.18px;top:809.48px;font-size:9.8px;line-height:12.25px;color:#1a1a1a;transform:scaleX(0.8659);">751.00</span><span style="left:757.20px;top:809.11px;font-size:10.8px;line-height:13.5px;color:#1a1a1a;transform:scaleX(0.8333);">$</span><span style="left:785.18px;top:809.48px;font-size:9.8px;line-height:12.25px;color:#1a1a1a;transform:scaleX(0.8659);">751.00</span><span style="left:822.20px;top:809.11px;font-size:10.8px;line-height:13.5px;color:#1a1a1a;transform:scaleX(0.8333);">$</span><span style="left:850.18px;top:809.48px;font-size:9.8px;line-height:12.25px;color:#1a1a1a;transform:scaleX(0.8659);">751.00</span><span style="left:887.20px;top:809.11px;font-size:10.8px;line-height:13.5px;color:#1a1a1a;transform:scaleX(0.8333);">$</span><span style="left:915.18px;top:809.48px;font-size:9.8px;line-height:12.25px;color:#1a1a1a;transform:scaleX(0.8659);">751.00</span><span style="left:952.20px;top:809.11px;font-size:10.8px;line-height:13.5px;color:#1a1a1a;transform:scaleX(0.8333);">$</span><span style="left:985.40px;top:809.48px;font-size:9.8px;line-height:12.25px;color:#1a1a1a;transform:scaleX(0.8659);">9,012.00</span><span style="left:28.40px;top:824.6px;font-size:10.5px;line-height:13.12px;color:#1a1a1a;transform:scaleX(1.1717);">Charitable Donations</span><span style="left:172.20px;top:826.11px;font-size:10.8px;line-height:13.5px;color:#1a1a1a;transform:scaleX(0.8333);">$</span><span style="left:200.18px;top:826.48px;font-size:9.8px;line-height:12.25px;color:#1a1a1a;transform:scaleX(0.8659);">180.00</span><span style="left:237.20px;top:826.11px;font-size:10.8px;line-height:13.5px;color:#1a1a1a;transform:scaleX(0.8333);">$</span><span style="left:265.18px;top:826.48px;font-size:9.8px;line-height:12.25px;color:#1a1a1a;transform:scaleX(0.8659);">180.00</span><span style="left:302.20px;top:826.11px;font-size:10.8px;line-height:13.5px;color:#1a1a1a;transform:scaleX(0.8333);">$</span><span style="left:330.18px;top:826.48px;font-size:9.8px;line-height:12.25px;color:#1a1a1a;transform:scaleX(0.8659);">180.00</span><span style="left:367.20px;top:826.11px;font-size:10.8px;line-height:13.5px;color:#1a1a1a;transform:scaleX(0.8333);">$</span><span style="left:395.18px;top:826.48px;font-size:9.8px;line-height:12.25px;color:#1a1a1a;transform:scaleX(0.8659);">180.00</span><span style="left:432.20px;top:826.11px;font-size:10.8px;line-height:13.5px;color:#1a1a1a;transform:scaleX(0.8333);">$</span><span style="left:460.18px;top:826.48px;font-size:9.8px;line-height:12.25px;color:#1a1a1a;transform:scaleX(0.8659);">180.00</span><span style="left:497.20px;top:826.11px;font-size:10.8px;line-height:13.5px;color:#1a1a1a;transform:scaleX(0.8333);">$</span><span style="left:525.18px;top:826.48px;font-size:9.8px;line-height:12.25px;color:#1a1a1a;transform:scaleX(0.8659);">180.00</span><span style="left:562.20px;top:826.11px;font-size:10.8px;line-height:13.5px;color:#1a1a1a;transform:scaleX(0.8333);">$</span><span style="left:590.18px;top:826.48px;font-size:9.8px;line-height:12.25px;color:#1a1a1a;transform:scaleX(0.8659);">180.00</span><span style="left:627.20px;top:826.11px;font-size:10.8px;line-height:13.5px;color:#1a1a1a;transform:scaleX(0.8333);">$</span><span style="left:655.18px;top:826.48px;font-size:9.8px;line-height:12.25px;color:#1a1a1a;transform:scaleX(0.8659);">180.00</span><span style="left:692.20px;top:826.11px;font-size:10.8px;line-height:13.5px;color:#1a1a1a;transform:scaleX(0.8333);">$</span><span style="left:720.18px;top:826.48px;font-size:9.8px;line-height:12.25px;color:#1a1a1a;transform:scaleX(0.8659);">180.00</span><span style="left:757.20px;top:826.11px;font-size:10.8px;line-height:13.5px;color:#1a1a1a;transform:scaleX(0.8333);">$</span><span style="left:785.18px;top:826.48px;font-size:9.8px;line-height:12.25px;color:#1a1a1a;transform:scaleX(0.8659);">180.00</span><span style="left:822.20px;top:826.11px;font-size:10.8px;line-height:13.5px;color:#1a1a1a;transform:scaleX(0.8333);">$</span><span style="left:850.18px;top:826.48px;font-size:9.8px;line-height:12.25px;color:#1a1a1a;transform:scaleX(0.8659);">180.00</span><span style="left:887.20px;top:826.11px;font-size:10.8px;line-height:13.5px;color:#1a1a1a;transform:scaleX(0.8333);">$</span><span style="left:915.18px;top:826.48px;font-size:9.8px;line-height:12.25px;color:#1a1a1a;transform:scaleX(0.8659);">180.00</span><span style="left:952.20px;top:826.11px;font-size:10.8px;line-height:13.5px;color:#1a1a1a;transform:scaleX(0.8333);">$</span><span style="left:985.40px;top:826.48px;font-size:9.8px;line-height:12.25px;color:#1a1a1a;transform:scaleX(0.8659);">2,160.00</span><span style="left:28.40px;top:840.6px;font-size:10.5px;line-height:13.12px;color:#1a1a1a;transform:scaleX(1.0640);">Gifts</span><span style="left:172.20px;top:842.11px;font-size:10.8px;line-height:13.5px;color:#1a1a1a;transform:scaleX(0.8333);">$</span><span style="left:204.89px;top:842.48px;font-size:9.8px;line-height:12.25px;color:#1a1a1a;transform:scaleX(0.8659);">50.00</span><span style="left:237.20px;top:842.11px;font-size:10.8px;line-height:13.5px;color:#1a1a1a;transform:scaleX(0.8333);">$</span><span style="left:269.89px;top:842.48px;font-size:9.8px;line-height:12.25px;color:#1a1a1a;transform:scaleX(0.8659);">50.00</span><span style="left:302.20px;top:842.11px;font-size:10.8px;line-height:13.5px;color:#1a1a1a;transform:scaleX(0.8333);">$</span><span style="left:334.89px;top:842.48px;font-size:9.8px;line-height:12.25px;color:#1a1a1a;transform:scaleX(0.8659);">50.00</span><span style="left:367.20px;top:842.11px;font-size:10.8px;line-height:13.5px;color:#1a1a1a;transform:scaleX(0.8333);">$</span><span style="left:399.89px;top:842.48px;font-size:9.8px;line-height:12.25px;color:#1a1a1a;transform:scaleX(0.8659);">50.00</span><span style="left:432.20px;top:842.11px;font-size:10.8px;line-height:13.5px;color:#1a1a1a;transform:scaleX(0.8333);">$</span><span style="left:464.89px;top:842.48px;font-size:9.8px;line-height:12.25px;color:#1a1a1a;transform:scaleX(0.8659);">50.00</span><span style="left:497.20px;top:842.11px;font-size:10.8px;line-height:13.5px;color:#1a1a1a;transform:scaleX(0.8333);">$</span><span style="left:529.89px;top:842.48px;font-size:9.8px;line-height:12.25px;color:#1a1a1a;transform:scaleX(0.8659);">50.00</span><span style="left:562.20px;top:842.11px;font-size:10.8px;line-height:13.5px;color:#1a1a1a;transform:scaleX(0.8333);">$</span><span style="left:594.89px;top:842.48px;font-size:9.8px;line-height:12.25px;color:#1a1a1a;transform:scaleX(0.8659);">50.00</span><span style="left:627.20px;top:842.11px;font-size:10.8px;line-height:13.5px;color:#1a1a1a;transform:scaleX(0.8333);">$</span><span style="left:659.89px;top:842.48px;font-size:9.8px;line-height:12.25px;color:#1a1a1a;transform:scaleX(0.8659);">50.00</span><span style="left:692.20px;top:842.11px;font-size:10.8px;line-height:13.5px;color:#1a1a1a;transform:scaleX(0.8333);">$</span><span style="left:724.89px;top:842.48px;font-size:9.8px;line-height:12.25px;color:#1a1a1a;transform:scaleX(0.8659);">50.00</span><span style="left:757.20px;top:842.11px;font-size:10.8px;line-height:13.5px;color:#1a1a1a;transform:scaleX(0.8333);">$</span><span style="left:789.89px;top:842.48px;font-size:9.8px;line-height:12.25px;color:#1a1a1a;transform:scaleX(0.8659);">50.00</span><span style="left:822.20px;top:842.11px;font-size:10.8px;line-height:13.5px;color:#1a1a1a;transform:scaleX(0.8333);">$</span><span style="left:854.89px;top:842.48px;font-size:9.8px;line-height:12.25px;color:#1a1a1a;transform:scaleX(0.8659);">50.00</span><span style="left:887.20px;top:842.11px;font-size:10.8px;line-height:13.5px;color:#1a1a1a;transform:scaleX(0.8333);">$</span><span style="left:919.89px;top:842.48px;font-size:9.8px;line-height:12.25px;color:#1a1a1a;transform:scaleX(0.8659);">50.00</span><span style="left:952.20px;top:842.11px;font-size:10.8px;line-height:13.5px;color:#1a1a1a;transform:scaleX(0.8333);">$</span><span style="left:992.48px;top:842.48px;font-size:9.8px;line-height:12.25px;color:#1a1a1a;transform:scaleX(0.8659);">600.00</span><span style="left:28.40px;top:856.6px;font-size:10.5px;line-height:13.12px;color:#1a1a1a;transform:scaleX(1.0518);">Events</span><span style="left:172.20px;top:858.11px;font-size:10.8px;line-height:13.5px;color:#1a1a1a;transform:scaleX(0.8333);">$</span><span style="left:204.89px;top:858.48px;font-size:9.8px;line-height:12.25px;color:#1a1a1a;transform:scaleX(0.8659);">21.00</span><span style="left:237.20px;top:858.11px;font-size:10.8px;line-height:13.5px;color:#1a1a1a;transform:scaleX(0.8333);">$</span><span style="left:269.89px;top:858.48px;font-size:9.8px;line-height:12.25px;color:#1a1a1a;transform:scaleX(0.8659);">21.00</span><span style="left:302.20px;top:858.11px;font-size:10.8px;line-height:13.5px;color:#1a1a1a;transform:scaleX(0.8333);">$</span><span style="left:334.89px;top:858.48px;font-size:9.8px;line-height:12.25px;color:#1a1a1a;transform:scaleX(0.8659);">21.00</span><span style="left:367.20px;top:858.11px;font-size:10.8px;line-height:13.5px;color:#1a1a1a;transform:scaleX(0.8333);">$</span><span style="left:399.89px;top:858.48px;font-size:9.8px;line-height:12.25px;color:#1a1a1a;transform:scaleX(0.8659);">21.00</span><span style="left:432.20px;top:858.11px;font-size:10.8px;line-height:13.5px;color:#1a1a1a;transform:scaleX(0.8333);">$</span><span style="left:464.89px;top:858.48px;font-size:9.8px;line-height:12.25px;color:#1a1a1a;transform:scaleX(0.8659);">21.00</span><span style="left:497.20px;top:858.11px;font-size:10.8px;line-height:13.5px;color:#1a1a1a;transform:scaleX(0.8333);">$</span><span style="left:529.89px;top:858.48px;font-size:9.8px;line-height:12.25px;color:#1a1a1a;transform:scaleX(0.8659);">21.00</span><span style="left:562.20px;top:858.11px;font-size:10.8px;line-height:13.5px;color:#1a1a1a;transform:scaleX(0.8333);">$</span><span style="left:594.89px;top:858.48px;font-size:9.8px;line-height:12.25px;color:#1a1a1a;transform:scaleX(0.8659);">21.00</span><span style="left:627.20px;top:858.11px;font-size:10.8px;line-height:13.5px;color:#1a1a1a;transform:scaleX(0.8333);">$</span><span style="left:659.89px;top:858.48px;font-size:9.8px;line-height:12.25px;color:#1a1a1a;transform:scaleX(0.8659);">21.00</span><span style="left:692.20px;top:858.11px;font-size:10.8px;line-height:13.5px;color:#1a1a1a;transform:scaleX(0.8333);">$</span><span style="left:724.89px;top:858.48px;font-size:9.8px;line-height:12.25px;color:#1a1a1a;transform:scaleX(0.8659);">21.00</span><span style="left:757.20px;top:858.11px;font-size:10.8px;line-height:13.5px;color:#1a1a1a;transform:scaleX(0.8333);">$</span><span style="left:789.89px;top:858.48px;font-size:9.8px;line-height:12.25px;color:#1a1a1a;transform:scaleX(0.8659);">21.00</span><span style="left:822.20px;top:858.11px;font-size:10.8px;line-height:13.5px;color:#1a1a1a;transform:scaleX(0.8333);">$</span><span style="left:854.89px;top:858.48px;font-size:9.8px;line-height:12.25px;color:#1a1a1a;transform:scaleX(0.8659);">21.00</span><span style="left:887.20px;top:858.11px;font-size:10.8px;line-height:13.5px;color:#1a1a1a;transform:scaleX(0.8333);">$</span><span style="left:919.89px;top:858.48px;font-size:9.8px;line-height:12.25px;color:#1a1a1a;transform:scaleX(0.8659);">21.00</span><span style="left:952.20px;top:858.11px;font-size:10.8px;line-height:13.5px;color:#1a1a1a;transform:scaleX(0.8333);">$</span><span style="left:992.48px;top:858.48px;font-size:9.8px;line-height:12.25px;color:#1a1a1a;transform:scaleX(0.8659);">252.00</span><span style="left:28.40px;top:872.6px;font-size:10.5px;line-height:13.12px;color:#1a1a1a;transform:scaleX(1.0376);">Savings</span><span style="left:172.20px;top:874.11px;font-size:10.8px;line-height:13.5px;color:#1a1a1a;transform:scaleX(0.8333);">$</span><span style="left:200.18px;top:874.48px;font-size:9.8px;line-height:12.25px;color:#1a1a1a;transform:scaleX(0.8659);">500.00</span><span style="left:237.20px;top:874.11px;font-size:10.8px;line-height:13.5px;color:#1a1a1a;transform:scaleX(0.8333);">$</span><span style="left:265.18px;top:874.48px;font-size:9.8px;line-height:12.25px;color:#1a1a1a;transform:scaleX(0.8659);">500.00</span><span style="left:302.20px;top:874.11px;font-size:10.8px;line-height:13.5px;color:#1a1a1a;transform:scaleX(0.8333);">$</span><span style="left:330.18px;top:874.48px;font-size:9.8px;line-height:12.25px;color:#1a1a1a;transform:scaleX(0.8659);">500.00</span><span style="left:367.20px;top:874.11px;font-size:10.8px;line-height:13.5px;color:#1a1a1a;transform:scaleX(0.8333);">$</span><span style="left:395.18px;top:874.48px;font-size:9.8px;line-height:12.25px;color:#1a1a1a;transform:scaleX(0.8659);">500.00</span><span style="left:432.20px;top:874.11px;font-size:10.8px;line-height:13.5px;color:#1a1a1a;transform:scaleX(0.8333);">$</span><span style="left:460.18px;top:874.48px;font-size:9.8px;line-height:12.25px;color:#1a1a1a;transform:scaleX(0.8659);">500.00</span><span style="left:497.20px;top:874.11px;font-size:10.8px;line-height:13.5px;color:#1a1a1a;transform:scaleX(0.8333);">$</span><span style="left:525.18px;top:874.48px;font-size:9.8px;line-height:12.25px;color:#1a1a1a;transform:scaleX(0.8659);">500.00</span><span style="left:562.20px;top:874.11px;font-size:10.8px;line-height:13.5px;color:#1a1a1a;transform:scaleX(0.8333);">$</span><span style="left:590.18px;top:874.48px;font-size:9.8px;line-height:12.25px;color:#1a1a1a;transform:scaleX(0.8659);">500.00</span><span style="left:627.20px;top:874.11px;font-size:10.8px;line-height:13.5px;color:#1a1a1a;transform:scaleX(0.8333);">$</span><span style="left:655.18px;top:874.48px;font-size:9.8px;line-height:12.25px;color:#1a1a1a;transform:scaleX(0.8659);">500.00</span><span style="left:692.20px;top:874.11px;font-size:10.8px;line-height:13.5px;color:#1a1a1a;transform:scaleX(0.8333);">$</span><span style="left:720.18px;top:874.48px;font-size:9.8px;line-height:12.25px;color:#1a1a1a;transform:scaleX(0.8659);">500.00</span><span style="left:757.20px;top:874.11px;font-size:10.8px;line-height:13.5px;color:#1a1a1a;transform:scaleX(0.8333);">$</span><span style="left:785.18px;top:874.48px;font-size:9.8px;line-height:12.25px;color:#1a1a1a;transform:scaleX(0.8659);">500.00</span><span style="left:822.20px;top:874.11px;font-size:10.8px;line-height:13.5px;color:#1a1a1a;transform:scaleX(0.8333);">$</span><span style="left:850.18px;top:874.48px;font-size:9.8px;line-height:12.25px;color:#1a1a1a;transform:scaleX(0.8659);">500.00</span><span style="left:887.20px;top:874.11px;font-size:10.8px;line-height:13.5px;color:#1a1a1a;transform:scaleX(0.8333);">$</span><span style="left:915.18px;top:874.48px;font-size:9.8px;line-height:12.25px;color:#1a1a1a;transform:scaleX(0.8659);">500.00</span><span style="left:952.20px;top:874.11px;font-size:10.8px;line-height:13.5px;color:#1a1a1a;transform:scaleX(0.8333);">$</span><span style="left:985.40px;top:874.48px;font-size:9.8px;line-height:12.25px;color:#1a1a1a;transform:scaleX(0.8659);">6,000.00</span><span style="left:28.40px;top:888.6px;font-size:10.5px;line-height:13.12px;color:#1a1a1a;transform:scaleX(1.0890);">School</span><span style="left:172.20px;top:890.11px;font-size:10.8px;line-height:13.5px;color:#1a1a1a;transform:scaleX(0.8333);">$</span><span style="left:213.00px;top:890.48px;font-size:9.8px;line-height:12.25px;color:#1a1a1a;transform:scaleX(0.8659);">-</span><span style="left:237.20px;top:890.11px;font-size:10.8px;line-height:13.5px;color:#1a1a1a;transform:scaleX(0.8333);">$</span><span style="left:278.00px;top:890.48px;font-size:9.8px;line-height:12.25px;color:#1a1a1a;transform:scaleX(0.8659);">-</span><span style="left:302.20px;top:890.11px;font-size:10.8px;line-height:13.5px;color:#1a1a1a;transform:scaleX(0.8333);">$</span><span style="left:343.00px;top:890.48px;font-size:9.8px;line-height:12.25px;color:#1a1a1a;transform:scaleX(0.8659);">-</span><span style="left:367.20px;top:890.11px;font-size:10.8px;line-height:13.5px;color:#1a1a1a;transform:scaleX(0.8333);">$</span><span style="left:408.00px;top:890.48px;font-size:9.8px;line-height:12.25px;color:#1a1a1a;transform:scaleX(0.8659);">-</span><span style="left:432.20px;top:890.11px;font-size:10.8px;line-height:13.5px;color:#1a1a1a;transform:scaleX(0.8333);">$</span><span style="left:473.00px;top:890.48px;font-size:9.8px;line-height:12.25px;color:#1a1a1a;transform:scaleX(0.8659);">-</span><span style="left:497.20px;top:890.11px;font-size:10.8px;line-height:13.5px;color:#1a1a1a;transform:scaleX(0.8333);">$</span><span style="left:538.00px;top:890.48px;font-size:9.8px;line-height:12.25px;color:#1a1a1a;transform:scaleX(0.8659);">-</span><span style="left:562.20px;top:890.11px;font-size:10.8px;line-height:13.5px;color:#1a1a1a;transform:scaleX(0.8333);">$</span><span style="left:603.00px;top:890.48px;font-size:9.8px;line-height:12.25px;color:#1a1a1a;transform:scaleX(0.8659);">-</span><span style="left:627.20px;top:890.11px;font-size:10.8px;line-height:13.5px;color:#1a1a1a;transform:scaleX(0.8333);">$</span><span style="left:668.00px;top:890.48px;font-size:9.8px;line-height:12.25px;color:#1a1a1a;transform:scaleX(0.8659);">-</span><span style="left:692.20px;top:890.11px;font-size:10.8px;line-height:13.5px;color:#1a1a1a;transform:scaleX(0.8333);">$</span><span style="left:733.00px;top:890.48px;font-size:9.8px;line-height:12.25px;color:#1a1a1a;transform:scaleX(0.8659);">-</span><span style="left:757.20px;top:890.11px;font-size:10.8px;line-height:13.5px;color:#1a1a1a;transform:scaleX(0.8333);">$</span><span style="left:798.00px;top:890.48px;font-size:9.8px;line-height:12.25px;color:#1a1a1a;transform:scaleX(0.8659);">-</span><span style="left:822.20px;top:890.11px;font-size:10.8px;line-height:13.5px;color:#1a1a1a;transform:scaleX(0.8333);">$</span><span style="left:863.00px;top:890.48px;font-size:9.8px;line-height:12.25px;color:#1a1a1a;transform:scaleX(0.8659);">-</span><span style="left:887.20px;top:890.11px;font-size:10.8px;line-height:13.5px;color:#1a1a1a;transform:scaleX(0.8333);">$</span><span style="left:928.00px;top:890.48px;font-size:9.8px;line-height:12.25px;color:#1a1a1a;transform:scaleX(0.8659);">-</span><span style="left:952.20px;top:890.11px;font-size:10.8px;line-height:13.5px;color:#1a1a1a;transform:scaleX(0.8333);">$</span><span style="left:1005.30px;top:890.48px;font-size:9.8px;line-height:12.25px;color:#1a1a1a;transform:scaleX(0.8659);">-</span><span style="left:277.00px;top:914.44px;font-size:12px;line-height:15.0px;color:#111;-webkit-text-stroke:0.3px #111;">JAN</span><span style="left:355.33px;top:914.44px;font-size:12px;line-height:15.0px;color:#111;-webkit-text-stroke:0.3px #111;">FEB</span><span style="left:432.50px;top:914.44px;font-size:12px;line-height:15.0px;color:#111;-webkit-text-stroke:0.3px #111;">MAR</span><span style="left:512.50px;top:914.44px;font-size:12px;line-height:15.0px;color:#111;-webkit-text-stroke:0.3px #111;">APR</span><span style="left:591.45px;top:914.44px;font-size:12px;line-height:15.0px;color:#111;-webkit-text-stroke:0.3px #111;">MAY</span><span style="left:671.67px;top:914.44px;font-size:12px;line-height:15.0px;color:#111;-webkit-text-stroke:0.3px #111;">JUN</span><span style="left:751.17px;top:914.44px;font-size:12px;line-height:15.0px;color:#111;-webkit-text-stroke:0.3px #111;">JUL</span><span style="left:828.17px;top:914.44px;font-size:12px;line-height:15.0px;color:#111;-webkit-text-stroke:0.3px #111;">AUG</span><span style="left:903.99px;top:914.44px;font-size:12px;line-height:15.0px;color:#111;-webkit-text-stroke:0.3px #111;">SEPT</span><span style="left:986.00px;top:914.44px;font-size:12px;line-height:15.0px;color:#111;-webkit-text-stroke:0.3px #111;">OCT</span><span style="left:58.50px;top:914.34px;font-size:12px;line-height:15.0px;font-weight:bold;color:#1c7c3e;">Income and Expenses Report</span>
</body></html>
